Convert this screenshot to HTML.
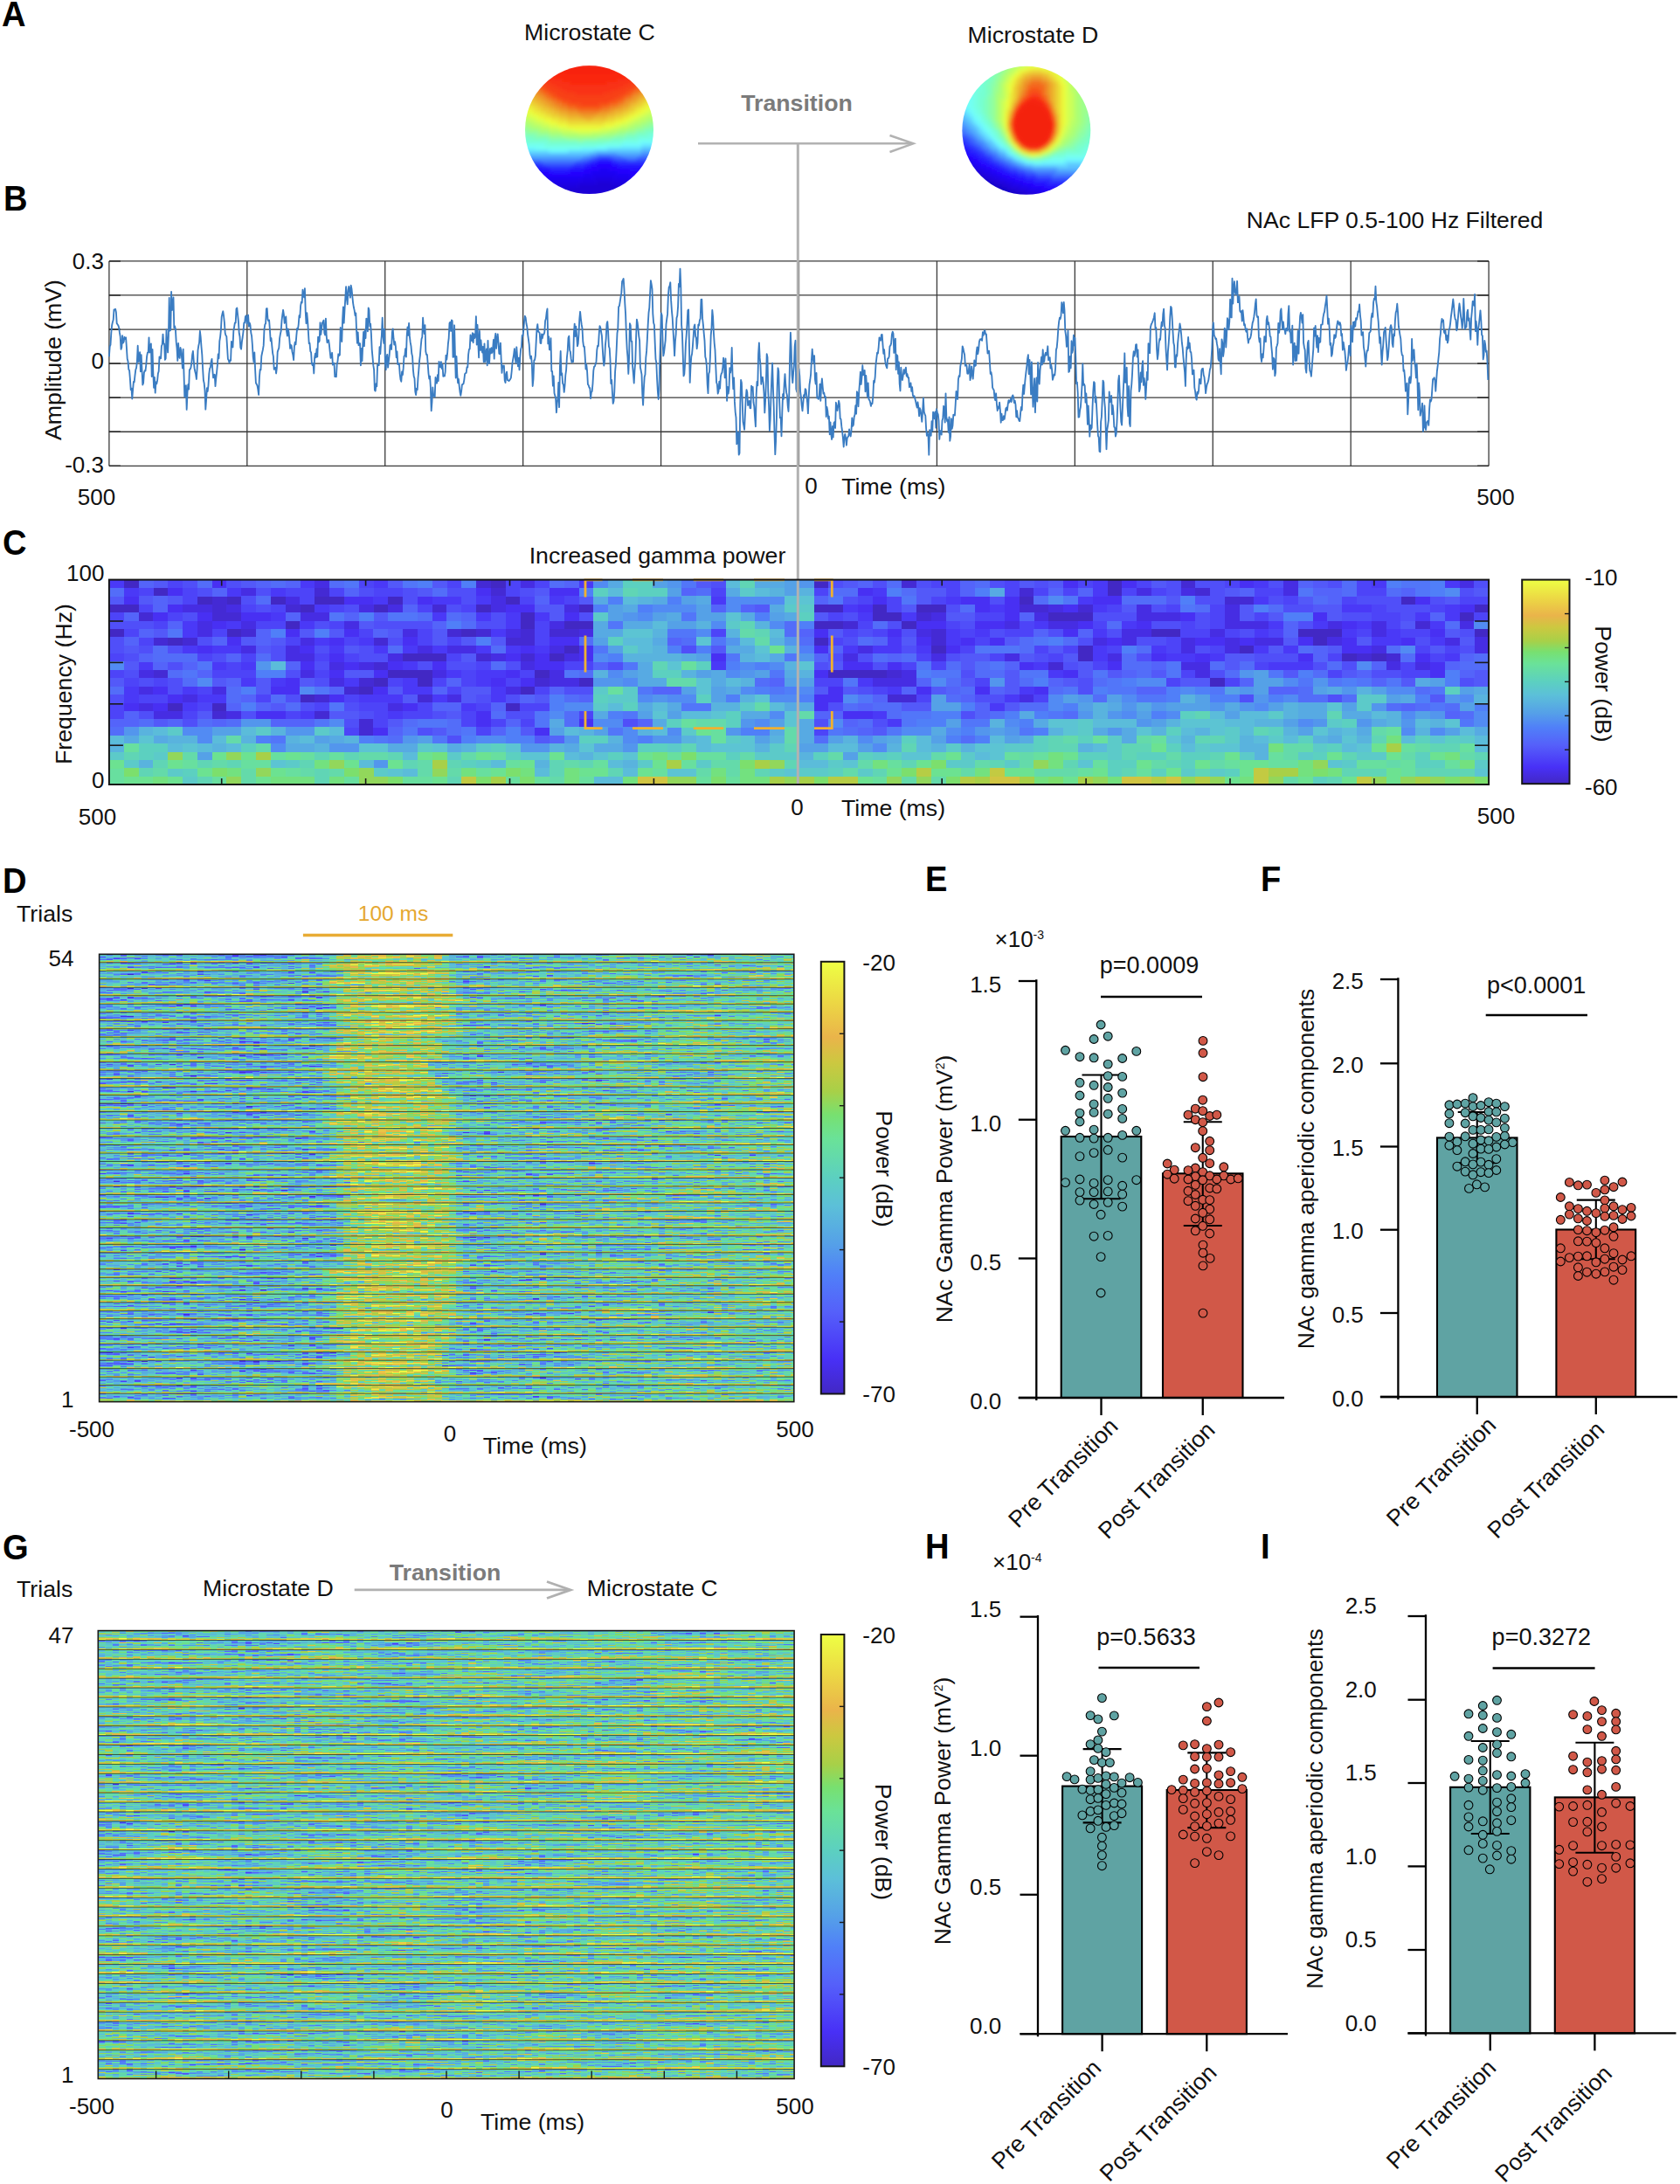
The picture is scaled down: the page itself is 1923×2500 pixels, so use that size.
<!DOCTYPE html>
<html lang="en"><head><meta charset="utf-8"><title>Figure</title>
<style>html,body{margin:0;padding:0;background:#fff}svg{display:block}text{font-family:"Liberation Sans", Arial, Helvetica, sans-serif;font-size:26px;fill:#111}</style>
</head><body>
<svg width="1923" height="2500" viewBox="0 0 1923 2500">
<defs>
<linearGradient id="cb" x1="0" y1="0" x2="0" y2="1"><stop offset="0.000" stop-color="#EEFF44"/><stop offset="0.092" stop-color="#ECD844"/><stop offset="0.175" stop-color="#EAB44A"/><stop offset="0.234" stop-color="#CCC840"/><stop offset="0.300" stop-color="#A8D048"/><stop offset="0.354" stop-color="#78E070"/><stop offset="0.410" stop-color="#6AE298"/><stop offset="0.500" stop-color="#5CD0C0"/><stop offset="0.564" stop-color="#5CC0D8"/><stop offset="0.654" stop-color="#55A0E8"/><stop offset="0.723" stop-color="#5080F8"/><stop offset="0.810" stop-color="#5560FA"/><stop offset="0.920" stop-color="#4830F6"/><stop offset="1.000" stop-color="#4228C4"/></linearGradient>
<filter id="hD" x="0" y="0" width="1" height="1" color-interpolation-filters="sRGB"><feTurbulence type="fractalNoise" baseFrequency="0.11 0.6" numOctaves="2" seed="5" result="n"/><feColorMatrix in="n" type="matrix" values="1 0 0 0 0 1 0 0 0 0 1 0 0 0 0 0 0 0 0 1" result="g"/><feComposite in="SourceGraphic" in2="g" operator="arithmetic" k1="0" k2="1" k3="0.85" k4="-0.425" result="v0"/><feTurbulence type="fractalNoise" baseFrequency="0.012 0.45" numOctaves="2" seed="12" result="n2"/><feColorMatrix in="n2" type="matrix" values="0 1 0 0 0 0 1 0 0 0 0 1 0 0 0 0 0 0 0 1" result="g2"/><feComposite in="v0" in2="g2" operator="arithmetic" k1="0" k2="1" k3="0.7" k4="-0.35" result="v"/><feFlood flood-color="#000" x="117" y="1092" width="1" height="514" result="st"/><feOffset in="st" dx="0" dy="0" x="113" y="1092" width="8" height="514" result="cl"/><feTile in="cl" x="113" y="1092" width="808" height="514" result="gr"/><feComposite in="v" in2="gr" operator="in" result="sm"/><feMorphology in="sm" operator="dilate" radius="4 0" result="px"/><feComponentTransfer in="px"><feFuncR type="table" tableValues="0.259 0.266 0.274 0.281 0.292 0.303 0.315 0.326 0.331 0.325 0.320 0.314 0.320 0.327 0.335 0.342 0.350 0.357 0.361 0.361 0.361 0.376 0.391 0.407 0.425 0.450 0.485 0.572 0.659 0.712 0.766 0.818 0.868 0.918 0.920 0.922 0.925 0.927 0.929 0.931 0.933"/><feFuncG type="table" tableValues="0.157 0.167 0.176 0.186 0.222 0.265 0.308 0.351 0.391 0.427 0.463 0.499 0.544 0.589 0.633 0.668 0.703 0.738 0.767 0.791 0.816 0.835 0.855 0.875 0.885 0.881 0.874 0.845 0.816 0.804 0.792 0.772 0.739 0.706 0.748 0.791 0.833 0.875 0.917 0.958 1.000"/><feFuncB type="table" tableValues="0.769 0.830 0.891 0.952 0.968 0.971 0.975 0.978 0.979 0.977 0.975 0.973 0.952 0.929 0.907 0.890 0.872 0.855 0.826 0.790 0.753 0.709 0.666 0.622 0.568 0.498 0.428 0.355 0.282 0.270 0.259 0.257 0.274 0.290 0.283 0.276 0.269 0.267 0.267 0.267 0.267"/></feComponentTransfer></filter>
<filter id="hG" x="0" y="0" width="1" height="1" color-interpolation-filters="sRGB"><feTurbulence type="fractalNoise" baseFrequency="0.11 0.6" numOctaves="2" seed="11" result="n"/><feColorMatrix in="n" type="matrix" values="1 0 0 0 0 1 0 0 0 0 1 0 0 0 0 0 0 0 0 1" result="g"/><feComposite in="SourceGraphic" in2="g" operator="arithmetic" k1="0" k2="1" k3="0.75" k4="-0.375" result="v0"/><feTurbulence type="fractalNoise" baseFrequency="0.012 0.45" numOctaves="2" seed="18" result="n2"/><feColorMatrix in="n2" type="matrix" values="0 1 0 0 0 0 1 0 0 0 0 1 0 0 0 0 0 0 0 1" result="g2"/><feComposite in="v0" in2="g2" operator="arithmetic" k1="0" k2="1" k3="0.7" k4="-0.35" result="v"/><feFlood flood-color="#000" x="116" y="1866" width="1" height="515" result="st"/><feOffset in="st" dx="0" dy="0" x="112" y="1866" width="8" height="515" result="cl"/><feTile in="cl" x="112" y="1866" width="808" height="515" result="gr"/><feComposite in="v" in2="gr" operator="in" result="sm"/><feMorphology in="sm" operator="dilate" radius="4 0" result="px"/><feComponentTransfer in="px"><feFuncR type="table" tableValues="0.259 0.266 0.274 0.281 0.292 0.303 0.315 0.326 0.331 0.325 0.320 0.314 0.320 0.327 0.335 0.342 0.350 0.357 0.361 0.361 0.361 0.376 0.391 0.407 0.425 0.450 0.485 0.572 0.659 0.712 0.766 0.818 0.868 0.918 0.920 0.922 0.925 0.927 0.929 0.931 0.933"/><feFuncG type="table" tableValues="0.157 0.167 0.176 0.186 0.222 0.265 0.308 0.351 0.391 0.427 0.463 0.499 0.544 0.589 0.633 0.668 0.703 0.738 0.767 0.791 0.816 0.835 0.855 0.875 0.885 0.881 0.874 0.845 0.816 0.804 0.792 0.772 0.739 0.706 0.748 0.791 0.833 0.875 0.917 0.958 1.000"/><feFuncB type="table" tableValues="0.769 0.830 0.891 0.952 0.968 0.971 0.975 0.978 0.979 0.977 0.975 0.973 0.952 0.929 0.907 0.890 0.872 0.855 0.826 0.790 0.753 0.709 0.666 0.622 0.568 0.498 0.428 0.355 0.282 0.270 0.259 0.257 0.274 0.290 0.283 0.276 0.269 0.267 0.267 0.267 0.267"/></feComponentTransfer></filter>
<clipPath id="cC"><circle cx="674.5" cy="148.6" r="73.5"/></clipPath>
<clipPath id="cD"><circle cx="1174.8" cy="149.3" r="73.5"/></clipPath>
<filter id="tblur" x="-0.05" y="-0.05" width="1.1" height="1.1"><feGaussianBlur stdDeviation="2"/></filter>
<linearGradient id="bumpD" x1="0" y1="0" x2="1" y2="0"><stop offset="0" stop-color="#fff" stop-opacity="0"/><stop offset="0.12" stop-color="#fff" stop-opacity="1"/><stop offset="0.85" stop-color="#fff" stop-opacity="1"/><stop offset="1" stop-color="#fff" stop-opacity="0.6"/></linearGradient>
<linearGradient id="postD" x1="0" y1="0" x2="1" y2="0"><stop offset="0" stop-color="#fff" stop-opacity="0.0"/><stop offset="1" stop-color="#fff" stop-opacity="1"/></linearGradient>
<linearGradient id="lghD" x1="0" y1="0" x2="0" y2="1"><stop offset="0" stop-color="#606060"/><stop offset="0.55" stop-color="#676767"/><stop offset="0.82" stop-color="#787878"/><stop offset="0.87" stop-color="#E3E3E3"/><stop offset="1" stop-color="#EDEDED"/></linearGradient>
<pattern id="phD" x="113.6" y="1092.3" width="805.2" height="9.48704" patternUnits="userSpaceOnUse"><rect width="805.2" height="9.58704" fill="url(#lghD)"/></pattern>
<clipPath id="clhD"><rect x="113.6" y="1092.3" width="795.2" height="512.3"/></clipPath>
<linearGradient id="lghG" x1="0" y1="0" x2="0" y2="1"><stop offset="0" stop-color="#606060"/><stop offset="0.55" stop-color="#676767"/><stop offset="0.82" stop-color="#787878"/><stop offset="0.87" stop-color="#E3E3E3"/><stop offset="1" stop-color="#EDEDED"/></linearGradient>
<pattern id="phG" x="112.3" y="1866.6" width="806.8" height="10.9128" patternUnits="userSpaceOnUse"><rect width="806.8" height="11.0128" fill="url(#lghG)"/></pattern>
<clipPath id="clhG"><rect x="112.3" y="1866.6" width="796.8" height="512.9"/></clipPath>
</defs>
<rect width="1923" height="2500" fill="#fff"/>
<text transform="translate(2 30) scale(0.93 1)" style="font-weight:bold;font-size:41px;fill:#000">A</text>
<text transform="translate(4 240.5) scale(0.93 1)" style="font-weight:bold;font-size:41px;fill:#000">B</text>
<text transform="translate(3 634.5) scale(0.93 1)" style="font-weight:bold;font-size:41px;fill:#000">C</text>
<text transform="translate(3 1021.5) scale(0.93 1)" style="font-weight:bold;font-size:41px;fill:#000">D</text>
<text transform="translate(1059 1020) scale(0.93 1)" style="font-weight:bold;font-size:41px;fill:#000">E</text>
<text transform="translate(1443 1020) scale(0.93 1)" style="font-weight:bold;font-size:41px;fill:#000">F</text>
<text transform="translate(3 1785) scale(0.93 1)" style="font-weight:bold;font-size:41px;fill:#000">G</text>
<text transform="translate(1059 1783.5) scale(0.93 1)" style="font-weight:bold;font-size:41px;fill:#000">H</text>
<text transform="translate(1443 1783.5) scale(0.93 1)" style="font-weight:bold;font-size:41px;fill:#000">I</text>
<text x="675" y="45.5" text-anchor="middle" style="font-size:26.7px;">Microstate C</text>
<text x="1182.5" y="48.5" text-anchor="middle" style="font-size:26.7px;">Microstate D</text>
<text x="912" y="126.5" text-anchor="middle" style="font-weight:bold;fill:#7b7b7b;font-size:26.7px;">Transition</text>
<g clip-path="url(#cC)"><g filter="url(#tblur)"><path fill="#1A00D6" d="M682.5 207.6h18.4v3.4h-18.4zM661.5 210.6h63.4v3.4h-63.4zM598.5 213.6h153.4v3.4h-153.4zM598.5 216.6h153.4v3.4h-153.4zM598.5 219.6h153.4v3.4h-153.4zM598.5 222.6h153.4v3.4h-153.4z"/><path fill="#1C00E4" d="M679.5 201.6h24.4v3.4h-24.4zM664.5 204.6h57.4v3.4h-57.4zM598.5 207.6h84.4v3.4h-84.4zM700.5 207.6h51.4v3.4h-51.4zM598.5 210.6h63.4v3.4h-63.4zM724.5 210.6h27.4v3.4h-27.4z"/><path fill="#1E00F1" d="M685.5 192.6h12.4v3.4h-12.4zM676.5 195.6h30.4v3.4h-30.4zM667.5 198.6h54.4v3.4h-54.4zM598.5 201.6h81.4v3.4h-81.4zM703.5 201.6h48.4v3.4h-48.4zM598.5 204.6h66.4v3.4h-66.4zM721.5 204.6h30.4v3.4h-30.4z"/><path fill="#2000FF" d="M682.5 186.6h18.4v3.4h-18.4zM676.5 189.6h30.4v3.4h-30.4zM667.5 192.6h18.4v3.4h-18.4zM697.5 192.6h24.4v3.4h-24.4zM598.5 195.6h30.4v3.4h-30.4zM652.5 195.6h24.4v3.4h-24.4zM706.5 195.6h45.4v3.4h-45.4zM598.5 198.6h69.4v3.4h-69.4zM721.5 198.6h30.4v3.4h-30.4z"/><path fill="#2311FF" d="M682.5 183.6h18.4v3.4h-18.4zM673.5 186.6h9.4v3.4h-9.4zM700.5 186.6h9.4v3.4h-9.4zM667.5 189.6h9.4v3.4h-9.4zM706.5 189.6h45.4v3.4h-45.4zM598.5 192.6h33.4v3.4h-33.4zM649.5 192.6h18.4v3.4h-18.4zM721.5 192.6h30.4v3.4h-30.4zM628.5 195.6h24.4v3.4h-24.4z"/><path fill="#2622FF" d="M685.5 180.6h12.4v3.4h-12.4zM676.5 183.6h6.4v3.4h-6.4zM700.5 183.6h6.4v3.4h-6.4zM667.5 186.6h6.4v3.4h-6.4zM709.5 186.6h42.4v3.4h-42.4zM598.5 189.6h30.4v3.4h-30.4zM652.5 189.6h15.4v3.4h-15.4zM631.5 192.6h18.4v3.4h-18.4z"/><path fill="#2A36FF" d="M679.5 180.6h6.4v3.4h-6.4zM697.5 180.6h6.4v3.4h-6.4zM670.5 183.6h6.4v3.4h-6.4zM706.5 183.6h45.4v3.4h-45.4zM598.5 186.6h24.4v3.4h-24.4zM655.5 186.6h12.4v3.4h-12.4zM628.5 189.6h24.4v3.4h-24.4z"/><path fill="#3353FF" d="M682.5 177.6h18.4v3.4h-18.4zM673.5 180.6h6.4v3.4h-6.4zM703.5 180.6h15.4v3.4h-15.4zM727.5 180.6h24.4v3.4h-24.4zM598.5 183.6h21.4v3.4h-21.4zM658.5 183.6h12.4v3.4h-12.4zM622.5 186.6h33.4v3.4h-33.4z"/><path fill="#3C70FF" d="M676.5 177.6h6.4v3.4h-6.4zM700.5 177.6h12.4v3.4h-12.4zM730.5 177.6h21.4v3.4h-21.4zM598.5 180.6h12.4v3.4h-12.4zM664.5 180.6h9.4v3.4h-9.4zM718.5 180.6h9.4v3.4h-9.4zM619.5 183.6h39.4v3.4h-39.4z"/><path fill="#448CFF" d="M682.5 174.6h24.4v3.4h-24.4zM733.5 174.6h18.4v3.4h-18.4zM667.5 177.6h9.4v3.4h-9.4zM712.5 177.6h18.4v3.4h-18.4zM610.5 180.6h54.4v3.4h-54.4z"/><path fill="#4EA7FF" d="M733.5 171.6h18.4v3.4h-18.4zM673.5 174.6h9.4v3.4h-9.4zM706.5 174.6h27.4v3.4h-27.4zM598.5 177.6h69.4v3.4h-69.4z"/><path fill="#58C1FF" d="M733.5 168.6h18.4v3.4h-18.4zM679.5 171.6h54.4v3.4h-54.4zM598.5 174.6h75.4v3.4h-75.4z"/><path fill="#62DBFF" d="M733.5 165.6h18.4v3.4h-18.4zM694.5 168.6h39.4v3.4h-39.4zM598.5 171.6h30.4v3.4h-30.4zM649.5 171.6h30.4v3.4h-30.4z"/><path fill="#6CF5FF" d="M733.5 162.6h18.4v3.4h-18.4zM709.5 165.6h24.4v3.4h-24.4zM598.5 168.6h15.4v3.4h-15.4zM664.5 168.6h30.4v3.4h-30.4zM628.5 171.6h21.4v3.4h-21.4z"/><path fill="#72FFF5" d="M748.5 156.6h3.4v3.4h-3.4zM730.5 159.6h21.4v3.4h-21.4zM712.5 162.6h21.4v3.4h-21.4zM598.5 165.6h24.4v3.4h-24.4zM682.5 165.6h27.4v3.4h-27.4zM613.5 168.6h51.4v3.4h-51.4z"/><path fill="#74FFE3" d="M742.5 153.6h9.4v3.4h-9.4zM730.5 156.6h18.4v3.4h-18.4zM598.5 159.6h3.4v3.4h-3.4zM712.5 159.6h18.4v3.4h-18.4zM598.5 162.6h27.4v3.4h-27.4zM691.5 162.6h21.4v3.4h-21.4zM622.5 165.6h60.4v3.4h-60.4z"/><path fill="#76FFD2" d="M748.5 147.6h3.4v3.4h-3.4zM739.5 150.6h12.4v3.4h-12.4zM727.5 153.6h15.4v3.4h-15.4zM598.5 156.6h9.4v3.4h-9.4zM715.5 156.6h15.4v3.4h-15.4zM601.5 159.6h27.4v3.4h-27.4zM697.5 159.6h15.4v3.4h-15.4zM625.5 162.6h66.4v3.4h-66.4z"/><path fill="#7EFFBE" d="M745.5 144.6h6.4v3.4h-6.4zM736.5 147.6h12.4v3.4h-12.4zM598.5 150.6h3.4v3.4h-3.4zM727.5 150.6h12.4v3.4h-12.4zM598.5 153.6h15.4v3.4h-15.4zM715.5 153.6h12.4v3.4h-12.4zM607.5 156.6h21.4v3.4h-21.4zM700.5 156.6h15.4v3.4h-15.4zM628.5 159.6h33.4v3.4h-33.4zM667.5 159.6h30.4v3.4h-30.4z"/><path fill="#8DFFA5" d="M742.5 141.6h9.4v3.4h-9.4zM736.5 144.6h9.4v3.4h-9.4zM598.5 147.6h6.4v3.4h-6.4zM727.5 147.6h9.4v3.4h-9.4zM601.5 150.6h15.4v3.4h-15.4zM715.5 150.6h12.4v3.4h-12.4zM613.5 153.6h15.4v3.4h-15.4zM703.5 153.6h12.4v3.4h-12.4zM628.5 156.6h21.4v3.4h-21.4zM682.5 156.6h18.4v3.4h-18.4zM661.5 159.6h6.4v3.4h-6.4z"/><path fill="#9CFF8C" d="M748.5 135.6h3.4v3.4h-3.4zM739.5 138.6h12.4v3.4h-12.4zM598.5 141.6h3.4v3.4h-3.4zM733.5 141.6h9.4v3.4h-9.4zM598.5 144.6h9.4v3.4h-9.4zM727.5 144.6h9.4v3.4h-9.4zM604.5 147.6h12.4v3.4h-12.4zM718.5 147.6h9.4v3.4h-9.4zM616.5 150.6h12.4v3.4h-12.4zM706.5 150.6h9.4v3.4h-9.4zM628.5 153.6h15.4v3.4h-15.4zM688.5 153.6h15.4v3.4h-15.4zM649.5 156.6h33.4v3.4h-33.4z"/><path fill="#ABFF75" d="M745.5 132.6h6.4v3.4h-6.4zM739.5 135.6h9.4v3.4h-9.4zM598.5 138.6h6.4v3.4h-6.4zM733.5 138.6h6.4v3.4h-6.4zM601.5 141.6h9.4v3.4h-9.4zM724.5 141.6h9.4v3.4h-9.4zM607.5 144.6h12.4v3.4h-12.4zM718.5 144.6h9.4v3.4h-9.4zM616.5 147.6h12.4v3.4h-12.4zM706.5 147.6h12.4v3.4h-12.4zM628.5 150.6h15.4v3.4h-15.4zM694.5 150.6h12.4v3.4h-12.4zM643.5 153.6h45.4v3.4h-45.4z"/><path fill="#BCFF66" d="M748.5 126.6h3.4v3.4h-3.4zM742.5 129.6h9.4v3.4h-9.4zM598.5 132.6h3.4v3.4h-3.4zM736.5 132.6h9.4v3.4h-9.4zM598.5 135.6h9.4v3.4h-9.4zM730.5 135.6h9.4v3.4h-9.4zM604.5 138.6h9.4v3.4h-9.4zM724.5 138.6h9.4v3.4h-9.4zM610.5 141.6h9.4v3.4h-9.4zM718.5 141.6h6.4v3.4h-6.4zM619.5 144.6h9.4v3.4h-9.4zM709.5 144.6h9.4v3.4h-9.4zM628.5 147.6h12.4v3.4h-12.4zM697.5 147.6h9.4v3.4h-9.4zM643.5 150.6h18.4v3.4h-18.4zM676.5 150.6h18.4v3.4h-18.4z"/><path fill="#CDFF57" d="M745.5 123.6h6.4v3.4h-6.4zM742.5 126.6h6.4v3.4h-6.4zM598.5 129.6h3.4v3.4h-3.4zM736.5 129.6h6.4v3.4h-6.4zM601.5 132.6h6.4v3.4h-6.4zM730.5 132.6h6.4v3.4h-6.4zM607.5 135.6h6.4v3.4h-6.4zM724.5 135.6h6.4v3.4h-6.4zM613.5 138.6h9.4v3.4h-9.4zM718.5 138.6h6.4v3.4h-6.4zM619.5 141.6h9.4v3.4h-9.4zM709.5 141.6h9.4v3.4h-9.4zM628.5 144.6h12.4v3.4h-12.4zM700.5 144.6h9.4v3.4h-9.4zM640.5 147.6h15.4v3.4h-15.4zM685.5 147.6h12.4v3.4h-12.4zM661.5 150.6h15.4v3.4h-15.4z"/><path fill="#DEFF48" d="M748.5 117.6h3.4v3.4h-3.4zM745.5 120.6h6.4v3.4h-6.4zM739.5 123.6h6.4v3.4h-6.4zM598.5 126.6h6.4v3.4h-6.4zM736.5 126.6h6.4v3.4h-6.4zM601.5 129.6h9.4v3.4h-9.4zM730.5 129.6h6.4v3.4h-6.4zM607.5 132.6h9.4v3.4h-9.4zM724.5 132.6h6.4v3.4h-6.4zM613.5 135.6h9.4v3.4h-9.4zM718.5 135.6h6.4v3.4h-6.4zM622.5 138.6h6.4v3.4h-6.4zM712.5 138.6h6.4v3.4h-6.4zM628.5 141.6h9.4v3.4h-9.4zM703.5 141.6h6.4v3.4h-6.4zM640.5 144.6h9.4v3.4h-9.4zM688.5 144.6h12.4v3.4h-12.4zM655.5 147.6h30.4v3.4h-30.4z"/><path fill="#ECFC3B" d="M748.5 114.6h3.4v3.4h-3.4zM742.5 117.6h6.4v3.4h-6.4zM598.5 120.6h3.4v3.4h-3.4zM739.5 120.6h6.4v3.4h-6.4zM598.5 123.6h9.4v3.4h-9.4zM733.5 123.6h6.4v3.4h-6.4zM604.5 126.6h6.4v3.4h-6.4zM730.5 126.6h6.4v3.4h-6.4zM610.5 129.6h6.4v3.4h-6.4zM724.5 129.6h6.4v3.4h-6.4zM616.5 132.6h6.4v3.4h-6.4zM718.5 132.6h6.4v3.4h-6.4zM622.5 135.6h9.4v3.4h-9.4zM712.5 135.6h6.4v3.4h-6.4zM628.5 138.6h9.4v3.4h-9.4zM703.5 138.6h9.4v3.4h-9.4zM637.5 141.6h12.4v3.4h-12.4zM691.5 141.6h12.4v3.4h-12.4zM649.5 144.6h39.4v3.4h-39.4z"/><path fill="#ECEA37" d="M748.5 108.6h3.4v3.4h-3.4zM745.5 111.6h6.4v3.4h-6.4zM598.5 114.6h3.4v3.4h-3.4zM742.5 114.6h6.4v3.4h-6.4zM598.5 117.6h6.4v3.4h-6.4zM736.5 117.6h6.4v3.4h-6.4zM601.5 120.6h9.4v3.4h-9.4zM733.5 120.6h6.4v3.4h-6.4zM607.5 123.6h6.4v3.4h-6.4zM727.5 123.6h6.4v3.4h-6.4zM610.5 126.6h9.4v3.4h-9.4zM724.5 126.6h6.4v3.4h-6.4zM616.5 129.6h9.4v3.4h-9.4zM718.5 129.6h6.4v3.4h-6.4zM622.5 132.6h9.4v3.4h-9.4zM712.5 132.6h6.4v3.4h-6.4zM631.5 135.6h9.4v3.4h-9.4zM703.5 135.6h9.4v3.4h-9.4zM637.5 138.6h12.4v3.4h-12.4zM691.5 138.6h12.4v3.4h-12.4zM649.5 141.6h42.4v3.4h-42.4z"/><path fill="#ECD934" d="M748.5 105.6h3.4v3.4h-3.4zM745.5 108.6h3.4v3.4h-3.4zM598.5 111.6h3.4v3.4h-3.4zM739.5 111.6h6.4v3.4h-6.4zM601.5 114.6h6.4v3.4h-6.4zM736.5 114.6h6.4v3.4h-6.4zM604.5 117.6h6.4v3.4h-6.4zM733.5 117.6h3.4v3.4h-3.4zM610.5 120.6h6.4v3.4h-6.4zM727.5 120.6h6.4v3.4h-6.4zM613.5 123.6h6.4v3.4h-6.4zM724.5 123.6h3.4v3.4h-3.4zM619.5 126.6h6.4v3.4h-6.4zM718.5 126.6h6.4v3.4h-6.4zM625.5 129.6h6.4v3.4h-6.4zM712.5 129.6h6.4v3.4h-6.4zM631.5 132.6h9.4v3.4h-9.4zM703.5 132.6h9.4v3.4h-9.4zM640.5 135.6h9.4v3.4h-9.4zM694.5 135.6h9.4v3.4h-9.4zM649.5 138.6h42.4v3.4h-42.4z"/><path fill="#ECC830" d="M745.5 102.6h6.4v3.4h-6.4zM598.5 105.6h3.4v3.4h-3.4zM742.5 105.6h6.4v3.4h-6.4zM598.5 108.6h6.4v3.4h-6.4zM739.5 108.6h6.4v3.4h-6.4zM601.5 111.6h6.4v3.4h-6.4zM736.5 111.6h3.4v3.4h-3.4zM607.5 114.6h6.4v3.4h-6.4zM730.5 114.6h6.4v3.4h-6.4zM610.5 117.6h6.4v3.4h-6.4zM727.5 117.6h6.4v3.4h-6.4zM616.5 120.6h6.4v3.4h-6.4zM721.5 120.6h6.4v3.4h-6.4zM619.5 123.6h9.4v3.4h-9.4zM718.5 123.6h6.4v3.4h-6.4zM625.5 126.6h9.4v3.4h-9.4zM712.5 126.6h6.4v3.4h-6.4zM631.5 129.6h9.4v3.4h-9.4zM703.5 129.6h9.4v3.4h-9.4zM640.5 132.6h9.4v3.4h-9.4zM694.5 132.6h9.4v3.4h-9.4zM649.5 135.6h21.4v3.4h-21.4zM676.5 135.6h18.4v3.4h-18.4z"/><path fill="#EDB62E" d="M748.5 96.6h3.4v3.4h-3.4zM598.5 99.6h3.4v3.4h-3.4zM745.5 99.6h6.4v3.4h-6.4zM598.5 102.6h6.4v3.4h-6.4zM742.5 102.6h3.4v3.4h-3.4zM601.5 105.6h6.4v3.4h-6.4zM739.5 105.6h3.4v3.4h-3.4zM604.5 108.6h6.4v3.4h-6.4zM736.5 108.6h3.4v3.4h-3.4zM607.5 111.6h6.4v3.4h-6.4zM730.5 111.6h6.4v3.4h-6.4zM613.5 114.6h6.4v3.4h-6.4zM727.5 114.6h3.4v3.4h-3.4zM616.5 117.6h6.4v3.4h-6.4zM721.5 117.6h6.4v3.4h-6.4zM622.5 120.6h6.4v3.4h-6.4zM718.5 120.6h3.4v3.4h-3.4zM628.5 123.6h6.4v3.4h-6.4zM712.5 123.6h6.4v3.4h-6.4zM634.5 126.6h6.4v3.4h-6.4zM703.5 126.6h9.4v3.4h-9.4zM640.5 129.6h9.4v3.4h-9.4zM694.5 129.6h9.4v3.4h-9.4zM649.5 132.6h15.4v3.4h-15.4zM679.5 132.6h15.4v3.4h-15.4zM670.5 135.6h6.4v3.4h-6.4z"/><path fill="#EDA52B" d="M748.5 93.6h3.4v3.4h-3.4zM598.5 96.6h3.4v3.4h-3.4zM745.5 96.6h3.4v3.4h-3.4zM601.5 99.6h3.4v3.4h-3.4zM742.5 99.6h3.4v3.4h-3.4zM604.5 102.6h3.4v3.4h-3.4zM736.5 102.6h6.4v3.4h-6.4zM607.5 105.6h6.4v3.4h-6.4zM733.5 105.6h6.4v3.4h-6.4zM610.5 108.6h6.4v3.4h-6.4zM730.5 108.6h6.4v3.4h-6.4zM613.5 111.6h6.4v3.4h-6.4zM727.5 111.6h3.4v3.4h-3.4zM619.5 114.6h6.4v3.4h-6.4zM721.5 114.6h6.4v3.4h-6.4zM622.5 117.6h6.4v3.4h-6.4zM718.5 117.6h3.4v3.4h-3.4zM628.5 120.6h6.4v3.4h-6.4zM712.5 120.6h6.4v3.4h-6.4zM634.5 123.6h6.4v3.4h-6.4zM703.5 123.6h9.4v3.4h-9.4zM640.5 126.6h9.4v3.4h-9.4zM697.5 126.6h6.4v3.4h-6.4zM649.5 129.6h15.4v3.4h-15.4zM682.5 129.6h12.4v3.4h-12.4zM664.5 132.6h15.4v3.4h-15.4z"/><path fill="#EE9428" d="M748.5 87.6h3.4v3.4h-3.4zM598.5 90.6h3.4v3.4h-3.4zM745.5 90.6h6.4v3.4h-6.4zM598.5 93.6h6.4v3.4h-6.4zM742.5 93.6h6.4v3.4h-6.4zM601.5 96.6h6.4v3.4h-6.4zM739.5 96.6h6.4v3.4h-6.4zM604.5 99.6h6.4v3.4h-6.4zM736.5 99.6h6.4v3.4h-6.4zM607.5 102.6h6.4v3.4h-6.4zM733.5 102.6h3.4v3.4h-3.4zM613.5 105.6h3.4v3.4h-3.4zM730.5 105.6h3.4v3.4h-3.4zM616.5 108.6h6.4v3.4h-6.4zM724.5 108.6h6.4v3.4h-6.4zM619.5 111.6h6.4v3.4h-6.4zM721.5 111.6h6.4v3.4h-6.4zM625.5 114.6h6.4v3.4h-6.4zM715.5 114.6h6.4v3.4h-6.4zM628.5 117.6h6.4v3.4h-6.4zM712.5 117.6h6.4v3.4h-6.4zM634.5 120.6h6.4v3.4h-6.4zM706.5 120.6h6.4v3.4h-6.4zM640.5 123.6h9.4v3.4h-9.4zM697.5 123.6h6.4v3.4h-6.4zM649.5 126.6h12.4v3.4h-12.4zM685.5 126.6h12.4v3.4h-12.4zM664.5 129.6h18.4v3.4h-18.4z"/><path fill="#F07E23" d="M748.5 84.6h3.4v3.4h-3.4zM598.5 87.6h3.4v3.4h-3.4zM745.5 87.6h3.4v3.4h-3.4zM601.5 90.6h3.4v3.4h-3.4zM742.5 90.6h3.4v3.4h-3.4zM604.5 93.6h3.4v3.4h-3.4zM739.5 93.6h3.4v3.4h-3.4zM607.5 96.6h3.4v3.4h-3.4zM736.5 96.6h3.4v3.4h-3.4zM610.5 99.6h6.4v3.4h-6.4zM733.5 99.6h3.4v3.4h-3.4zM613.5 102.6h6.4v3.4h-6.4zM730.5 102.6h3.4v3.4h-3.4zM616.5 105.6h6.4v3.4h-6.4zM724.5 105.6h6.4v3.4h-6.4zM622.5 108.6h3.4v3.4h-3.4zM721.5 108.6h3.4v3.4h-3.4zM625.5 111.6h6.4v3.4h-6.4zM715.5 111.6h6.4v3.4h-6.4zM631.5 114.6h6.4v3.4h-6.4zM712.5 114.6h3.4v3.4h-3.4zM634.5 117.6h9.4v3.4h-9.4zM706.5 117.6h6.4v3.4h-6.4zM640.5 120.6h9.4v3.4h-9.4zM697.5 120.6h9.4v3.4h-9.4zM649.5 123.6h12.4v3.4h-12.4zM688.5 123.6h9.4v3.4h-9.4zM661.5 126.6h24.4v3.4h-24.4z"/><path fill="#F4681D" d="M748.5 78.6h3.4v3.4h-3.4zM598.5 81.6h3.4v3.4h-3.4zM748.5 81.6h3.4v3.4h-3.4zM598.5 84.6h6.4v3.4h-6.4zM745.5 84.6h3.4v3.4h-3.4zM601.5 87.6h6.4v3.4h-6.4zM742.5 87.6h3.4v3.4h-3.4zM604.5 90.6h6.4v3.4h-6.4zM739.5 90.6h3.4v3.4h-3.4zM607.5 93.6h6.4v3.4h-6.4zM736.5 93.6h3.4v3.4h-3.4zM610.5 96.6h6.4v3.4h-6.4zM733.5 96.6h3.4v3.4h-3.4zM616.5 99.6h3.4v3.4h-3.4zM727.5 99.6h6.4v3.4h-6.4zM619.5 102.6h3.4v3.4h-3.4zM724.5 102.6h6.4v3.4h-6.4zM622.5 105.6h6.4v3.4h-6.4zM721.5 105.6h3.4v3.4h-3.4zM625.5 108.6h6.4v3.4h-6.4zM715.5 108.6h6.4v3.4h-6.4zM631.5 111.6h6.4v3.4h-6.4zM712.5 111.6h3.4v3.4h-3.4zM637.5 114.6h6.4v3.4h-6.4zM706.5 114.6h6.4v3.4h-6.4zM643.5 117.6h6.4v3.4h-6.4zM697.5 117.6h9.4v3.4h-9.4zM649.5 120.6h9.4v3.4h-9.4zM688.5 120.6h9.4v3.4h-9.4zM661.5 123.6h27.4v3.4h-27.4z"/><path fill="#F75117" d="M598.5 75.6h3.4v3.4h-3.4zM748.5 75.6h3.4v3.4h-3.4zM598.5 78.6h3.4v3.4h-3.4zM745.5 78.6h3.4v3.4h-3.4zM601.5 81.6h3.4v3.4h-3.4zM742.5 81.6h6.4v3.4h-6.4zM604.5 84.6h3.4v3.4h-3.4zM739.5 84.6h6.4v3.4h-6.4zM607.5 87.6h3.4v3.4h-3.4zM736.5 87.6h6.4v3.4h-6.4zM610.5 90.6h3.4v3.4h-3.4zM733.5 90.6h6.4v3.4h-6.4zM613.5 93.6h3.4v3.4h-3.4zM730.5 93.6h6.4v3.4h-6.4zM616.5 96.6h6.4v3.4h-6.4zM727.5 96.6h6.4v3.4h-6.4zM619.5 99.6h6.4v3.4h-6.4zM724.5 99.6h3.4v3.4h-3.4zM622.5 102.6h6.4v3.4h-6.4zM718.5 102.6h6.4v3.4h-6.4zM628.5 105.6h6.4v3.4h-6.4zM715.5 105.6h6.4v3.4h-6.4zM631.5 108.6h6.4v3.4h-6.4zM709.5 108.6h6.4v3.4h-6.4zM637.5 111.6h6.4v3.4h-6.4zM703.5 111.6h9.4v3.4h-9.4zM643.5 114.6h9.4v3.4h-9.4zM697.5 114.6h9.4v3.4h-9.4zM649.5 117.6h15.4v3.4h-15.4zM685.5 117.6h12.4v3.4h-12.4zM658.5 120.6h30.4v3.4h-30.4z"/><path fill="#F84013" d="M598.5 72.6h3.4v3.4h-3.4zM748.5 72.6h3.4v3.4h-3.4zM601.5 75.6h3.4v3.4h-3.4zM745.5 75.6h3.4v3.4h-3.4zM601.5 78.6h6.4v3.4h-6.4zM742.5 78.6h3.4v3.4h-3.4zM604.5 81.6h6.4v3.4h-6.4zM739.5 81.6h3.4v3.4h-3.4zM607.5 84.6h6.4v3.4h-6.4zM733.5 84.6h6.4v3.4h-6.4zM610.5 87.6h9.4v3.4h-9.4zM730.5 87.6h6.4v3.4h-6.4zM613.5 90.6h9.4v3.4h-9.4zM724.5 90.6h9.4v3.4h-9.4zM616.5 93.6h12.4v3.4h-12.4zM721.5 93.6h9.4v3.4h-9.4zM622.5 96.6h12.4v3.4h-12.4zM715.5 96.6h12.4v3.4h-12.4zM625.5 99.6h15.4v3.4h-15.4zM709.5 99.6h15.4v3.4h-15.4zM628.5 102.6h18.4v3.4h-18.4zM700.5 102.6h18.4v3.4h-18.4zM634.5 105.6h24.4v3.4h-24.4zM691.5 105.6h24.4v3.4h-24.4zM637.5 108.6h72.4v3.4h-72.4zM643.5 111.6h60.4v3.4h-60.4zM652.5 114.6h45.4v3.4h-45.4zM664.5 117.6h21.4v3.4h-21.4z"/><path fill="#F93312" d="M601.5 72.6h3.4v3.4h-3.4zM742.5 72.6h6.4v3.4h-6.4zM604.5 75.6h6.4v3.4h-6.4zM739.5 75.6h6.4v3.4h-6.4zM607.5 78.6h9.4v3.4h-9.4zM733.5 78.6h9.4v3.4h-9.4zM610.5 81.6h9.4v3.4h-9.4zM727.5 81.6h12.4v3.4h-12.4zM613.5 84.6h12.4v3.4h-12.4zM721.5 84.6h12.4v3.4h-12.4zM619.5 87.6h15.4v3.4h-15.4zM715.5 87.6h15.4v3.4h-15.4zM622.5 90.6h21.4v3.4h-21.4zM706.5 90.6h18.4v3.4h-18.4zM628.5 93.6h24.4v3.4h-24.4zM694.5 93.6h27.4v3.4h-27.4zM634.5 96.6h81.4v3.4h-81.4zM640.5 99.6h69.4v3.4h-69.4zM646.5 102.6h54.4v3.4h-54.4zM658.5 105.6h33.4v3.4h-33.4z"/><path fill="#FA2710" d="M604.5 72.6h12.4v3.4h-12.4zM733.5 72.6h9.4v3.4h-9.4zM610.5 75.6h15.4v3.4h-15.4zM724.5 75.6h15.4v3.4h-15.4zM616.5 78.6h18.4v3.4h-18.4zM715.5 78.6h18.4v3.4h-18.4zM619.5 81.6h27.4v3.4h-27.4zM703.5 81.6h24.4v3.4h-24.4zM625.5 84.6h96.4v3.4h-96.4zM634.5 87.6h81.4v3.4h-81.4zM643.5 90.6h63.4v3.4h-63.4zM652.5 93.6h42.4v3.4h-42.4z"/><path fill="#F82310" d="M616.5 72.6h45.4v3.4h-45.4zM688.5 72.6h45.4v3.4h-45.4zM625.5 75.6h99.4v3.4h-99.4zM634.5 78.6h81.4v3.4h-81.4zM646.5 81.6h57.4v3.4h-57.4z"/><path fill="#F62110" d="M661.5 72.6h27.4v3.4h-27.4z"/></g></g>
<g clip-path="url(#cD)"><g filter="url(#tblur)"><path fill="#1800C8" d="M1098.8 190.3h3.4v3.4h-3.4zM1098.8 193.3h9.4v3.4h-9.4zM1098.8 196.3h15.4v3.4h-15.4zM1098.8 199.3h21.4v3.4h-21.4zM1098.8 202.3h27.4v3.4h-27.4zM1098.8 205.3h33.4v3.4h-33.4zM1098.8 208.3h39.4v3.4h-39.4zM1098.8 211.3h48.4v3.4h-48.4zM1098.8 214.3h54.4v3.4h-54.4zM1098.8 217.3h63.4v3.4h-63.4zM1098.8 220.3h72.4v3.4h-72.4zM1098.8 223.3h81.4v3.4h-81.4z"/><path fill="#1A00D6" d="M1098.8 187.3h6.4v3.4h-6.4zM1101.8 190.3h9.4v3.4h-9.4zM1107.8 193.3h9.4v3.4h-9.4zM1113.8 196.3h9.4v3.4h-9.4zM1119.8 199.3h9.4v3.4h-9.4zM1125.8 202.3h9.4v3.4h-9.4zM1131.8 205.3h9.4v3.4h-9.4zM1137.8 208.3h12.4v3.4h-12.4zM1146.8 211.3h9.4v3.4h-9.4zM1152.8 214.3h12.4v3.4h-12.4zM1161.8 217.3h12.4v3.4h-12.4zM1170.8 220.3h12.4v3.4h-12.4zM1179.8 223.3h12.4v3.4h-12.4z"/><path fill="#1C00E4" d="M1098.8 181.3h3.4v3.4h-3.4zM1098.8 184.3h9.4v3.4h-9.4zM1104.8 187.3h9.4v3.4h-9.4zM1110.8 190.3h9.4v3.4h-9.4zM1116.8 193.3h9.4v3.4h-9.4zM1122.8 196.3h9.4v3.4h-9.4zM1128.8 199.3h9.4v3.4h-9.4zM1134.8 202.3h9.4v3.4h-9.4zM1140.8 205.3h12.4v3.4h-12.4zM1149.8 208.3h9.4v3.4h-9.4zM1155.8 211.3h12.4v3.4h-12.4zM1164.8 214.3h12.4v3.4h-12.4zM1173.8 217.3h12.4v3.4h-12.4zM1182.8 220.3h15.4v3.4h-15.4zM1191.8 223.3h15.4v3.4h-15.4z"/><path fill="#1E00F1" d="M1098.8 175.3h3.4v3.4h-3.4zM1098.8 178.3h6.4v3.4h-6.4zM1101.8 181.3h9.4v3.4h-9.4zM1107.8 184.3h9.4v3.4h-9.4zM1113.8 187.3h9.4v3.4h-9.4zM1119.8 190.3h9.4v3.4h-9.4zM1125.8 193.3h9.4v3.4h-9.4zM1131.8 196.3h9.4v3.4h-9.4zM1137.8 199.3h9.4v3.4h-9.4zM1143.8 202.3h9.4v3.4h-9.4zM1152.8 205.3h9.4v3.4h-9.4zM1158.8 208.3h12.4v3.4h-12.4zM1167.8 211.3h12.4v3.4h-12.4zM1176.8 214.3h15.4v3.4h-15.4zM1185.8 217.3h15.4v3.4h-15.4zM1197.8 220.3h15.4v3.4h-15.4zM1206.8 223.3h15.4v3.4h-15.4z"/><path fill="#2000FF" d="M1098.8 172.3h6.4v3.4h-6.4zM1101.8 175.3h6.4v3.4h-6.4zM1104.8 178.3h9.4v3.4h-9.4zM1110.8 181.3h9.4v3.4h-9.4zM1116.8 184.3h6.4v3.4h-6.4zM1122.8 187.3h6.4v3.4h-6.4zM1128.8 190.3h6.4v3.4h-6.4zM1134.8 193.3h6.4v3.4h-6.4zM1140.8 196.3h6.4v3.4h-6.4zM1146.8 199.3h9.4v3.4h-9.4zM1152.8 202.3h9.4v3.4h-9.4zM1161.8 205.3h9.4v3.4h-9.4zM1170.8 208.3h12.4v3.4h-12.4zM1179.8 211.3h15.4v3.4h-15.4zM1191.8 214.3h15.4v3.4h-15.4zM1200.8 217.3h18.4v3.4h-18.4zM1212.8 220.3h15.4v3.4h-15.4zM1221.8 223.3h15.4v3.4h-15.4z"/><path fill="#2311FF" d="M1098.8 166.3h3.4v3.4h-3.4zM1098.8 169.3h9.4v3.4h-9.4zM1104.8 172.3h6.4v3.4h-6.4zM1107.8 175.3h9.4v3.4h-9.4zM1113.8 178.3h6.4v3.4h-6.4zM1119.8 181.3h6.4v3.4h-6.4zM1122.8 184.3h9.4v3.4h-9.4zM1128.8 187.3h9.4v3.4h-9.4zM1134.8 190.3h9.4v3.4h-9.4zM1140.8 193.3h9.4v3.4h-9.4zM1146.8 196.3h9.4v3.4h-9.4zM1155.8 199.3h9.4v3.4h-9.4zM1161.8 202.3h12.4v3.4h-12.4zM1170.8 205.3h12.4v3.4h-12.4zM1182.8 208.3h15.4v3.4h-15.4zM1194.8 211.3h15.4v3.4h-15.4zM1206.8 214.3h18.4v3.4h-18.4zM1218.8 217.3h15.4v3.4h-15.4zM1227.8 220.3h15.4v3.4h-15.4zM1236.8 223.3h15.4v3.4h-15.4z"/><path fill="#2622FF" d="M1098.8 160.3h3.4v3.4h-3.4zM1098.8 163.3h6.4v3.4h-6.4zM1101.8 166.3h9.4v3.4h-9.4zM1107.8 169.3h6.4v3.4h-6.4zM1110.8 172.3h9.4v3.4h-9.4zM1116.8 175.3h6.4v3.4h-6.4zM1119.8 178.3h9.4v3.4h-9.4zM1125.8 181.3h6.4v3.4h-6.4zM1131.8 184.3h6.4v3.4h-6.4zM1137.8 187.3h6.4v3.4h-6.4zM1143.8 190.3h6.4v3.4h-6.4zM1149.8 193.3h6.4v3.4h-6.4zM1155.8 196.3h9.4v3.4h-9.4zM1164.8 199.3h9.4v3.4h-9.4zM1173.8 202.3h12.4v3.4h-12.4zM1182.8 205.3h18.4v3.4h-18.4zM1197.8 208.3h18.4v3.4h-18.4zM1209.8 211.3h21.4v3.4h-21.4zM1224.8 214.3h15.4v3.4h-15.4zM1233.8 217.3h15.4v3.4h-15.4zM1242.8 220.3h9.4v3.4h-9.4z"/><path fill="#2A36FF" d="M1098.8 157.3h6.4v3.4h-6.4zM1101.8 160.3h6.4v3.4h-6.4zM1104.8 163.3h6.4v3.4h-6.4zM1110.8 166.3h6.4v3.4h-6.4zM1113.8 169.3h6.4v3.4h-6.4zM1119.8 172.3h6.4v3.4h-6.4zM1122.8 175.3h6.4v3.4h-6.4zM1128.8 178.3h6.4v3.4h-6.4zM1131.8 181.3h6.4v3.4h-6.4zM1137.8 184.3h6.4v3.4h-6.4zM1143.8 187.3h6.4v3.4h-6.4zM1149.8 190.3h6.4v3.4h-6.4zM1155.8 193.3h9.4v3.4h-9.4zM1164.8 196.3h9.4v3.4h-9.4zM1173.8 199.3h12.4v3.4h-12.4zM1185.8 202.3h18.4v3.4h-18.4zM1200.8 205.3h21.4v3.4h-21.4zM1215.8 208.3h21.4v3.4h-21.4zM1230.8 211.3h18.4v3.4h-18.4zM1239.8 214.3h12.4v3.4h-12.4zM1248.8 217.3h3.4v3.4h-3.4z"/><path fill="#3353FF" d="M1098.8 151.3h3.4v3.4h-3.4zM1098.8 154.3h9.4v3.4h-9.4zM1104.8 157.3h6.4v3.4h-6.4zM1107.8 160.3h6.4v3.4h-6.4zM1110.8 163.3h6.4v3.4h-6.4zM1116.8 166.3h6.4v3.4h-6.4zM1119.8 169.3h6.4v3.4h-6.4zM1125.8 172.3h3.4v3.4h-3.4zM1128.8 175.3h6.4v3.4h-6.4zM1134.8 178.3h3.4v3.4h-3.4zM1137.8 181.3h6.4v3.4h-6.4zM1143.8 184.3h6.4v3.4h-6.4zM1149.8 187.3h6.4v3.4h-6.4zM1155.8 190.3h9.4v3.4h-9.4zM1164.8 193.3h9.4v3.4h-9.4zM1173.8 196.3h12.4v3.4h-12.4zM1185.8 199.3h18.4v3.4h-18.4zM1203.8 202.3h24.4v3.4h-24.4zM1221.8 205.3h21.4v3.4h-21.4zM1236.8 208.3h15.4v3.4h-15.4zM1248.8 211.3h3.4v3.4h-3.4z"/><path fill="#3C70FF" d="M1098.8 145.3h3.4v3.4h-3.4zM1098.8 148.3h6.4v3.4h-6.4zM1101.8 151.3h6.4v3.4h-6.4zM1107.8 154.3h6.4v3.4h-6.4zM1110.8 157.3h6.4v3.4h-6.4zM1113.8 160.3h6.4v3.4h-6.4zM1116.8 163.3h6.4v3.4h-6.4zM1122.8 166.3h3.4v3.4h-3.4zM1125.8 169.3h6.4v3.4h-6.4zM1128.8 172.3h6.4v3.4h-6.4zM1134.8 175.3h6.4v3.4h-6.4zM1137.8 178.3h6.4v3.4h-6.4zM1143.8 181.3h6.4v3.4h-6.4zM1149.8 184.3h6.4v3.4h-6.4zM1155.8 187.3h6.4v3.4h-6.4zM1164.8 190.3h6.4v3.4h-6.4zM1173.8 193.3h9.4v3.4h-9.4zM1185.8 196.3h21.4v3.4h-21.4zM1203.8 199.3h33.4v3.4h-33.4zM1227.8 202.3h24.4v3.4h-24.4zM1242.8 205.3h9.4v3.4h-9.4z"/><path fill="#448CFF" d="M1098.8 139.3h3.4v3.4h-3.4zM1098.8 142.3h6.4v3.4h-6.4zM1101.8 145.3h6.4v3.4h-6.4zM1104.8 148.3h6.4v3.4h-6.4zM1107.8 151.3h6.4v3.4h-6.4zM1113.8 154.3h3.4v3.4h-3.4zM1116.8 157.3h3.4v3.4h-3.4zM1119.8 160.3h6.4v3.4h-6.4zM1122.8 163.3h6.4v3.4h-6.4zM1125.8 166.3h6.4v3.4h-6.4zM1131.8 169.3h3.4v3.4h-3.4zM1134.8 172.3h6.4v3.4h-6.4zM1140.8 175.3h3.4v3.4h-3.4zM1143.8 178.3h6.4v3.4h-6.4zM1149.8 181.3h6.4v3.4h-6.4zM1155.8 184.3h6.4v3.4h-6.4zM1161.8 187.3h6.4v3.4h-6.4zM1170.8 190.3h9.4v3.4h-9.4zM1182.8 193.3h27.4v3.4h-27.4zM1206.8 196.3h36.4v3.4h-36.4zM1236.8 199.3h15.4v3.4h-15.4z"/><path fill="#4EA7FF" d="M1098.8 133.3h3.4v3.4h-3.4zM1098.8 136.3h6.4v3.4h-6.4zM1101.8 139.3h6.4v3.4h-6.4zM1104.8 142.3h6.4v3.4h-6.4zM1107.8 145.3h6.4v3.4h-6.4zM1110.8 148.3h6.4v3.4h-6.4zM1113.8 151.3h6.4v3.4h-6.4zM1116.8 154.3h6.4v3.4h-6.4zM1119.8 157.3h6.4v3.4h-6.4zM1125.8 160.3h3.4v3.4h-3.4zM1128.8 163.3h3.4v3.4h-3.4zM1131.8 166.3h3.4v3.4h-3.4zM1134.8 169.3h6.4v3.4h-6.4zM1140.8 172.3h3.4v3.4h-3.4zM1143.8 175.3h6.4v3.4h-6.4zM1149.8 178.3h3.4v3.4h-3.4zM1155.8 181.3h3.4v3.4h-3.4zM1161.8 184.3h3.4v3.4h-3.4zM1167.8 187.3h6.4v3.4h-6.4zM1179.8 190.3h30.4v3.4h-30.4zM1209.8 193.3h42.4v3.4h-42.4zM1242.8 196.3h9.4v3.4h-9.4z"/><path fill="#58C1FF" d="M1098.8 127.3h3.4v3.4h-3.4zM1098.8 130.3h6.4v3.4h-6.4zM1101.8 133.3h6.4v3.4h-6.4zM1104.8 136.3h6.4v3.4h-6.4zM1107.8 139.3h6.4v3.4h-6.4zM1110.8 142.3h6.4v3.4h-6.4zM1113.8 145.3h6.4v3.4h-6.4zM1116.8 148.3h3.4v3.4h-3.4zM1119.8 151.3h3.4v3.4h-3.4zM1122.8 154.3h3.4v3.4h-3.4zM1125.8 157.3h3.4v3.4h-3.4zM1128.8 160.3h6.4v3.4h-6.4zM1131.8 163.3h6.4v3.4h-6.4zM1134.8 166.3h6.4v3.4h-6.4zM1140.8 169.3h3.4v3.4h-3.4zM1143.8 172.3h6.4v3.4h-6.4zM1149.8 175.3h3.4v3.4h-3.4zM1152.8 178.3h6.4v3.4h-6.4zM1158.8 181.3h3.4v3.4h-3.4zM1164.8 184.3h6.4v3.4h-6.4zM1173.8 187.3h9.4v3.4h-9.4zM1221.8 187.3h15.4v3.4h-15.4zM1209.8 190.3h42.4v3.4h-42.4z"/><path fill="#62DBFF" d="M1098.8 121.3h3.4v3.4h-3.4zM1098.8 124.3h6.4v3.4h-6.4zM1101.8 127.3h6.4v3.4h-6.4zM1104.8 130.3h6.4v3.4h-6.4zM1107.8 133.3h6.4v3.4h-6.4zM1110.8 136.3h3.4v3.4h-3.4zM1113.8 139.3h3.4v3.4h-3.4zM1116.8 142.3h3.4v3.4h-3.4zM1119.8 145.3h3.4v3.4h-3.4zM1119.8 148.3h6.4v3.4h-6.4zM1122.8 151.3h6.4v3.4h-6.4zM1125.8 154.3h6.4v3.4h-6.4zM1128.8 157.3h6.4v3.4h-6.4zM1134.8 160.3h3.4v3.4h-3.4zM1137.8 163.3h3.4v3.4h-3.4zM1140.8 166.3h3.4v3.4h-3.4zM1143.8 169.3h6.4v3.4h-6.4zM1149.8 172.3h3.4v3.4h-3.4zM1152.8 175.3h3.4v3.4h-3.4zM1158.8 178.3h3.4v3.4h-3.4zM1161.8 181.3h6.4v3.4h-6.4zM1170.8 184.3h3.4v3.4h-3.4zM1218.8 184.3h33.4v3.4h-33.4zM1182.8 187.3h39.4v3.4h-39.4zM1236.8 187.3h15.4v3.4h-15.4z"/><path fill="#6CF5FF" d="M1098.8 109.3h3.4v3.4h-3.4zM1098.8 112.3h3.4v3.4h-3.4zM1098.8 115.3h6.4v3.4h-6.4zM1098.8 118.3h6.4v3.4h-6.4zM1101.8 121.3h6.4v3.4h-6.4zM1104.8 124.3h6.4v3.4h-6.4zM1107.8 127.3h6.4v3.4h-6.4zM1110.8 130.3h3.4v3.4h-3.4zM1113.8 133.3h3.4v3.4h-3.4zM1113.8 136.3h6.4v3.4h-6.4zM1116.8 139.3h6.4v3.4h-6.4zM1119.8 142.3h6.4v3.4h-6.4zM1122.8 145.3h3.4v3.4h-3.4zM1125.8 148.3h3.4v3.4h-3.4zM1128.8 151.3h3.4v3.4h-3.4zM1131.8 154.3h3.4v3.4h-3.4zM1134.8 157.3h3.4v3.4h-3.4zM1137.8 160.3h3.4v3.4h-3.4zM1140.8 163.3h3.4v3.4h-3.4zM1143.8 166.3h3.4v3.4h-3.4zM1149.8 169.3h3.4v3.4h-3.4zM1152.8 172.3h3.4v3.4h-3.4zM1155.8 175.3h3.4v3.4h-3.4zM1161.8 178.3h3.4v3.4h-3.4zM1167.8 181.3h3.4v3.4h-3.4zM1218.8 181.3h33.4v3.4h-33.4zM1173.8 184.3h9.4v3.4h-9.4zM1191.8 184.3h27.4v3.4h-27.4z"/><path fill="#72FFF5" d="M1098.8 79.3h3.4v3.4h-3.4zM1098.8 82.3h6.4v3.4h-6.4zM1098.8 85.3h6.4v3.4h-6.4zM1098.8 88.3h9.4v3.4h-9.4zM1098.8 91.3h9.4v3.4h-9.4zM1098.8 94.3h12.4v3.4h-12.4zM1098.8 97.3h12.4v3.4h-12.4zM1098.8 100.3h12.4v3.4h-12.4zM1098.8 103.3h12.4v3.4h-12.4zM1098.8 106.3h15.4v3.4h-15.4zM1101.8 109.3h12.4v3.4h-12.4zM1101.8 112.3h12.4v3.4h-12.4zM1104.8 115.3h9.4v3.4h-9.4zM1104.8 118.3h9.4v3.4h-9.4zM1107.8 121.3h6.4v3.4h-6.4zM1110.8 124.3h6.4v3.4h-6.4zM1113.8 127.3h3.4v3.4h-3.4zM1113.8 130.3h6.4v3.4h-6.4zM1116.8 133.3h6.4v3.4h-6.4zM1119.8 136.3h3.4v3.4h-3.4zM1122.8 139.3h3.4v3.4h-3.4zM1125.8 142.3h3.4v3.4h-3.4zM1125.8 145.3h6.4v3.4h-6.4zM1128.8 148.3h6.4v3.4h-6.4zM1131.8 151.3h3.4v3.4h-3.4zM1134.8 154.3h3.4v3.4h-3.4zM1137.8 157.3h3.4v3.4h-3.4zM1140.8 160.3h3.4v3.4h-3.4zM1143.8 163.3h3.4v3.4h-3.4zM1146.8 166.3h3.4v3.4h-3.4zM1248.8 172.3h3.4v3.4h-3.4zM1158.8 175.3h3.4v3.4h-3.4zM1242.8 175.3h9.4v3.4h-9.4zM1218.8 178.3h33.4v3.4h-33.4zM1170.8 181.3h3.4v3.4h-3.4zM1200.8 181.3h18.4v3.4h-18.4zM1182.8 184.3h9.4v3.4h-9.4z"/><path fill="#74FFE3" d="M1098.8 73.3h21.4v3.4h-21.4zM1098.8 76.3h21.4v3.4h-21.4zM1101.8 79.3h21.4v3.4h-21.4zM1104.8 82.3h18.4v3.4h-18.4zM1104.8 85.3h18.4v3.4h-18.4zM1107.8 88.3h15.4v3.4h-15.4zM1107.8 91.3h15.4v3.4h-15.4zM1110.8 94.3h12.4v3.4h-12.4zM1110.8 97.3h12.4v3.4h-12.4zM1110.8 100.3h12.4v3.4h-12.4zM1110.8 103.3h9.4v3.4h-9.4zM1113.8 106.3h6.4v3.4h-6.4zM1113.8 109.3h6.4v3.4h-6.4zM1113.8 112.3h6.4v3.4h-6.4zM1113.8 115.3h6.4v3.4h-6.4zM1113.8 118.3h6.4v3.4h-6.4zM1113.8 121.3h6.4v3.4h-6.4zM1116.8 124.3h6.4v3.4h-6.4zM1116.8 127.3h6.4v3.4h-6.4zM1119.8 130.3h6.4v3.4h-6.4zM1122.8 133.3h3.4v3.4h-3.4zM1122.8 136.3h6.4v3.4h-6.4zM1125.8 139.3h3.4v3.4h-3.4zM1128.8 142.3h3.4v3.4h-3.4zM1131.8 145.3h3.4v3.4h-3.4zM1134.8 148.3h3.4v3.4h-3.4zM1134.8 151.3h6.4v3.4h-6.4zM1137.8 154.3h3.4v3.4h-3.4zM1140.8 157.3h3.4v3.4h-3.4zM1143.8 160.3h3.4v3.4h-3.4zM1146.8 163.3h3.4v3.4h-3.4zM1248.8 163.3h3.4v3.4h-3.4zM1149.8 166.3h3.4v3.4h-3.4zM1242.8 166.3h9.4v3.4h-9.4zM1152.8 169.3h3.4v3.4h-3.4zM1239.8 169.3h12.4v3.4h-12.4zM1155.8 172.3h3.4v3.4h-3.4zM1236.8 172.3h12.4v3.4h-12.4zM1218.8 175.3h24.4v3.4h-24.4zM1164.8 178.3h3.4v3.4h-3.4zM1203.8 178.3h15.4v3.4h-15.4zM1173.8 181.3h3.4v3.4h-3.4zM1194.8 181.3h6.4v3.4h-6.4z"/><path fill="#76FFD2" d="M1119.8 73.3h15.4v3.4h-15.4zM1119.8 76.3h15.4v3.4h-15.4zM1122.8 79.3h12.4v3.4h-12.4zM1122.8 82.3h9.4v3.4h-9.4zM1122.8 85.3h9.4v3.4h-9.4zM1122.8 88.3h9.4v3.4h-9.4zM1122.8 91.3h9.4v3.4h-9.4zM1122.8 94.3h6.4v3.4h-6.4zM1122.8 97.3h6.4v3.4h-6.4zM1122.8 100.3h6.4v3.4h-6.4zM1119.8 103.3h9.4v3.4h-9.4zM1119.8 106.3h9.4v3.4h-9.4zM1119.8 109.3h9.4v3.4h-9.4zM1119.8 112.3h6.4v3.4h-6.4zM1119.8 115.3h6.4v3.4h-6.4zM1119.8 118.3h6.4v3.4h-6.4zM1119.8 121.3h6.4v3.4h-6.4zM1122.8 124.3h3.4v3.4h-3.4zM1122.8 127.3h3.4v3.4h-3.4zM1125.8 130.3h3.4v3.4h-3.4zM1125.8 133.3h3.4v3.4h-3.4zM1128.8 136.3h3.4v3.4h-3.4zM1128.8 139.3h6.4v3.4h-6.4zM1131.8 142.3h3.4v3.4h-3.4zM1134.8 145.3h3.4v3.4h-3.4zM1137.8 148.3h3.4v3.4h-3.4zM1140.8 151.3h3.4v3.4h-3.4zM1248.8 151.3h3.4v3.4h-3.4zM1140.8 154.3h3.4v3.4h-3.4zM1245.8 154.3h6.4v3.4h-6.4zM1143.8 157.3h3.4v3.4h-3.4zM1245.8 157.3h6.4v3.4h-6.4zM1146.8 160.3h3.4v3.4h-3.4zM1242.8 160.3h9.4v3.4h-9.4zM1149.8 163.3h3.4v3.4h-3.4zM1239.8 163.3h9.4v3.4h-9.4zM1152.8 166.3h3.4v3.4h-3.4zM1233.8 166.3h9.4v3.4h-9.4zM1155.8 169.3h3.4v3.4h-3.4zM1230.8 169.3h9.4v3.4h-9.4zM1158.8 172.3h3.4v3.4h-3.4zM1218.8 172.3h18.4v3.4h-18.4zM1161.8 175.3h3.4v3.4h-3.4zM1206.8 175.3h12.4v3.4h-12.4zM1167.8 178.3h3.4v3.4h-3.4zM1200.8 178.3h3.4v3.4h-3.4zM1176.8 181.3h18.4v3.4h-18.4z"/><path fill="#7EFFBE" d="M1134.8 73.3h9.4v3.4h-9.4zM1134.8 76.3h9.4v3.4h-9.4zM1134.8 79.3h6.4v3.4h-6.4zM1131.8 82.3h9.4v3.4h-9.4zM1131.8 85.3h6.4v3.4h-6.4zM1131.8 88.3h6.4v3.4h-6.4zM1131.8 91.3h6.4v3.4h-6.4zM1128.8 94.3h6.4v3.4h-6.4zM1128.8 97.3h6.4v3.4h-6.4zM1128.8 100.3h6.4v3.4h-6.4zM1128.8 103.3h6.4v3.4h-6.4zM1128.8 106.3h6.4v3.4h-6.4zM1128.8 109.3h3.4v3.4h-3.4zM1125.8 112.3h6.4v3.4h-6.4zM1125.8 115.3h6.4v3.4h-6.4zM1125.8 118.3h6.4v3.4h-6.4zM1125.8 121.3h6.4v3.4h-6.4zM1125.8 124.3h6.4v3.4h-6.4zM1125.8 127.3h6.4v3.4h-6.4zM1128.8 130.3h3.4v3.4h-3.4zM1128.8 133.3h6.4v3.4h-6.4zM1131.8 136.3h3.4v3.4h-3.4zM1248.8 136.3h3.4v3.4h-3.4zM1134.8 139.3h3.4v3.4h-3.4zM1248.8 139.3h3.4v3.4h-3.4zM1134.8 142.3h3.4v3.4h-3.4zM1245.8 142.3h6.4v3.4h-6.4zM1137.8 145.3h3.4v3.4h-3.4zM1245.8 145.3h6.4v3.4h-6.4zM1140.8 148.3h3.4v3.4h-3.4zM1242.8 148.3h9.4v3.4h-9.4zM1242.8 151.3h6.4v3.4h-6.4zM1143.8 154.3h3.4v3.4h-3.4zM1239.8 154.3h6.4v3.4h-6.4zM1146.8 157.3h3.4v3.4h-3.4zM1236.8 157.3h9.4v3.4h-9.4zM1233.8 160.3h9.4v3.4h-9.4zM1230.8 163.3h9.4v3.4h-9.4zM1227.8 166.3h6.4v3.4h-6.4zM1218.8 169.3h12.4v3.4h-12.4zM1209.8 172.3h9.4v3.4h-9.4zM1164.8 175.3h3.4v3.4h-3.4zM1203.8 175.3h3.4v3.4h-3.4zM1170.8 178.3h3.4v3.4h-3.4zM1194.8 178.3h6.4v3.4h-6.4z"/><path fill="#8DFFA5" d="M1143.8 73.3h9.4v3.4h-9.4zM1239.8 73.3h12.4v3.4h-12.4zM1143.8 76.3h6.4v3.4h-6.4zM1239.8 76.3h12.4v3.4h-12.4zM1140.8 79.3h6.4v3.4h-6.4zM1239.8 79.3h12.4v3.4h-12.4zM1140.8 82.3h6.4v3.4h-6.4zM1242.8 82.3h9.4v3.4h-9.4zM1137.8 85.3h6.4v3.4h-6.4zM1242.8 85.3h9.4v3.4h-9.4zM1137.8 88.3h6.4v3.4h-6.4zM1242.8 88.3h9.4v3.4h-9.4zM1137.8 91.3h3.4v3.4h-3.4zM1242.8 91.3h9.4v3.4h-9.4zM1134.8 94.3h6.4v3.4h-6.4zM1242.8 94.3h9.4v3.4h-9.4zM1134.8 97.3h6.4v3.4h-6.4zM1242.8 97.3h9.4v3.4h-9.4zM1134.8 100.3h3.4v3.4h-3.4zM1245.8 100.3h6.4v3.4h-6.4zM1134.8 103.3h3.4v3.4h-3.4zM1245.8 103.3h6.4v3.4h-6.4zM1134.8 106.3h3.4v3.4h-3.4zM1245.8 106.3h6.4v3.4h-6.4zM1131.8 109.3h6.4v3.4h-6.4zM1245.8 109.3h6.4v3.4h-6.4zM1131.8 112.3h6.4v3.4h-6.4zM1245.8 112.3h6.4v3.4h-6.4zM1131.8 115.3h6.4v3.4h-6.4zM1245.8 115.3h6.4v3.4h-6.4zM1131.8 118.3h6.4v3.4h-6.4zM1245.8 118.3h6.4v3.4h-6.4zM1131.8 121.3h6.4v3.4h-6.4zM1245.8 121.3h6.4v3.4h-6.4zM1131.8 124.3h6.4v3.4h-6.4zM1245.8 124.3h6.4v3.4h-6.4zM1131.8 127.3h6.4v3.4h-6.4zM1245.8 127.3h6.4v3.4h-6.4zM1131.8 130.3h6.4v3.4h-6.4zM1242.8 130.3h9.4v3.4h-9.4zM1134.8 133.3h3.4v3.4h-3.4zM1242.8 133.3h9.4v3.4h-9.4zM1134.8 136.3h3.4v3.4h-3.4zM1242.8 136.3h6.4v3.4h-6.4zM1137.8 139.3h3.4v3.4h-3.4zM1242.8 139.3h6.4v3.4h-6.4zM1137.8 142.3h3.4v3.4h-3.4zM1239.8 142.3h6.4v3.4h-6.4zM1140.8 145.3h3.4v3.4h-3.4zM1239.8 145.3h6.4v3.4h-6.4zM1143.8 148.3h3.4v3.4h-3.4zM1236.8 148.3h6.4v3.4h-6.4zM1143.8 151.3h3.4v3.4h-3.4zM1233.8 151.3h9.4v3.4h-9.4zM1146.8 154.3h3.4v3.4h-3.4zM1233.8 154.3h6.4v3.4h-6.4zM1230.8 157.3h6.4v3.4h-6.4zM1149.8 160.3h3.4v3.4h-3.4zM1227.8 160.3h6.4v3.4h-6.4zM1152.8 163.3h3.4v3.4h-3.4zM1224.8 163.3h6.4v3.4h-6.4zM1155.8 166.3h3.4v3.4h-3.4zM1218.8 166.3h9.4v3.4h-9.4zM1212.8 169.3h6.4v3.4h-6.4zM1161.8 172.3h3.4v3.4h-3.4zM1206.8 172.3h3.4v3.4h-3.4zM1200.8 175.3h3.4v3.4h-3.4zM1173.8 178.3h3.4v3.4h-3.4zM1191.8 178.3h3.4v3.4h-3.4z"/><path fill="#9CFF8C" d="M1152.8 73.3h6.4v3.4h-6.4zM1221.8 73.3h18.4v3.4h-18.4zM1149.8 76.3h6.4v3.4h-6.4zM1224.8 76.3h15.4v3.4h-15.4zM1146.8 79.3h6.4v3.4h-6.4zM1227.8 79.3h12.4v3.4h-12.4zM1146.8 82.3h3.4v3.4h-3.4zM1230.8 82.3h12.4v3.4h-12.4zM1143.8 85.3h3.4v3.4h-3.4zM1230.8 85.3h12.4v3.4h-12.4zM1143.8 88.3h3.4v3.4h-3.4zM1233.8 88.3h9.4v3.4h-9.4zM1140.8 91.3h6.4v3.4h-6.4zM1233.8 91.3h9.4v3.4h-9.4zM1140.8 94.3h3.4v3.4h-3.4zM1233.8 94.3h9.4v3.4h-9.4zM1140.8 97.3h3.4v3.4h-3.4zM1236.8 97.3h6.4v3.4h-6.4zM1137.8 100.3h6.4v3.4h-6.4zM1236.8 100.3h9.4v3.4h-9.4zM1137.8 103.3h6.4v3.4h-6.4zM1236.8 103.3h9.4v3.4h-9.4zM1137.8 106.3h3.4v3.4h-3.4zM1236.8 106.3h9.4v3.4h-9.4zM1137.8 109.3h3.4v3.4h-3.4zM1236.8 109.3h9.4v3.4h-9.4zM1137.8 112.3h3.4v3.4h-3.4zM1236.8 112.3h9.4v3.4h-9.4zM1137.8 115.3h3.4v3.4h-3.4zM1236.8 115.3h9.4v3.4h-9.4zM1137.8 118.3h3.4v3.4h-3.4zM1236.8 118.3h9.4v3.4h-9.4zM1137.8 121.3h3.4v3.4h-3.4zM1236.8 121.3h9.4v3.4h-9.4zM1137.8 124.3h3.4v3.4h-3.4zM1236.8 124.3h9.4v3.4h-9.4zM1137.8 127.3h3.4v3.4h-3.4zM1236.8 127.3h9.4v3.4h-9.4zM1137.8 130.3h3.4v3.4h-3.4zM1236.8 130.3h6.4v3.4h-6.4zM1137.8 133.3h3.4v3.4h-3.4zM1236.8 133.3h6.4v3.4h-6.4zM1137.8 136.3h3.4v3.4h-3.4zM1236.8 136.3h6.4v3.4h-6.4zM1140.8 139.3h3.4v3.4h-3.4zM1236.8 139.3h6.4v3.4h-6.4zM1140.8 142.3h3.4v3.4h-3.4zM1233.8 142.3h6.4v3.4h-6.4zM1143.8 145.3h3.4v3.4h-3.4zM1233.8 145.3h6.4v3.4h-6.4zM1230.8 148.3h6.4v3.4h-6.4zM1146.8 151.3h3.4v3.4h-3.4zM1230.8 151.3h3.4v3.4h-3.4zM1227.8 154.3h6.4v3.4h-6.4zM1149.8 157.3h3.4v3.4h-3.4zM1224.8 157.3h6.4v3.4h-6.4zM1221.8 160.3h6.4v3.4h-6.4zM1218.8 163.3h6.4v3.4h-6.4zM1212.8 166.3h6.4v3.4h-6.4zM1158.8 169.3h3.4v3.4h-3.4zM1209.8 169.3h3.4v3.4h-3.4zM1203.8 172.3h3.4v3.4h-3.4zM1167.8 175.3h3.4v3.4h-3.4zM1197.8 175.3h3.4v3.4h-3.4zM1176.8 178.3h3.4v3.4h-3.4zM1185.8 178.3h6.4v3.4h-6.4z"/><path fill="#ABFF75" d="M1158.8 73.3h6.4v3.4h-6.4zM1212.8 73.3h9.4v3.4h-9.4zM1155.8 76.3h3.4v3.4h-3.4zM1218.8 76.3h6.4v3.4h-6.4zM1152.8 79.3h3.4v3.4h-3.4zM1221.8 79.3h6.4v3.4h-6.4zM1149.8 82.3h3.4v3.4h-3.4zM1221.8 82.3h9.4v3.4h-9.4zM1146.8 85.3h6.4v3.4h-6.4zM1224.8 85.3h6.4v3.4h-6.4zM1146.8 88.3h3.4v3.4h-3.4zM1227.8 88.3h6.4v3.4h-6.4zM1146.8 91.3h3.4v3.4h-3.4zM1227.8 91.3h6.4v3.4h-6.4zM1143.8 94.3h3.4v3.4h-3.4zM1227.8 94.3h6.4v3.4h-6.4zM1143.8 97.3h3.4v3.4h-3.4zM1230.8 97.3h6.4v3.4h-6.4zM1143.8 100.3h3.4v3.4h-3.4zM1230.8 100.3h6.4v3.4h-6.4zM1143.8 103.3h3.4v3.4h-3.4zM1230.8 103.3h6.4v3.4h-6.4zM1140.8 106.3h6.4v3.4h-6.4zM1230.8 106.3h6.4v3.4h-6.4zM1140.8 109.3h6.4v3.4h-6.4zM1230.8 109.3h6.4v3.4h-6.4zM1140.8 112.3h3.4v3.4h-3.4zM1230.8 112.3h6.4v3.4h-6.4zM1140.8 115.3h3.4v3.4h-3.4zM1230.8 115.3h6.4v3.4h-6.4zM1140.8 118.3h3.4v3.4h-3.4zM1230.8 118.3h6.4v3.4h-6.4zM1140.8 121.3h3.4v3.4h-3.4zM1230.8 121.3h6.4v3.4h-6.4zM1140.8 124.3h3.4v3.4h-3.4zM1230.8 124.3h6.4v3.4h-6.4zM1140.8 127.3h3.4v3.4h-3.4zM1230.8 127.3h6.4v3.4h-6.4zM1140.8 130.3h3.4v3.4h-3.4zM1230.8 130.3h6.4v3.4h-6.4zM1140.8 133.3h3.4v3.4h-3.4zM1230.8 133.3h6.4v3.4h-6.4zM1140.8 136.3h3.4v3.4h-3.4zM1230.8 136.3h6.4v3.4h-6.4zM1143.8 139.3h3.4v3.4h-3.4zM1230.8 139.3h6.4v3.4h-6.4zM1143.8 142.3h3.4v3.4h-3.4zM1227.8 142.3h6.4v3.4h-6.4zM1227.8 145.3h6.4v3.4h-6.4zM1146.8 148.3h3.4v3.4h-3.4zM1224.8 148.3h6.4v3.4h-6.4zM1224.8 151.3h6.4v3.4h-6.4zM1149.8 154.3h3.4v3.4h-3.4zM1221.8 154.3h6.4v3.4h-6.4zM1218.8 157.3h6.4v3.4h-6.4zM1152.8 160.3h3.4v3.4h-3.4zM1215.8 160.3h6.4v3.4h-6.4zM1215.8 163.3h3.4v3.4h-3.4zM1209.8 166.3h3.4v3.4h-3.4zM1206.8 169.3h3.4v3.4h-3.4zM1164.8 172.3h3.4v3.4h-3.4zM1200.8 172.3h3.4v3.4h-3.4zM1194.8 175.3h3.4v3.4h-3.4zM1179.8 178.3h6.4v3.4h-6.4z"/><path fill="#BCFF66" d="M1164.8 73.3h6.4v3.4h-6.4zM1206.8 73.3h6.4v3.4h-6.4zM1158.8 76.3h6.4v3.4h-6.4zM1209.8 76.3h9.4v3.4h-9.4zM1155.8 79.3h6.4v3.4h-6.4zM1215.8 79.3h6.4v3.4h-6.4zM1152.8 82.3h6.4v3.4h-6.4zM1218.8 82.3h3.4v3.4h-3.4zM1152.8 85.3h3.4v3.4h-3.4zM1218.8 85.3h6.4v3.4h-6.4zM1149.8 88.3h3.4v3.4h-3.4zM1221.8 88.3h6.4v3.4h-6.4zM1149.8 91.3h3.4v3.4h-3.4zM1221.8 91.3h6.4v3.4h-6.4zM1146.8 94.3h3.4v3.4h-3.4zM1224.8 94.3h3.4v3.4h-3.4zM1146.8 97.3h3.4v3.4h-3.4zM1224.8 97.3h6.4v3.4h-6.4zM1146.8 100.3h3.4v3.4h-3.4zM1224.8 100.3h6.4v3.4h-6.4zM1146.8 103.3h3.4v3.4h-3.4zM1224.8 103.3h6.4v3.4h-6.4zM1146.8 106.3h3.4v3.4h-3.4zM1227.8 106.3h3.4v3.4h-3.4zM1146.8 109.3h3.4v3.4h-3.4zM1227.8 109.3h3.4v3.4h-3.4zM1143.8 112.3h6.4v3.4h-6.4zM1227.8 112.3h3.4v3.4h-3.4zM1143.8 115.3h3.4v3.4h-3.4zM1227.8 115.3h3.4v3.4h-3.4zM1143.8 118.3h3.4v3.4h-3.4zM1227.8 118.3h3.4v3.4h-3.4zM1143.8 121.3h3.4v3.4h-3.4zM1227.8 121.3h3.4v3.4h-3.4zM1143.8 124.3h3.4v3.4h-3.4zM1227.8 124.3h3.4v3.4h-3.4zM1143.8 127.3h3.4v3.4h-3.4zM1227.8 127.3h3.4v3.4h-3.4zM1143.8 130.3h3.4v3.4h-3.4zM1227.8 130.3h3.4v3.4h-3.4zM1143.8 133.3h3.4v3.4h-3.4zM1227.8 133.3h3.4v3.4h-3.4zM1143.8 136.3h3.4v3.4h-3.4zM1224.8 136.3h6.4v3.4h-6.4zM1224.8 139.3h6.4v3.4h-6.4zM1146.8 142.3h3.4v3.4h-3.4zM1224.8 142.3h3.4v3.4h-3.4zM1146.8 145.3h3.4v3.4h-3.4zM1221.8 145.3h6.4v3.4h-6.4zM1221.8 148.3h3.4v3.4h-3.4zM1149.8 151.3h3.4v3.4h-3.4zM1218.8 151.3h6.4v3.4h-6.4zM1218.8 154.3h3.4v3.4h-3.4zM1152.8 157.3h3.4v3.4h-3.4zM1215.8 157.3h3.4v3.4h-3.4zM1212.8 160.3h3.4v3.4h-3.4zM1155.8 163.3h3.4v3.4h-3.4zM1212.8 163.3h3.4v3.4h-3.4zM1158.8 166.3h3.4v3.4h-3.4zM1206.8 166.3h3.4v3.4h-3.4zM1161.8 169.3h3.4v3.4h-3.4zM1203.8 169.3h3.4v3.4h-3.4zM1170.8 175.3h3.4v3.4h-3.4zM1191.8 175.3h3.4v3.4h-3.4z"/><path fill="#CDFF57" d="M1170.8 73.3h6.4v3.4h-6.4zM1197.8 73.3h9.4v3.4h-9.4zM1164.8 76.3h6.4v3.4h-6.4zM1203.8 76.3h6.4v3.4h-6.4zM1161.8 79.3h3.4v3.4h-3.4zM1209.8 79.3h6.4v3.4h-6.4zM1158.8 82.3h3.4v3.4h-3.4zM1212.8 82.3h6.4v3.4h-6.4zM1155.8 85.3h3.4v3.4h-3.4zM1215.8 85.3h3.4v3.4h-3.4zM1152.8 88.3h3.4v3.4h-3.4zM1218.8 88.3h3.4v3.4h-3.4zM1152.8 91.3h3.4v3.4h-3.4zM1218.8 91.3h3.4v3.4h-3.4zM1149.8 94.3h3.4v3.4h-3.4zM1221.8 94.3h3.4v3.4h-3.4zM1149.8 97.3h3.4v3.4h-3.4zM1221.8 97.3h3.4v3.4h-3.4zM1149.8 100.3h3.4v3.4h-3.4zM1221.8 100.3h3.4v3.4h-3.4zM1149.8 103.3h3.4v3.4h-3.4zM1221.8 103.3h3.4v3.4h-3.4zM1149.8 106.3h3.4v3.4h-3.4zM1221.8 106.3h6.4v3.4h-6.4zM1149.8 109.3h3.4v3.4h-3.4zM1221.8 109.3h6.4v3.4h-6.4zM1149.8 112.3h3.4v3.4h-3.4zM1221.8 112.3h6.4v3.4h-6.4zM1146.8 115.3h3.4v3.4h-3.4zM1221.8 115.3h6.4v3.4h-6.4zM1146.8 118.3h3.4v3.4h-3.4zM1221.8 118.3h6.4v3.4h-6.4zM1146.8 121.3h3.4v3.4h-3.4zM1221.8 121.3h6.4v3.4h-6.4zM1146.8 124.3h3.4v3.4h-3.4zM1221.8 124.3h6.4v3.4h-6.4zM1146.8 127.3h3.4v3.4h-3.4zM1221.8 127.3h6.4v3.4h-6.4zM1146.8 130.3h3.4v3.4h-3.4zM1221.8 130.3h6.4v3.4h-6.4zM1146.8 133.3h3.4v3.4h-3.4zM1221.8 133.3h6.4v3.4h-6.4zM1146.8 136.3h3.4v3.4h-3.4zM1221.8 136.3h3.4v3.4h-3.4zM1146.8 139.3h3.4v3.4h-3.4zM1221.8 139.3h3.4v3.4h-3.4zM1218.8 142.3h6.4v3.4h-6.4zM1218.8 145.3h3.4v3.4h-3.4zM1149.8 148.3h3.4v3.4h-3.4zM1218.8 148.3h3.4v3.4h-3.4zM1215.8 151.3h3.4v3.4h-3.4zM1215.8 154.3h3.4v3.4h-3.4zM1212.8 157.3h3.4v3.4h-3.4zM1209.8 163.3h3.4v3.4h-3.4zM1197.8 172.3h3.4v3.4h-3.4zM1173.8 175.3h3.4v3.4h-3.4z"/><path fill="#DEFF48" d="M1176.8 73.3h21.4v3.4h-21.4zM1170.8 76.3h6.4v3.4h-6.4zM1197.8 76.3h6.4v3.4h-6.4zM1164.8 79.3h3.4v3.4h-3.4zM1203.8 79.3h6.4v3.4h-6.4zM1161.8 82.3h3.4v3.4h-3.4zM1209.8 82.3h3.4v3.4h-3.4zM1158.8 85.3h3.4v3.4h-3.4zM1212.8 85.3h3.4v3.4h-3.4zM1155.8 88.3h3.4v3.4h-3.4zM1215.8 88.3h3.4v3.4h-3.4zM1155.8 91.3h3.4v3.4h-3.4zM1215.8 91.3h3.4v3.4h-3.4zM1152.8 94.3h3.4v3.4h-3.4zM1218.8 94.3h3.4v3.4h-3.4zM1152.8 97.3h3.4v3.4h-3.4zM1218.8 97.3h3.4v3.4h-3.4zM1152.8 100.3h3.4v3.4h-3.4zM1218.8 100.3h3.4v3.4h-3.4zM1152.8 103.3h3.4v3.4h-3.4zM1218.8 103.3h3.4v3.4h-3.4zM1152.8 106.3h3.4v3.4h-3.4zM1218.8 106.3h3.4v3.4h-3.4zM1152.8 109.3h3.4v3.4h-3.4zM1218.8 109.3h3.4v3.4h-3.4zM1218.8 112.3h3.4v3.4h-3.4zM1149.8 115.3h3.4v3.4h-3.4zM1218.8 115.3h3.4v3.4h-3.4zM1149.8 118.3h3.4v3.4h-3.4zM1218.8 118.3h3.4v3.4h-3.4zM1149.8 121.3h3.4v3.4h-3.4zM1218.8 121.3h3.4v3.4h-3.4zM1149.8 124.3h3.4v3.4h-3.4zM1218.8 124.3h3.4v3.4h-3.4zM1218.8 127.3h3.4v3.4h-3.4zM1218.8 130.3h3.4v3.4h-3.4zM1218.8 133.3h3.4v3.4h-3.4zM1218.8 136.3h3.4v3.4h-3.4zM1218.8 139.3h3.4v3.4h-3.4zM1149.8 145.3h3.4v3.4h-3.4zM1215.8 145.3h3.4v3.4h-3.4zM1215.8 148.3h3.4v3.4h-3.4zM1152.8 154.3h3.4v3.4h-3.4zM1212.8 154.3h3.4v3.4h-3.4zM1155.8 160.3h3.4v3.4h-3.4zM1209.8 160.3h3.4v3.4h-3.4zM1206.8 163.3h3.4v3.4h-3.4zM1203.8 166.3h3.4v3.4h-3.4zM1200.8 169.3h3.4v3.4h-3.4zM1167.8 172.3h3.4v3.4h-3.4zM1194.8 172.3h3.4v3.4h-3.4zM1176.8 175.3h3.4v3.4h-3.4zM1185.8 175.3h6.4v3.4h-6.4z"/><path fill="#ECFC3B" d="M1176.8 76.3h21.4v3.4h-21.4zM1167.8 79.3h6.4v3.4h-6.4zM1200.8 79.3h3.4v3.4h-3.4zM1164.8 82.3h3.4v3.4h-3.4zM1206.8 82.3h3.4v3.4h-3.4zM1161.8 85.3h3.4v3.4h-3.4zM1209.8 85.3h3.4v3.4h-3.4zM1158.8 88.3h3.4v3.4h-3.4zM1209.8 88.3h6.4v3.4h-6.4zM1158.8 91.3h3.4v3.4h-3.4zM1212.8 91.3h3.4v3.4h-3.4zM1155.8 94.3h3.4v3.4h-3.4zM1212.8 94.3h6.4v3.4h-6.4zM1155.8 97.3h3.4v3.4h-3.4zM1215.8 97.3h3.4v3.4h-3.4zM1155.8 100.3h3.4v3.4h-3.4zM1215.8 100.3h3.4v3.4h-3.4zM1155.8 103.3h3.4v3.4h-3.4zM1215.8 103.3h3.4v3.4h-3.4zM1215.8 106.3h3.4v3.4h-3.4zM1215.8 109.3h3.4v3.4h-3.4zM1152.8 112.3h3.4v3.4h-3.4zM1215.8 112.3h3.4v3.4h-3.4zM1152.8 115.3h3.4v3.4h-3.4zM1215.8 115.3h3.4v3.4h-3.4zM1152.8 118.3h3.4v3.4h-3.4zM1215.8 118.3h3.4v3.4h-3.4zM1152.8 121.3h3.4v3.4h-3.4zM1215.8 121.3h3.4v3.4h-3.4zM1215.8 124.3h3.4v3.4h-3.4zM1149.8 127.3h3.4v3.4h-3.4zM1215.8 127.3h3.4v3.4h-3.4zM1149.8 130.3h3.4v3.4h-3.4zM1215.8 130.3h3.4v3.4h-3.4zM1149.8 133.3h3.4v3.4h-3.4zM1215.8 133.3h3.4v3.4h-3.4zM1149.8 136.3h3.4v3.4h-3.4zM1215.8 136.3h3.4v3.4h-3.4zM1149.8 139.3h3.4v3.4h-3.4zM1215.8 139.3h3.4v3.4h-3.4zM1149.8 142.3h3.4v3.4h-3.4zM1215.8 142.3h3.4v3.4h-3.4zM1212.8 148.3h3.4v3.4h-3.4zM1152.8 151.3h3.4v3.4h-3.4zM1212.8 151.3h3.4v3.4h-3.4zM1209.8 157.3h3.4v3.4h-3.4zM1158.8 163.3h3.4v3.4h-3.4zM1161.8 166.3h3.4v3.4h-3.4zM1164.8 169.3h3.4v3.4h-3.4zM1179.8 175.3h6.4v3.4h-6.4z"/><path fill="#ECEA37" d="M1173.8 79.3h6.4v3.4h-6.4zM1191.8 79.3h9.4v3.4h-9.4zM1167.8 82.3h3.4v3.4h-3.4zM1200.8 82.3h6.4v3.4h-6.4zM1164.8 85.3h3.4v3.4h-3.4zM1203.8 85.3h6.4v3.4h-6.4zM1161.8 88.3h3.4v3.4h-3.4zM1206.8 88.3h3.4v3.4h-3.4zM1209.8 91.3h3.4v3.4h-3.4zM1158.8 94.3h3.4v3.4h-3.4zM1158.8 97.3h3.4v3.4h-3.4zM1212.8 97.3h3.4v3.4h-3.4zM1212.8 100.3h3.4v3.4h-3.4zM1212.8 103.3h3.4v3.4h-3.4zM1155.8 106.3h3.4v3.4h-3.4zM1212.8 106.3h3.4v3.4h-3.4zM1155.8 109.3h3.4v3.4h-3.4zM1212.8 109.3h3.4v3.4h-3.4zM1155.8 112.3h3.4v3.4h-3.4zM1212.8 112.3h3.4v3.4h-3.4zM1155.8 115.3h3.4v3.4h-3.4zM1212.8 115.3h3.4v3.4h-3.4zM1212.8 118.3h3.4v3.4h-3.4zM1212.8 121.3h3.4v3.4h-3.4zM1152.8 124.3h3.4v3.4h-3.4zM1212.8 124.3h3.4v3.4h-3.4zM1212.8 127.3h3.4v3.4h-3.4zM1212.8 130.3h3.4v3.4h-3.4zM1212.8 133.3h3.4v3.4h-3.4zM1212.8 136.3h3.4v3.4h-3.4zM1212.8 139.3h3.4v3.4h-3.4zM1212.8 142.3h3.4v3.4h-3.4zM1212.8 145.3h3.4v3.4h-3.4zM1209.8 154.3h3.4v3.4h-3.4zM1155.8 157.3h3.4v3.4h-3.4zM1206.8 160.3h3.4v3.4h-3.4zM1203.8 163.3h3.4v3.4h-3.4zM1200.8 166.3h3.4v3.4h-3.4zM1197.8 169.3h3.4v3.4h-3.4zM1170.8 172.3h3.4v3.4h-3.4zM1191.8 172.3h3.4v3.4h-3.4z"/><path fill="#ECD934" d="M1179.8 79.3h12.4v3.4h-12.4zM1170.8 82.3h6.4v3.4h-6.4zM1194.8 82.3h6.4v3.4h-6.4zM1167.8 85.3h3.4v3.4h-3.4zM1200.8 85.3h3.4v3.4h-3.4zM1164.8 88.3h3.4v3.4h-3.4zM1203.8 88.3h3.4v3.4h-3.4zM1161.8 91.3h3.4v3.4h-3.4zM1206.8 91.3h3.4v3.4h-3.4zM1161.8 94.3h3.4v3.4h-3.4zM1209.8 94.3h3.4v3.4h-3.4zM1209.8 97.3h3.4v3.4h-3.4zM1158.8 100.3h3.4v3.4h-3.4zM1209.8 100.3h3.4v3.4h-3.4zM1158.8 103.3h3.4v3.4h-3.4zM1209.8 103.3h3.4v3.4h-3.4zM1158.8 106.3h3.4v3.4h-3.4zM1209.8 106.3h3.4v3.4h-3.4zM1158.8 109.3h3.4v3.4h-3.4zM1209.8 109.3h3.4v3.4h-3.4zM1158.8 112.3h3.4v3.4h-3.4zM1209.8 112.3h3.4v3.4h-3.4zM1209.8 115.3h3.4v3.4h-3.4zM1155.8 118.3h3.4v3.4h-3.4zM1209.8 118.3h3.4v3.4h-3.4zM1155.8 121.3h3.4v3.4h-3.4zM1209.8 121.3h3.4v3.4h-3.4zM1209.8 124.3h3.4v3.4h-3.4zM1152.8 127.3h3.4v3.4h-3.4zM1209.8 127.3h3.4v3.4h-3.4zM1152.8 130.3h3.4v3.4h-3.4zM1152.8 148.3h3.4v3.4h-3.4zM1209.8 151.3h3.4v3.4h-3.4zM1206.8 157.3h3.4v3.4h-3.4zM1173.8 172.3h3.4v3.4h-3.4z"/><path fill="#ECC830" d="M1176.8 82.3h18.4v3.4h-18.4zM1170.8 85.3h3.4v3.4h-3.4zM1197.8 85.3h3.4v3.4h-3.4zM1167.8 88.3h3.4v3.4h-3.4zM1200.8 88.3h3.4v3.4h-3.4zM1164.8 91.3h3.4v3.4h-3.4zM1203.8 91.3h3.4v3.4h-3.4zM1164.8 94.3h3.4v3.4h-3.4zM1206.8 94.3h3.4v3.4h-3.4zM1161.8 97.3h3.4v3.4h-3.4zM1206.8 97.3h3.4v3.4h-3.4zM1161.8 100.3h3.4v3.4h-3.4zM1206.8 100.3h3.4v3.4h-3.4zM1161.8 103.3h3.4v3.4h-3.4zM1206.8 103.3h3.4v3.4h-3.4zM1161.8 106.3h3.4v3.4h-3.4zM1206.8 106.3h3.4v3.4h-3.4zM1161.8 109.3h3.4v3.4h-3.4zM1206.8 109.3h3.4v3.4h-3.4zM1206.8 112.3h3.4v3.4h-3.4zM1158.8 115.3h3.4v3.4h-3.4zM1206.8 115.3h3.4v3.4h-3.4zM1206.8 118.3h3.4v3.4h-3.4zM1206.8 121.3h3.4v3.4h-3.4zM1155.8 124.3h3.4v3.4h-3.4zM1209.8 130.3h3.4v3.4h-3.4zM1152.8 133.3h3.4v3.4h-3.4zM1209.8 133.3h3.4v3.4h-3.4zM1152.8 136.3h3.4v3.4h-3.4zM1209.8 136.3h3.4v3.4h-3.4zM1209.8 139.3h3.4v3.4h-3.4zM1152.8 142.3h3.4v3.4h-3.4zM1209.8 142.3h3.4v3.4h-3.4zM1152.8 145.3h3.4v3.4h-3.4zM1209.8 145.3h3.4v3.4h-3.4zM1209.8 148.3h3.4v3.4h-3.4zM1155.8 154.3h3.4v3.4h-3.4zM1158.8 160.3h3.4v3.4h-3.4zM1161.8 163.3h3.4v3.4h-3.4zM1167.8 169.3h3.4v3.4h-3.4zM1194.8 169.3h3.4v3.4h-3.4zM1188.8 172.3h3.4v3.4h-3.4z"/><path fill="#EDB62E" d="M1173.8 85.3h6.4v3.4h-6.4zM1191.8 85.3h6.4v3.4h-6.4zM1170.8 88.3h3.4v3.4h-3.4zM1197.8 88.3h3.4v3.4h-3.4zM1167.8 91.3h3.4v3.4h-3.4zM1200.8 91.3h3.4v3.4h-3.4zM1167.8 94.3h3.4v3.4h-3.4zM1203.8 94.3h3.4v3.4h-3.4zM1164.8 97.3h3.4v3.4h-3.4zM1203.8 97.3h3.4v3.4h-3.4zM1164.8 100.3h3.4v3.4h-3.4zM1203.8 100.3h3.4v3.4h-3.4zM1164.8 103.3h3.4v3.4h-3.4zM1203.8 103.3h3.4v3.4h-3.4zM1203.8 106.3h3.4v3.4h-3.4zM1203.8 109.3h3.4v3.4h-3.4zM1161.8 112.3h3.4v3.4h-3.4zM1203.8 112.3h3.4v3.4h-3.4zM1203.8 115.3h3.4v3.4h-3.4zM1158.8 118.3h3.4v3.4h-3.4zM1206.8 124.3h3.4v3.4h-3.4zM1155.8 127.3h3.4v3.4h-3.4zM1206.8 127.3h3.4v3.4h-3.4zM1152.8 139.3h3.4v3.4h-3.4zM1206.8 154.3h3.4v3.4h-3.4zM1203.8 160.3h3.4v3.4h-3.4zM1200.8 163.3h3.4v3.4h-3.4zM1164.8 166.3h3.4v3.4h-3.4zM1197.8 166.3h3.4v3.4h-3.4zM1176.8 172.3h12.4v3.4h-12.4z"/><path fill="#EDA52B" d="M1179.8 85.3h12.4v3.4h-12.4zM1173.8 88.3h6.4v3.4h-6.4zM1191.8 88.3h6.4v3.4h-6.4zM1170.8 91.3h3.4v3.4h-3.4zM1197.8 91.3h3.4v3.4h-3.4zM1200.8 94.3h3.4v3.4h-3.4zM1167.8 97.3h3.4v3.4h-3.4zM1200.8 97.3h3.4v3.4h-3.4zM1167.8 100.3h3.4v3.4h-3.4zM1200.8 100.3h3.4v3.4h-3.4zM1200.8 103.3h3.4v3.4h-3.4zM1164.8 106.3h3.4v3.4h-3.4zM1200.8 106.3h3.4v3.4h-3.4zM1164.8 109.3h3.4v3.4h-3.4zM1200.8 109.3h3.4v3.4h-3.4zM1200.8 112.3h3.4v3.4h-3.4zM1161.8 115.3h3.4v3.4h-3.4zM1203.8 118.3h3.4v3.4h-3.4zM1158.8 121.3h3.4v3.4h-3.4zM1203.8 121.3h3.4v3.4h-3.4zM1155.8 130.3h3.4v3.4h-3.4zM1206.8 130.3h3.4v3.4h-3.4zM1155.8 151.3h3.4v3.4h-3.4zM1206.8 151.3h3.4v3.4h-3.4zM1158.8 157.3h3.4v3.4h-3.4zM1170.8 169.3h3.4v3.4h-3.4zM1191.8 169.3h3.4v3.4h-3.4z"/><path fill="#EE9428" d="M1179.8 88.3h12.4v3.4h-12.4zM1173.8 91.3h6.4v3.4h-6.4zM1191.8 91.3h6.4v3.4h-6.4zM1170.8 94.3h6.4v3.4h-6.4zM1197.8 94.3h3.4v3.4h-3.4zM1170.8 97.3h3.4v3.4h-3.4zM1197.8 97.3h3.4v3.4h-3.4zM1170.8 100.3h3.4v3.4h-3.4zM1197.8 100.3h3.4v3.4h-3.4zM1167.8 103.3h3.4v3.4h-3.4zM1197.8 103.3h3.4v3.4h-3.4zM1167.8 106.3h3.4v3.4h-3.4zM1197.8 106.3h3.4v3.4h-3.4zM1164.8 112.3h3.4v3.4h-3.4zM1200.8 115.3h3.4v3.4h-3.4zM1161.8 118.3h3.4v3.4h-3.4zM1158.8 124.3h3.4v3.4h-3.4zM1203.8 124.3h3.4v3.4h-3.4zM1155.8 133.3h3.4v3.4h-3.4zM1206.8 133.3h3.4v3.4h-3.4zM1206.8 136.3h3.4v3.4h-3.4zM1206.8 145.3h3.4v3.4h-3.4zM1155.8 148.3h3.4v3.4h-3.4zM1206.8 148.3h3.4v3.4h-3.4zM1203.8 157.3h3.4v3.4h-3.4z"/><path fill="#F07E23" d="M1179.8 91.3h12.4v3.4h-12.4zM1176.8 94.3h3.4v3.4h-3.4zM1191.8 94.3h6.4v3.4h-6.4zM1173.8 97.3h3.4v3.4h-3.4zM1194.8 97.3h3.4v3.4h-3.4zM1173.8 100.3h3.4v3.4h-3.4zM1194.8 100.3h3.4v3.4h-3.4zM1170.8 103.3h3.4v3.4h-3.4zM1194.8 103.3h3.4v3.4h-3.4zM1170.8 106.3h3.4v3.4h-3.4zM1194.8 106.3h3.4v3.4h-3.4zM1167.8 109.3h3.4v3.4h-3.4zM1197.8 109.3h3.4v3.4h-3.4zM1197.8 112.3h3.4v3.4h-3.4zM1164.8 115.3h3.4v3.4h-3.4zM1200.8 118.3h3.4v3.4h-3.4zM1203.8 127.3h3.4v3.4h-3.4zM1155.8 136.3h3.4v3.4h-3.4zM1206.8 139.3h3.4v3.4h-3.4zM1206.8 142.3h3.4v3.4h-3.4zM1155.8 145.3h3.4v3.4h-3.4zM1158.8 154.3h3.4v3.4h-3.4zM1203.8 154.3h3.4v3.4h-3.4zM1161.8 160.3h3.4v3.4h-3.4zM1200.8 160.3h3.4v3.4h-3.4zM1164.8 163.3h3.4v3.4h-3.4zM1167.8 166.3h3.4v3.4h-3.4zM1194.8 166.3h3.4v3.4h-3.4zM1173.8 169.3h3.4v3.4h-3.4zM1188.8 169.3h3.4v3.4h-3.4z"/><path fill="#F4681D" d="M1179.8 94.3h12.4v3.4h-12.4zM1176.8 97.3h18.4v3.4h-18.4zM1176.8 100.3h3.4v3.4h-3.4zM1188.8 100.3h6.4v3.4h-6.4zM1173.8 103.3h3.4v3.4h-3.4zM1191.8 103.3h3.4v3.4h-3.4zM1173.8 106.3h3.4v3.4h-3.4zM1191.8 106.3h3.4v3.4h-3.4zM1170.8 109.3h3.4v3.4h-3.4zM1194.8 109.3h3.4v3.4h-3.4zM1167.8 112.3h3.4v3.4h-3.4zM1194.8 112.3h3.4v3.4h-3.4zM1197.8 115.3h3.4v3.4h-3.4zM1161.8 121.3h3.4v3.4h-3.4zM1200.8 121.3h3.4v3.4h-3.4zM1158.8 127.3h3.4v3.4h-3.4zM1203.8 130.3h3.4v3.4h-3.4zM1155.8 139.3h3.4v3.4h-3.4zM1155.8 142.3h3.4v3.4h-3.4zM1197.8 163.3h3.4v3.4h-3.4z"/><path fill="#F75117" d="M1179.8 100.3h9.4v3.4h-9.4zM1176.8 103.3h15.4v3.4h-15.4zM1176.8 106.3h3.4v3.4h-3.4zM1188.8 106.3h3.4v3.4h-3.4zM1173.8 109.3h3.4v3.4h-3.4zM1191.8 109.3h3.4v3.4h-3.4zM1170.8 112.3h3.4v3.4h-3.4zM1167.8 115.3h3.4v3.4h-3.4zM1164.8 118.3h3.4v3.4h-3.4zM1197.8 118.3h3.4v3.4h-3.4zM1200.8 124.3h3.4v3.4h-3.4zM1158.8 130.3h3.4v3.4h-3.4zM1203.8 133.3h3.4v3.4h-3.4zM1158.8 151.3h3.4v3.4h-3.4zM1203.8 151.3h3.4v3.4h-3.4zM1176.8 169.3h12.4v3.4h-12.4z"/><path fill="#F84013" d="M1179.8 106.3h9.4v3.4h-9.4zM1176.8 109.3h3.4v3.4h-3.4zM1188.8 109.3h3.4v3.4h-3.4zM1191.8 112.3h3.4v3.4h-3.4zM1194.8 115.3h3.4v3.4h-3.4zM1197.8 121.3h3.4v3.4h-3.4zM1161.8 124.3h3.4v3.4h-3.4zM1203.8 136.3h3.4v3.4h-3.4zM1203.8 148.3h3.4v3.4h-3.4zM1161.8 157.3h3.4v3.4h-3.4zM1200.8 157.3h3.4v3.4h-3.4zM1170.8 166.3h3.4v3.4h-3.4zM1191.8 166.3h3.4v3.4h-3.4z"/><path fill="#F93312" d="M1179.8 109.3h9.4v3.4h-9.4zM1173.8 112.3h3.4v3.4h-3.4zM1188.8 112.3h3.4v3.4h-3.4zM1170.8 115.3h3.4v3.4h-3.4zM1194.8 118.3h3.4v3.4h-3.4zM1164.8 121.3h3.4v3.4h-3.4zM1200.8 127.3h3.4v3.4h-3.4zM1158.8 133.3h3.4v3.4h-3.4zM1203.8 139.3h3.4v3.4h-3.4zM1203.8 142.3h3.4v3.4h-3.4zM1203.8 145.3h3.4v3.4h-3.4zM1158.8 148.3h3.4v3.4h-3.4zM1164.8 160.3h3.4v3.4h-3.4zM1197.8 160.3h3.4v3.4h-3.4zM1167.8 163.3h3.4v3.4h-3.4zM1194.8 163.3h3.4v3.4h-3.4z"/><path fill="#FA2710" d="M1176.8 112.3h3.4v3.4h-3.4zM1185.8 112.3h3.4v3.4h-3.4zM1191.8 115.3h3.4v3.4h-3.4zM1167.8 118.3h3.4v3.4h-3.4zM1197.8 124.3h3.4v3.4h-3.4zM1161.8 127.3h3.4v3.4h-3.4zM1200.8 130.3h3.4v3.4h-3.4zM1158.8 136.3h3.4v3.4h-3.4zM1158.8 139.3h3.4v3.4h-3.4zM1158.8 145.3h3.4v3.4h-3.4zM1161.8 154.3h3.4v3.4h-3.4zM1200.8 154.3h3.4v3.4h-3.4zM1173.8 166.3h3.4v3.4h-3.4zM1188.8 166.3h3.4v3.4h-3.4z"/><path fill="#F82310" d="M1179.8 112.3h6.4v3.4h-6.4zM1173.8 115.3h3.4v3.4h-3.4zM1188.8 115.3h3.4v3.4h-3.4zM1194.8 121.3h3.4v3.4h-3.4zM1164.8 124.3h3.4v3.4h-3.4zM1158.8 142.3h3.4v3.4h-3.4zM1200.8 151.3h3.4v3.4h-3.4zM1185.8 166.3h3.4v3.4h-3.4z"/><path fill="#F62110" d="M1185.8 115.3h3.4v3.4h-3.4zM1170.8 118.3h3.4v3.4h-3.4zM1191.8 118.3h3.4v3.4h-3.4zM1167.8 121.3h3.4v3.4h-3.4zM1197.8 127.3h3.4v3.4h-3.4zM1161.8 130.3h3.4v3.4h-3.4zM1200.8 133.3h3.4v3.4h-3.4zM1164.8 157.3h3.4v3.4h-3.4zM1197.8 157.3h3.4v3.4h-3.4zM1170.8 163.3h3.4v3.4h-3.4zM1191.8 163.3h3.4v3.4h-3.4zM1176.8 166.3h9.4v3.4h-9.4z"/><path fill="#F42010" d="M1176.8 115.3h9.4v3.4h-9.4zM1173.8 118.3h18.4v3.4h-18.4zM1170.8 121.3h24.4v3.4h-24.4zM1167.8 124.3h30.4v3.4h-30.4zM1164.8 127.3h33.4v3.4h-33.4zM1164.8 130.3h36.4v3.4h-36.4zM1161.8 133.3h39.4v3.4h-39.4zM1161.8 136.3h42.4v3.4h-42.4zM1161.8 139.3h42.4v3.4h-42.4zM1161.8 142.3h42.4v3.4h-42.4zM1161.8 145.3h42.4v3.4h-42.4zM1161.8 148.3h42.4v3.4h-42.4zM1161.8 151.3h39.4v3.4h-39.4zM1164.8 154.3h36.4v3.4h-36.4zM1167.8 157.3h30.4v3.4h-30.4zM1167.8 160.3h30.4v3.4h-30.4zM1173.8 163.3h18.4v3.4h-18.4z"/></g></g>
<line x1="799" y1="164.3" x2="1044" y2="164.3" stroke="#B2B2B2" stroke-width="2.4"/>
<path d="M1018.5 155 L1045.5 164.3 L1018.5 174" fill="none" stroke="#B2B2B2" stroke-width="2.4"/>
<text x="1426.8" y="260.5" style="font-size:26.6px;">NAc LFP 0.5-100 Hz Filtered</text>
<line x1="124.9" y1="298.9" x2="124.9" y2="533.3" stroke="#3a3a3a" stroke-width="1.3"/>
<line x1="282.82" y1="298.9" x2="282.82" y2="533.3" stroke="#3a3a3a" stroke-width="1.3"/>
<line x1="440.74" y1="298.9" x2="440.74" y2="533.3" stroke="#3a3a3a" stroke-width="1.3"/>
<line x1="598.66" y1="298.9" x2="598.66" y2="533.3" stroke="#3a3a3a" stroke-width="1.3"/>
<line x1="756.58" y1="298.9" x2="756.58" y2="533.3" stroke="#3a3a3a" stroke-width="1.3"/>
<line x1="914.5" y1="298.9" x2="914.5" y2="533.3" stroke="#3a3a3a" stroke-width="1.3"/>
<line x1="1072.42" y1="298.9" x2="1072.42" y2="533.3" stroke="#3a3a3a" stroke-width="1.3"/>
<line x1="1230.34" y1="298.9" x2="1230.34" y2="533.3" stroke="#3a3a3a" stroke-width="1.3"/>
<line x1="1388.26" y1="298.9" x2="1388.26" y2="533.3" stroke="#3a3a3a" stroke-width="1.3"/>
<line x1="1546.18" y1="298.9" x2="1546.18" y2="533.3" stroke="#3a3a3a" stroke-width="1.3"/>
<line x1="1704.1" y1="298.9" x2="1704.1" y2="533.3" stroke="#3a3a3a" stroke-width="1.3"/>
<line x1="124.9" y1="298.9" x2="1704.1" y2="298.9" stroke="#3a3a3a" stroke-width="1.3"/>
<line x1="124.9" y1="337.967" x2="1704.1" y2="337.967" stroke="#3a3a3a" stroke-width="1.3"/>
<line x1="124.9" y1="377.033" x2="1704.1" y2="377.033" stroke="#3a3a3a" stroke-width="1.3"/>
<line x1="124.9" y1="416.1" x2="1704.1" y2="416.1" stroke="#3a3a3a" stroke-width="1.3"/>
<line x1="124.9" y1="455.167" x2="1704.1" y2="455.167" stroke="#3a3a3a" stroke-width="1.3"/>
<line x1="124.9" y1="494.233" x2="1704.1" y2="494.233" stroke="#3a3a3a" stroke-width="1.3"/>
<line x1="124.9" y1="533.3" x2="1704.1" y2="533.3" stroke="#3a3a3a" stroke-width="1.3"/>
<line x1="124.9" y1="298.9" x2="137.9" y2="298.9" stroke="#2a2a2a" stroke-width="1.5"/>
<line x1="1691.1" y1="298.9" x2="1704.1" y2="298.9" stroke="#2a2a2a" stroke-width="1.5"/>
<line x1="124.9" y1="337.967" x2="137.9" y2="337.967" stroke="#2a2a2a" stroke-width="1.5"/>
<line x1="1691.1" y1="337.967" x2="1704.1" y2="337.967" stroke="#2a2a2a" stroke-width="1.5"/>
<line x1="124.9" y1="377.033" x2="137.9" y2="377.033" stroke="#2a2a2a" stroke-width="1.5"/>
<line x1="1691.1" y1="377.033" x2="1704.1" y2="377.033" stroke="#2a2a2a" stroke-width="1.5"/>
<line x1="124.9" y1="416.1" x2="137.9" y2="416.1" stroke="#2a2a2a" stroke-width="1.5"/>
<line x1="1691.1" y1="416.1" x2="1704.1" y2="416.1" stroke="#2a2a2a" stroke-width="1.5"/>
<line x1="124.9" y1="455.167" x2="137.9" y2="455.167" stroke="#2a2a2a" stroke-width="1.5"/>
<line x1="1691.1" y1="455.167" x2="1704.1" y2="455.167" stroke="#2a2a2a" stroke-width="1.5"/>
<line x1="124.9" y1="494.233" x2="137.9" y2="494.233" stroke="#2a2a2a" stroke-width="1.5"/>
<line x1="1691.1" y1="494.233" x2="1704.1" y2="494.233" stroke="#2a2a2a" stroke-width="1.5"/>
<line x1="124.9" y1="533.3" x2="137.9" y2="533.3" stroke="#2a2a2a" stroke-width="1.5"/>
<line x1="1691.1" y1="533.3" x2="1704.1" y2="533.3" stroke="#2a2a2a" stroke-width="1.5"/>
<path d="M124.9 408.2 125.7 396.7 126.5 394.6 127.3 381.5 128.1 372.5 128.9 368.7 129.7 366.1 130.5 354.4 131.3 354.4 132.1 353.8 132.9 357.5 133.7 370.1 134.5 371.2 135.3 372.4 136.1 374.7 136.9 380.7 137.7 385.4 138.5 399.8 139.3 397.7 140.1 384.1 140.9 392.7 141.7 391.1 142.5 385.8 143.3 388.0 144.1 386.4 144.9 397.7 145.7 410.7 146.5 413.6 147.3 422.9 148.1 424.1 148.9 433.8 149.7 446.1 150.5 444.6 151.3 456.5 152.1 446.3 152.9 437.0 153.7 437.4 154.5 429.7 155.3 423.2 156.1 420.9 156.9 413.8 157.7 395.7 158.5 414.0 159.3 412.9 160.1 403.1 160.9 425.2 161.7 406.2 162.5 423.2 163.3 440.5 164.1 438.4 164.9 426.6 165.7 424.3 166.5 424.5 167.3 417.5 168.1 408.1 168.9 403.6 169.7 403.2 170.5 386.4 171.3 403.6 172.1 397.7 172.9 393.5 173.7 431.0 174.5 399.9 175.3 426.3 176.1 443.8 176.9 431.9 177.7 449.6 178.5 437.3 179.3 439.3 180.1 435.6 180.9 427.6 181.7 425.0 182.5 408.4 183.3 410.5 184.1 410.1 184.9 396.1 185.7 394.4 186.5 382.6 187.3 393.4 188.1 393.7 188.9 411.9 189.7 410.4 190.5 377.5 191.3 391.2 192.1 403.4 192.9 385.5 193.7 341.0 194.5 378.5 195.3 377.7 196.1 334.0 196.9 355.1 197.7 348.2 198.5 340.5 199.3 375.4 200.1 373.4 200.9 376.8 201.7 391.4 202.5 398.3 203.3 412.9 204.1 392.9 204.9 407.9 205.7 409.9 206.5 398.0 207.3 401.1 208.1 409.8 208.9 421.4 209.7 399.6 210.5 427.8 211.3 454.3 212.1 443.1 212.9 441.2 213.7 468.9 214.5 449.7 215.3 440.1 216.1 445.6 216.9 423.3 217.7 422.7 218.5 420.6 219.3 415.4 220.1 406.2 220.9 401.9 221.7 412.4 222.5 421.2 223.3 425.2 224.1 428.4 224.9 434.0 225.7 421.3 226.5 401.1 227.3 395.7 228.1 392.1 228.9 379.0 229.7 385.8 230.5 396.9 231.3 405.8 232.1 421.7 232.9 435.3 233.7 438.8 234.5 446.8 235.3 468.6 236.1 457.5 236.9 444.2 237.7 448.0 238.5 441.1 239.3 427.9 240.1 421.8 240.9 420.5 241.7 413.9 242.5 410.9 243.3 423.5 244.1 432.4 244.9 429.3 245.7 428.7 246.5 442.1 247.3 432.9 248.1 426.0 248.9 417.6 249.7 405.5 250.5 410.3 251.3 390.7 252.1 385.6 252.9 377.7 253.7 362.6 254.5 359.1 255.3 356.3 256.1 362.0 256.9 369.1 257.7 381.2 258.5 384.0 259.3 385.0 260.1 397.7 260.9 411.0 261.7 412.2 262.5 415.2 263.3 412.4 264.1 412.7 264.9 390.9 265.7 393.3 266.5 397.5 267.3 379.2 268.1 374.4 268.9 369.5 269.7 369.6 270.5 353.6 271.3 352.5 272.1 360.3 272.9 367.8 273.7 381.2 274.5 385.2 275.3 397.9 276.1 399.6 276.9 391.1 277.7 386.0 278.5 379.5 279.3 369.5 280.1 369.5 280.9 362.4 281.7 361.2 282.5 370.6 283.3 364.2 284.1 360.7 284.9 373.6 285.7 369.6 286.5 372.3 287.3 381.0 288.1 384.6 288.9 395.0 289.7 408.9 290.5 414.7 291.3 403.5 292.1 423.0 292.9 438.3 293.7 439.8 294.5 441.4 295.3 445.9 296.1 452.0 296.9 432.0 297.7 422.9 298.5 423.3 299.3 407.8 300.1 403.7 300.9 400.2 301.7 395.4 302.5 376.7 303.3 371.6 304.1 370.3 304.9 353.3 305.7 353.0 306.5 365.5 307.3 367.3 308.1 366.5 308.9 377.3 309.7 390.3 310.5 387.2 311.3 395.9 312.1 404.1 312.9 408.1 313.7 422.8 314.5 422.1 315.3 420.7 316.1 427.5 316.9 420.8 317.7 402.9 318.5 400.4 319.3 398.3 320.1 387.4 320.9 382.4 321.7 378.7 322.5 367.0 323.3 360.4 324.1 354.8 324.9 360.2 325.7 369.9 326.5 364.9 327.3 362.4 328.1 379.4 328.9 384.6 329.7 376.4 330.5 380.2 331.3 388.4 332.1 398.9 332.9 394.8 333.7 395.9 334.5 402.9 335.3 406.2 336.1 412.1 336.9 396.9 337.7 391.6 338.5 394.4 339.3 384.7 340.1 375.9 340.9 377.4 341.7 371.6 342.5 361.2 343.3 363.4 344.1 350.1 344.9 345.6 345.7 346.5 346.5 331.6 347.3 338.9 348.1 340.3 348.9 330.1 349.7 355.9 350.5 370.2 351.3 358.2 352.1 366.6 352.9 379.9 353.7 393.1 354.5 392.8 355.3 402.1 356.1 403.4 356.9 416.2 357.7 418.1 358.5 416.0 359.3 427.4 360.1 409.5 360.9 404.6 361.7 409.3 362.5 399.4 363.3 408.4 364.1 385.7 364.9 391.7 365.7 390.0 366.5 369.3 367.3 383.0 368.1 376.4 368.9 369.7 369.7 368.2 370.5 366.6 371.3 381.3 372.1 383.5 372.9 364.6 373.7 384.7 374.5 392.2 375.3 390.2 376.1 389.2 376.9 394.9 377.7 402.6 378.5 409.8 379.3 409.1 380.1 403.8 380.9 417.6 381.7 416.1 382.5 415.7 383.3 431.1 384.1 429.2 384.9 431.3 385.7 416.9 386.5 413.6 387.3 405.3 388.1 407.2 388.9 406.4 389.7 374.9 390.5 382.5 391.3 391.0 392.1 365.8 392.9 351.4 393.7 369.7 394.5 354.8 395.3 341.3 396.1 328.1 396.9 341.6 397.7 348.4 398.5 332.4 399.3 327.9 400.1 331.2 400.9 340.7 401.7 326.7 402.5 330.6 403.3 338.8 404.1 346.8 404.9 351.8 405.7 355.4 406.5 361.1 407.3 358.4 408.1 379.2 408.9 392.7 409.7 380.3 410.5 395.2 411.3 393.1 412.1 393.1 412.9 418.2 413.7 398.9 414.5 413.2 415.3 394.2 416.1 380.0 416.9 396.2 417.7 378.0 418.5 387.0 419.3 364.7 420.1 365.3 420.9 379.3 421.7 352.4 422.5 354.9 423.3 373.5 424.1 370.6 424.9 382.1 425.7 400.1 426.5 408.8 427.3 418.2 428.1 423.2 428.9 446.5 429.7 447.6 430.5 439.3 431.3 442.3 432.1 417.5 432.9 418.0 433.7 418.2 434.5 397.2 435.3 405.1 436.1 392.5 436.9 383.5 437.7 363.6 438.5 384.4 439.3 392.8 440.1 376.7 440.9 416.2 441.7 423.4 442.5 408.6 443.3 405.8 444.1 420.7 444.9 413.7 445.7 406.2 446.5 395.6 447.3 394.4 448.1 400.0 448.9 380.1 449.7 376.4 450.5 387.2 451.3 394.6 452.1 391.1 452.9 396.7 453.7 409.3 454.5 402.3 455.3 417.0 456.1 416.3 456.9 416.4 457.7 428.1 458.5 434.5 459.3 436.8 460.1 425.4 460.9 429.2 461.7 421.4 462.5 407.8 463.3 407.3 464.1 399.1 464.9 408.5 465.7 384.4 466.5 374.4 467.3 383.9 468.1 369.9 468.9 384.9 469.7 391.9 470.5 396.2 471.3 404.8 472.1 408.1 472.9 423.3 473.7 430.8 474.5 433.3 475.3 448.4 476.1 452.1 476.9 444.7 477.7 446.1 478.5 432.6 479.3 423.8 480.1 412.9 480.9 406.6 481.7 396.5 482.5 388.1 483.3 385.8 484.1 363.7 484.9 375.2 485.7 382.1 486.5 372.1 487.3 402.3 488.1 406.1 488.9 406.0 489.7 416.5 490.5 427.6 491.3 433.6 492.1 430.7 492.9 443.6 493.7 470.3 494.5 460.0 495.3 443.4 496.1 453.4 496.9 452.9 497.7 454.4 498.5 432.0 499.3 438.3 500.1 438.5 500.9 429.2 501.7 436.1 502.5 413.9 503.3 417.0 504.1 420.3 504.9 414.2 505.7 422.0 506.5 417.4 507.3 430.8 508.1 429.8 508.9 430.6 509.7 425.6 510.5 406.6 511.3 411.7 512.1 404.7 512.9 393.7 513.7 387.2 514.5 370.1 515.3 368.8 516.1 379.0 516.9 366.5 517.7 367.2 518.5 408.8 519.3 408.6 520.1 372.3 520.9 405.3 521.7 432.5 522.5 408.0 523.3 428.1 524.1 438.3 524.9 433.8 525.7 441.9 526.5 448.7 527.3 452.8 528.1 447.9 528.9 440.4 529.7 439.9 530.5 439.2 531.3 435.1 532.1 428.0 532.9 427.1 533.7 426.9 534.5 420.1 535.3 420.4 536.1 406.2 536.9 400.0 537.7 399.4 538.5 383.5 539.3 387.5 540.1 390.3 540.9 381.1 541.7 392.2 542.5 382.3 543.3 387.0 544.1 384.9 544.9 362.1 545.7 394.5 546.5 371.8 547.3 392.5 548.1 409.3 548.9 378.8 549.7 400.9 550.5 389.5 551.3 399.7 552.1 403.6 552.9 396.8 553.7 414.2 554.5 393.4 555.3 414.2 556.1 406.8 556.9 399.4 557.7 418.3 558.5 389.9 559.3 414.5 560.1 416.0 560.9 399.1 561.7 404.6 562.5 398.2 563.3 403.8 564.1 400.0 564.9 389.0 565.7 410.6 566.5 387.5 567.3 381.8 568.1 399.0 568.9 388.6 569.7 382.4 570.5 391.5 571.3 404.8 572.1 405.1 572.9 392.6 573.7 411.7 574.5 426.9 575.3 418.5 576.1 420.3 576.9 418.5 577.7 435.2 578.5 438.1 579.3 428.0 580.1 425.6 580.9 435.2 581.7 435.4 582.5 436.0 583.3 435.3 584.1 434.1 584.9 432.4 585.7 425.0 586.5 415.7 587.3 410.6 588.1 405.8 588.9 399.1 589.7 409.9 590.5 415.4 591.3 397.3 592.1 408.5 592.9 419.2 593.7 409.6 594.5 423.4 595.3 409.4 596.1 399.8 596.9 397.3 597.7 383.9 598.5 384.6 599.3 377.3 600.1 367.4 600.9 361.8 601.7 363.8 602.5 370.5 603.3 374.1 604.1 382.6 604.9 388.3 605.7 394.4 606.5 406.3 607.3 410.5 608.1 407.7 608.9 417.7 609.7 442.0 610.5 433.9 611.3 412.6 612.1 412.0 612.9 407.0 613.7 391.1 614.5 376.4 615.3 371.1 616.1 379.6 616.9 380.0 617.7 381.3 618.5 392.6 619.3 393.1 620.1 382.4 620.9 387.2 621.7 382.9 622.5 382.7 623.3 380.2 624.1 367.2 624.9 364.8 625.7 357.6 626.5 353.5 627.3 393.4 628.1 385.2 628.9 400.1 629.7 400.5 630.5 387.1 631.3 425.0 632.1 424.9 632.9 441.6 633.7 430.4 634.5 450.0 635.3 452.9 636.1 455.7 636.9 472.3 637.7 461.7 638.5 455.8 639.3 437.9 640.1 466.1 640.9 420.7 641.7 402.0 642.5 429.3 643.3 427.4 644.1 438.9 644.9 440.5 645.7 448.8 646.5 441.7 647.3 429.5 648.1 423.6 648.9 409.5 649.7 401.9 650.5 386.9 651.3 384.7 652.1 400.7 652.9 402.9 653.7 410.9 654.5 414.9 655.3 413.1 656.1 414.1 656.9 381.7 657.7 370.6 658.5 385.0 659.3 373.7 660.1 383.0 660.9 396.2 661.7 393.5 662.5 382.1 663.3 364.8 664.1 356.8 664.9 365.1 665.7 371.4 666.5 376.0 667.3 391.2 668.1 396.9 668.9 396.8 669.7 408.5 670.5 422.5 671.3 417.5 672.1 425.2 672.9 439.9 673.7 441.1 674.5 443.8 675.3 444.2 676.1 456.1 676.9 449.0 677.7 447.9 678.5 439.1 679.3 424.4 680.1 419.7 680.9 419.3 681.7 416.7 682.5 413.9 683.3 400.6 684.1 395.7 684.9 396.3 685.7 382.5 686.5 373.1 687.3 375.2 688.1 379.9 688.9 384.3 689.7 398.6 690.5 411.3 691.3 418.6 692.1 413.2 692.9 395.2 693.7 387.5 694.5 371.0 695.3 368.1 696.1 379.6 696.9 396.5 697.7 398.8 698.5 411.7 699.3 439.0 700.1 434.8 700.9 449.2 701.7 461.9 702.5 459.3 703.3 448.5 704.1 425.3 704.9 416.3 705.7 399.7 706.5 381.3 707.3 376.0 708.1 351.2 708.9 350.4 709.7 345.4 710.5 339.8 711.3 335.4 712.1 322.1 712.9 320.7 713.7 319.0 714.5 331.6 715.3 347.3 716.1 359.9 716.9 382.7 717.7 399.6 718.5 409.1 719.3 427.9 720.1 408.9 720.9 370.2 721.7 372.4 722.5 390.6 723.3 390.6 724.1 419.1 724.9 428.2 725.7 438.5 726.5 423.6 727.3 413.0 728.1 386.3 728.9 365.6 729.7 369.5 730.5 376.2 731.3 385.0 732.1 389.8 732.9 420.5 733.7 424.3 734.5 428.7 735.3 451.3 736.1 463.6 736.9 445.0 737.7 431.6 738.5 428.8 739.3 409.5 740.1 401.9 740.9 387.7 741.7 371.6 742.5 358.2 743.3 352.1 744.1 335.8 744.9 321.1 745.7 325.3 746.5 330.8 747.3 359.1 748.1 369.5 748.9 372.0 749.7 392.6 750.5 411.1 751.3 415.0 752.1 434.0 752.9 448.4 753.7 457.0 754.5 446.0 755.3 411.0 756.1 385.2 756.9 358.5 757.7 361.0 758.5 389.3 759.3 407.4 760.1 403.5 760.9 396.3 761.7 389.6 762.5 371.2 763.3 364.9 764.1 359.4 764.9 338.3 765.7 328.7 766.5 327.4 767.3 323.3 768.1 343.4 768.9 355.4 769.7 363.8 770.5 378.1 771.3 391.1 772.1 407.1 772.9 390.4 773.7 382.3 774.5 363.9 775.3 361.2 776.1 350.6 776.9 325.0 777.7 328.3 778.5 307.6 779.3 326.6 780.1 371.9 780.9 381.7 781.7 405.6 782.5 430.4 783.3 428.1 784.1 416.2 784.9 394.0 785.7 383.4 786.5 371.3 787.3 355.4 788.1 354.4 788.9 393.1 789.7 437.9 790.5 419.4 791.3 408.3 792.1 405.0 792.9 396.3 793.7 385.1 794.5 373.7 795.3 371.5 796.1 384.9 796.9 386.9 797.7 399.1 798.5 392.2 799.3 371.6 800.1 372.6 800.9 366.7 801.7 364.6 802.5 342.9 803.3 342.7 804.1 364.7 804.9 371.9 805.7 381.3 806.5 389.8 807.3 408.6 808.1 411.3 808.9 419.3 809.7 440.2 810.5 450.1 811.3 427.9 812.1 425.5 812.9 408.7 813.7 383.9 814.5 375.6 815.3 354.9 816.1 362.8 816.9 380.7 817.7 392.8 818.5 400.5 819.3 419.2 820.1 437.8 820.9 440.0 821.7 450.6 822.5 448.0 823.3 436.7 824.1 444.7 824.9 431.0 825.7 427.8 826.5 426.5 827.3 420.7 828.1 409.7 828.9 416.0 829.7 432.4 830.5 410.5 831.3 430.4 832.1 458.8 832.9 443.0 833.7 450.5 834.5 445.0 835.3 421.2 836.1 426.5 836.9 420.7 837.7 398.0 838.5 428.8 839.3 445.2 840.1 432.4 840.9 459.9 841.7 471.8 842.5 477.8 843.3 508.4 844.1 503.1 844.9 494.9 845.7 520.5 846.5 518.9 847.3 462.5 848.1 434.9 848.9 438.3 849.7 459.8 850.5 483.0 851.3 487.1 852.1 491.8 852.9 473.6 853.7 456.5 854.5 446.1 855.3 449.0 856.1 464.0 856.9 463.1 857.7 458.9 858.5 467.2 859.3 467.4 860.1 441.7 860.9 446.5 861.7 443.0 862.5 460.5 863.3 465.4 864.1 477.7 864.9 488.2 865.7 451.5 866.5 436.9 867.3 441.3 868.1 405.1 868.9 392.5 869.7 409.9 870.5 418.0 871.3 439.8 872.1 431.9 872.9 431.8 873.7 438.1 874.5 450.0 875.3 472.4 876.1 458.5 876.9 437.5 877.7 405.1 878.5 408.9 879.3 448.2 880.1 464.8 880.9 493.0 881.7 479.4 882.5 454.3 883.3 433.1 884.1 415.7 884.9 443.8 885.7 465.3 886.5 495.5 887.3 520.1 888.1 504.6 888.9 479.4 889.7 441.7 890.5 421.3 891.3 425.3 892.1 457.0 892.9 478.3 893.7 478.0 894.5 499.3 895.3 472.9 896.1 451.1 896.9 456.9 897.7 439.4 898.5 428.1 899.3 440.7 900.1 449.2 900.9 452.4 901.7 464.4 902.5 471.0 903.3 451.1 904.1 409.4 904.9 380.7 905.7 399.4 906.5 429.1 907.3 438.2 908.1 426.6 908.9 418.7 909.7 396.0 910.5 389.8 911.3 445.4 912.1 448.6 912.9 438.5 913.7 428.3 914.5 422.1 915.3 430.4 916.1 448.2 916.9 454.5 917.7 464.2 918.5 470.4 919.3 461.3 920.1 452.2 920.9 454.2 921.7 445.1 922.5 446.2 923.3 453.2 924.1 460.8 924.9 473.1 925.7 454.2 926.5 440.3 927.3 435.0 928.1 428.3 928.9 412.6 929.7 399.7 930.5 409.0 931.3 415.5 932.1 407.1 932.9 433.8 933.7 439.5 934.5 427.0 935.3 455.6 936.1 455.2 936.9 456.9 937.7 452.5 938.5 439.6 939.3 458.8 940.1 441.6 940.9 433.5 941.7 443.0 942.5 450.6 943.3 449.7 944.1 454.9 944.9 454.1 945.7 477.0 946.5 465.8 947.3 470.2 948.1 479.3 948.9 476.7 949.7 497.2 950.5 483.4 951.3 497.2 952.1 503.0 952.9 488.0 953.7 500.5 954.5 484.3 955.3 483.0 956.1 490.0 956.9 460.8 957.7 465.4 958.5 470.0 959.3 464.8 960.1 458.8 960.9 462.4 961.7 479.1 962.5 479.7 963.3 488.2 964.1 494.0 964.9 501.3 965.7 511.5 966.5 500.7 967.3 496.8 968.1 501.4 968.9 509.7 969.7 501.6 970.5 500.3 971.3 499.0 972.1 491.5 972.9 497.5 973.7 499.5 974.5 492.8 975.3 478.4 976.1 487.8 976.9 486.3 977.7 477.1 978.5 474.8 979.3 464.2 980.1 473.6 980.9 448.3 981.7 450.7 982.5 465.2 983.3 447.8 984.1 437.5 984.9 425.7 985.7 440.0 986.5 431.5 987.3 418.2 988.1 429.4 988.9 425.0 989.7 423.9 990.5 448.2 991.3 430.0 992.1 442.6 992.9 454.3 993.7 438.5 994.5 457.3 995.3 458.0 996.1 460.5 996.9 464.9 997.7 461.8 998.5 462.0 999.3 454.1 1000.1 435.9 1000.9 437.8 1001.7 431.3 1002.5 417.1 1003.3 410.4 1004.1 403.6 1004.9 404.6 1005.7 397.3 1006.5 386.4 1007.3 388.3 1008.1 389.8 1008.9 383.1 1009.7 383.0 1010.5 394.8 1011.3 404.8 1012.1 400.2 1012.9 410.5 1013.7 416.5 1014.5 419.5 1015.3 421.4 1016.1 410.6 1016.9 410.1 1017.7 408.3 1018.5 396.4 1019.3 395.6 1020.1 393.1 1020.9 382.9 1021.7 379.7 1022.5 381.8 1023.3 403.9 1024.1 391.7 1024.9 387.6 1025.7 423.2 1026.5 406.2 1027.3 407.3 1028.1 427.8 1028.9 414.5 1029.7 439.5 1030.5 447.4 1031.3 420.6 1032.1 430.6 1032.9 435.1 1033.7 430.1 1034.5 423.2 1035.3 427.8 1036.1 423.9 1036.9 420.7 1037.7 430.5 1038.5 428.2 1039.3 432.2 1040.1 432.1 1040.9 443.2 1041.7 441.2 1042.5 438.5 1043.3 447.8 1044.1 443.2 1044.9 452.6 1045.7 454.2 1046.5 453.3 1047.3 456.3 1048.1 459.3 1048.9 463.4 1049.7 466.6 1050.5 460.3 1051.3 466.3 1052.1 476.3 1052.9 467.2 1053.7 469.6 1054.5 475.6 1055.3 482.8 1056.1 470.7 1056.9 455.6 1057.7 471.2 1058.5 474.2 1059.3 475.8 1060.1 490.5 1060.9 498.7 1061.7 495.6 1062.5 498.5 1063.3 520.6 1064.1 492.1 1064.9 495.0 1065.7 498.8 1066.5 482.3 1067.3 493.1 1068.1 471.6 1068.9 473.9 1069.7 479.3 1070.5 471.3 1071.3 489.6 1072.1 468.3 1072.9 472.6 1073.7 474.1 1074.5 481.6 1075.3 502.9 1076.1 493.0 1076.9 494.2 1077.7 497.6 1078.5 481.4 1079.3 478.4 1080.1 464.8 1080.9 467.5 1081.7 483.5 1082.5 450.4 1083.3 476.9 1084.1 482.2 1084.9 480.5 1085.7 494.9 1086.5 477.5 1087.3 504.7 1088.1 499.3 1088.9 479.1 1089.7 490.9 1090.5 487.0 1091.3 474.7 1092.1 475.2 1092.9 475.5 1093.7 463.0 1094.5 448.0 1095.3 455.8 1096.1 457.0 1096.9 434.4 1097.7 430.3 1098.5 431.0 1099.3 419.0 1100.1 415.3 1100.9 410.3 1101.7 396.4 1102.5 398.7 1103.3 403.1 1104.1 406.1 1104.9 418.7 1105.7 417.7 1106.5 418.7 1107.3 427.6 1108.1 427.8 1108.9 423.4 1109.7 417.4 1110.5 435.1 1111.3 431.0 1112.1 419.4 1112.9 427.5 1113.7 433.7 1114.5 423.6 1115.3 412.5 1116.1 418.9 1116.9 418.3 1117.7 403.2 1118.5 397.4 1119.3 405.2 1120.1 400.5 1120.9 391.2 1121.7 388.4 1122.5 388.8 1123.3 387.9 1124.1 389.8 1124.9 380.3 1125.7 383.9 1126.5 379.2 1127.3 378.2 1128.1 382.7 1128.9 382.4 1129.7 393.9 1130.5 404.5 1131.3 401.9 1132.1 401.7 1132.9 414.2 1133.7 427.9 1134.5 426.2 1135.3 430.7 1136.1 443.6 1136.9 445.4 1137.7 446.6 1138.5 455.7 1139.3 458.1 1140.1 450.3 1140.9 462.3 1141.7 470.1 1142.5 465.7 1143.3 467.5 1144.1 460.7 1144.9 469.8 1145.7 483.7 1146.5 473.7 1147.3 481.0 1148.1 480.8 1148.9 476.3 1149.7 479.9 1150.5 474.4 1151.3 467.7 1152.1 466.5 1152.9 469.9 1153.7 462.9 1154.5 458.2 1155.3 460.7 1156.1 458.7 1156.9 456.8 1157.7 460.0 1158.5 453.9 1159.3 452.4 1160.1 454.9 1160.9 461.1 1161.7 458.7 1162.5 463.4 1163.3 477.3 1164.1 470.1 1164.9 478.0 1165.7 479.0 1166.5 481.6 1167.3 482.1 1168.1 472.9 1168.9 465.9 1169.7 469.5 1170.5 451.1 1171.3 440.7 1172.1 451.0 1172.9 441.1 1173.7 432.5 1174.5 425.7 1175.3 419.2 1176.1 410.7 1176.9 406.2 1177.7 428.1 1178.5 411.9 1179.3 427.3 1180.1 451.5 1180.9 414.5 1181.7 443.7 1182.5 465.6 1183.3 448.6 1184.1 433.2 1184.9 472.1 1185.7 448.4 1186.5 432.5 1187.3 459.5 1188.1 415.0 1188.9 428.3 1189.7 439.5 1190.5 424.4 1191.3 416.0 1192.1 408.7 1192.9 417.5 1193.7 400.3 1194.5 414.6 1195.3 413.7 1196.1 406.0 1196.9 403.8 1197.7 406.8 1198.5 402.9 1199.3 396.3 1200.1 412.2 1200.9 411.6 1201.7 409.2 1202.5 421.6 1203.3 417.8 1204.1 423.1 1204.9 434.8 1205.7 431.9 1206.5 428.6 1207.3 429.6 1208.1 421.6 1208.9 400.4 1209.7 397.9 1210.5 389.1 1211.3 376.5 1212.1 368.7 1212.9 363.8 1213.7 365.0 1214.5 361.3 1215.3 346.1 1216.1 350.8 1216.9 358.3 1217.7 345.9 1218.5 355.6 1219.3 378.8 1220.1 384.3 1220.9 396.9 1221.7 391.0 1222.5 378.5 1223.3 425.9 1224.1 425.0 1224.9 407.9 1225.7 421.4 1226.5 390.3 1227.3 403.9 1228.1 400.5 1228.9 383.7 1229.7 395.4 1230.5 386.6 1231.3 408.9 1232.1 439.3 1232.9 437.5 1233.7 449.6 1234.5 477.6 1235.3 477.4 1236.1 469.7 1236.9 465.7 1237.7 455.4 1238.5 441.3 1239.3 416.5 1240.1 440.8 1240.9 439.5 1241.7 441.5 1242.5 460.7 1243.3 450.5 1244.1 464.3 1244.9 485.8 1245.7 464.4 1246.5 479.3 1247.3 499.6 1248.1 486.7 1248.9 491.4 1249.7 489.7 1250.5 466.8 1251.3 448.3 1252.1 437.1 1252.9 438.2 1253.7 460.5 1254.5 454.2 1255.3 468.4 1256.1 485.2 1256.9 498.8 1257.7 500.6 1258.5 516.7 1259.3 517.2 1260.1 483.2 1260.9 477.1 1261.7 458.1 1262.5 435.6 1263.3 437.7 1264.1 458.2 1264.9 466.6 1265.7 489.9 1266.5 514.2 1267.3 491.8 1268.1 486.8 1268.9 481.0 1269.7 448.5 1270.5 460.4 1271.3 456.8 1272.1 453.0 1272.9 474.3 1273.7 464.0 1274.5 472.6 1275.3 488.7 1276.1 489.2 1276.9 499.5 1277.7 496.6 1278.5 483.0 1279.3 463.2 1280.1 435.8 1280.9 430.0 1281.7 449.4 1282.5 467.5 1283.3 482.7 1284.1 486.5 1284.9 467.2 1285.7 448.5 1286.5 431.6 1287.3 404.3 1288.1 437.9 1288.9 437.9 1289.7 420.6 1290.5 464.4 1291.3 476.4 1292.1 441.9 1292.9 484.6 1293.7 488.0 1294.5 447.4 1295.3 439.6 1296.1 426.6 1296.9 409.5 1297.7 402.3 1298.5 407.6 1299.3 403.9 1300.1 394.6 1300.9 394.2 1301.7 408.5 1302.5 400.4 1303.3 425.5 1304.1 448.1 1304.9 444.3 1305.7 426.5 1306.5 437.4 1307.3 419.9 1308.1 413.2 1308.9 440.9 1309.7 433.0 1310.5 439.7 1311.3 456.9 1312.1 442.6 1312.9 426.0 1313.7 434.8 1314.5 393.2 1315.3 394.8 1316.1 404.1 1316.9 374.8 1317.7 371.5 1318.5 369.9 1319.3 368.2 1320.1 365.7 1320.9 363.2 1321.7 358.3 1322.5 376.4 1323.3 375.0 1324.1 399.6 1324.9 411.2 1325.7 405.4 1326.5 393.2 1327.3 388.0 1328.1 388.9 1328.9 376.7 1329.7 368.8 1330.5 373.3 1331.3 359.4 1332.1 353.6 1332.9 372.6 1333.7 375.9 1334.5 399.2 1335.3 412.3 1336.1 423.4 1336.9 402.6 1337.7 393.2 1338.5 380.6 1339.3 362.7 1340.1 350.9 1340.9 352.2 1341.7 364.2 1342.5 379.5 1343.3 392.3 1344.1 395.7 1344.9 419.9 1345.7 420.5 1346.5 406.2 1347.3 407.7 1348.1 393.1 1348.9 384.5 1349.7 378.5 1350.5 370.5 1351.3 374.8 1352.1 382.7 1352.9 392.7 1353.7 398.6 1354.5 409.3 1355.3 417.8 1356.1 426.1 1356.9 441.9 1357.7 412.3 1358.5 397.4 1359.3 399.5 1360.1 386.0 1360.9 398.2 1361.7 392.7 1362.5 402.8 1363.3 403.1 1364.1 411.4 1364.9 428.4 1365.7 426.2 1366.5 423.7 1367.3 443.6 1368.1 448.2 1368.9 455.5 1369.7 457.6 1370.5 448.7 1371.3 450.7 1372.1 447.1 1372.9 434.0 1373.7 438.0 1374.5 439.3 1375.3 424.1 1376.1 422.1 1376.9 421.8 1377.7 429.3 1378.5 431.8 1379.3 439.3 1380.1 450.1 1380.9 443.9 1381.7 439.5 1382.5 438.0 1383.3 435.1 1384.1 429.4 1384.9 423.0 1385.7 420.6 1386.5 411.4 1387.3 399.1 1388.1 377.0 1388.9 369.3 1389.7 383.6 1390.5 385.3 1391.3 388.0 1392.1 387.5 1392.9 393.2 1393.7 397.7 1394.5 410.9 1395.3 413.0 1396.1 399.2 1396.9 416.0 1397.7 428.3 1398.5 388.5 1399.3 392.5 1400.1 408.0 1400.9 401.8 1401.7 375.7 1402.5 378.3 1403.3 397.5 1404.1 383.7 1404.9 364.2 1405.7 366.6 1406.5 377.2 1407.3 367.9 1408.1 342.7 1408.9 362.9 1409.7 363.4 1410.5 318.7 1411.3 347.5 1412.1 329.2 1412.9 322.1 1413.7 333.9 1414.5 337.0 1415.3 332.1 1416.1 321.8 1416.9 346.1 1417.7 346.0 1418.5 339.4 1419.3 356.0 1420.1 357.4 1420.9 356.1 1421.7 367.5 1422.5 355.1 1423.3 363.0 1424.1 372.2 1424.9 371.3 1425.7 377.2 1426.5 379.7 1427.3 376.4 1428.1 386.5 1428.9 392.7 1429.7 388.1 1430.5 388.0 1431.3 386.5 1432.1 383.0 1432.9 375.6 1433.7 369.6 1434.5 367.4 1435.3 362.9 1436.1 356.8 1436.9 347.9 1437.7 342.4 1438.5 360.8 1439.3 363.1 1440.1 362.4 1440.9 385.9 1441.7 391.5 1442.5 387.3 1443.3 408.5 1444.1 414.0 1444.9 405.3 1445.7 409.4 1446.5 399.4 1447.3 385.2 1448.1 388.7 1448.9 391.3 1449.7 366.3 1450.5 361.9 1451.3 371.2 1452.1 369.2 1452.9 375.4 1453.7 384.8 1454.5 385.6 1455.3 396.5 1456.1 404.7 1456.9 422.7 1457.7 409.7 1458.5 410.9 1459.3 430.2 1460.1 426.5 1460.9 398.0 1461.7 395.8 1462.5 392.8 1463.3 369.9 1464.1 380.8 1464.9 374.9 1465.7 356.1 1466.5 353.5 1467.3 367.7 1468.1 377.1 1468.9 368.5 1469.7 377.0 1470.5 377.3 1471.3 382.4 1472.1 376.2 1472.9 375.9 1473.7 378.5 1474.5 359.3 1475.3 350.1 1476.1 379.6 1476.9 378.5 1477.7 392.4 1478.5 389.5 1479.3 372.6 1480.1 417.5 1480.9 397.8 1481.7 392.6 1482.5 413.0 1483.3 396.3 1484.1 412.8 1484.9 401.5 1485.7 378.9 1486.5 404.7 1487.3 379.0 1488.1 362.2 1488.9 358.0 1489.7 362.9 1490.5 369.6 1491.3 360.1 1492.1 392.5 1492.9 397.5 1493.7 400.8 1494.5 421.6 1495.3 426.7 1496.1 409.1 1496.9 392.6 1497.7 390.0 1498.5 410.6 1499.3 424.3 1500.1 426.0 1500.9 430.8 1501.7 420.5 1502.5 409.8 1503.3 399.7 1504.1 375.5 1504.9 384.7 1505.7 373.0 1506.5 386.8 1507.3 397.6 1508.1 384.3 1508.9 403.0 1509.7 387.0 1510.5 392.2 1511.3 391.4 1512.1 371.7 1512.9 371.6 1513.7 371.3 1514.5 363.3 1515.3 359.1 1516.1 356.6 1516.9 350.1 1517.7 345.5 1518.5 338.7 1519.3 354.4 1520.1 370.7 1520.9 364.7 1521.7 375.8 1522.5 394.8 1523.3 392.8 1524.1 407.8 1524.9 405.3 1525.7 396.2 1526.5 392.8 1527.3 383.3 1528.1 387.0 1528.9 385.8 1529.7 378.7 1530.5 371.7 1531.3 367.4 1532.1 369.4 1532.9 371.8 1533.7 369.1 1534.5 371.9 1535.3 384.3 1536.1 382.0 1536.9 400.6 1537.7 391.7 1538.5 397.2 1539.3 401.7 1540.1 410.8 1540.9 423.9 1541.7 417.6 1542.5 414.5 1543.3 407.5 1544.1 395.9 1544.9 395.6 1545.7 407.0 1546.5 372.6 1547.3 383.6 1548.1 391.5 1548.9 368.8 1549.7 376.0 1550.5 368.2 1551.3 373.6 1552.1 364.1 1552.9 365.9 1553.7 362.4 1554.5 356.5 1555.3 356.8 1556.1 348.5 1556.9 360.8 1557.7 367.0 1558.5 383.7 1559.3 383.2 1560.1 380.2 1560.9 397.1 1561.7 401.9 1562.5 411.2 1563.3 419.5 1564.1 405.2 1564.9 401.2 1565.7 401.4 1566.5 393.7 1567.3 381.1 1568.1 380.3 1568.9 378.8 1569.7 363.3 1570.5 358.8 1571.3 362.9 1572.1 346.1 1572.9 341.6 1573.7 342.7 1574.5 327.7 1575.3 345.5 1576.1 350.6 1576.9 359.5 1577.7 367.8 1578.5 380.8 1579.3 392.7 1580.1 386.2 1580.9 403.4 1581.7 417.5 1582.5 402.8 1583.3 394.7 1584.1 380.1 1584.9 378.2 1585.7 374.9 1586.5 388.2 1587.3 399.2 1588.1 412.3 1588.9 408.0 1589.7 396.9 1590.5 383.5 1591.3 375.0 1592.1 372.1 1592.9 375.2 1593.7 393.4 1594.5 397.1 1595.3 382.4 1596.1 384.5 1596.9 367.2 1597.7 357.7 1598.5 355.4 1599.3 347.7 1600.1 358.1 1600.9 373.5 1601.7 378.3 1602.5 383.6 1603.3 387.8 1604.1 401.9 1604.9 406.7 1605.7 406.8 1606.5 424.7 1607.3 423.6 1608.1 432.5 1608.9 447.7 1609.7 444.4 1610.5 438.7 1611.3 474.3 1612.1 458.8 1612.9 434.1 1613.7 431.4 1614.5 438.5 1615.3 430.7 1616.1 388.0 1616.9 412.8 1617.7 402.3 1618.5 400.3 1619.3 414.4 1620.1 420.0 1620.9 432.4 1621.7 416.5 1622.5 437.3 1623.3 469.2 1624.1 438.4 1624.9 448.2 1625.7 475.7 1626.5 470.5 1627.3 470.2 1628.1 461.7 1628.9 493.8 1629.7 487.9 1630.5 464.3 1631.3 488.6 1632.1 492.0 1632.9 483.7 1633.7 482.3 1634.5 481.9 1635.3 486.9 1636.1 468.6 1636.9 457.4 1637.7 459.7 1638.5 457.5 1639.3 446.1 1640.1 434.1 1640.9 433.7 1641.7 432.2 1642.5 435.7 1643.3 447.8 1644.1 435.9 1644.9 424.8 1645.7 418.3 1646.5 410.4 1647.3 403.0 1648.1 387.8 1648.9 382.2 1649.7 370.2 1650.5 365.0 1651.3 368.3 1652.1 366.4 1652.9 380.0 1653.7 381.5 1654.5 378.6 1655.3 389.0 1656.1 383.8 1656.9 392.4 1657.7 389.4 1658.5 377.5 1659.3 375.9 1660.1 370.1 1660.9 362.4 1661.7 356.6 1662.5 349.6 1663.3 342.5 1664.1 349.9 1664.9 360.7 1665.7 365.3 1666.5 366.2 1667.3 378.3 1668.1 375.7 1668.9 364.4 1669.7 355.0 1670.5 347.5 1671.3 353.6 1672.1 362.3 1672.9 367.0 1673.7 375.8 1674.5 366.4 1675.3 341.9 1676.1 360.2 1676.9 376.8 1677.7 374.4 1678.5 374.4 1679.3 357.8 1680.1 354.7 1680.9 367.0 1681.7 364.4 1682.5 378.3 1683.3 388.6 1684.1 364.2 1684.9 355.8 1685.7 344.9 1686.5 345.3 1687.3 349.9 1688.1 336.9 1688.9 379.1 1689.7 367.8 1690.5 377.4 1691.3 394.8 1692.1 377.2 1692.9 370.8 1693.7 363.3 1694.5 355.4 1695.3 366.5 1696.1 383.3 1696.9 384.3 1697.7 411.4 1698.5 406.7 1699.3 389.9 1700.1 394.1 1700.9 402.7 1701.7 401.8 1702.5 414.3 1703.3 434.9" fill="none" stroke="#3A7CC2" stroke-width="1.85" stroke-linejoin="round"/>
<text x="119" y="307.86" text-anchor="end">0.3</text>
<text x="119" y="422.36" text-anchor="end">0</text>
<text x="119" y="540.86" text-anchor="end">-0.3</text>
<text text-anchor="middle" style="font-size:26.7px;" transform="translate(69.5 412) rotate(-90)">Amplitude (mV)</text>
<text x="110.5" y="577.66" text-anchor="middle">500</text>
<text x="928.5" y="565.36" text-anchor="middle">0</text>
<text x="963.3" y="565.912" style="font-size:26.7px;">Time (ms)</text>
<text x="1712" y="578.36" text-anchor="middle">500</text>
<g shape-rendering="crispEdges">
<rect x="124.9" y="663.6" width="1579.2" height="234.4" fill="#504FF9"/>
<path fill="#4228C4" d="M192.1 804.2h17.1v9.7h-17.1zM242.5 804.2h17.1v9.7h-17.1zM578.5 804.2h17.1v9.7h-17.1zM343.3 794.9h17.1v9.7h-17.1zM410.5 785.5h17.1v9.7h-17.1zM595.3 785.5h17.1v9.7h-17.1zM427.3 776.1h17.1v9.7h-17.1zM477.7 776.1h17.1v9.7h-17.1zM662.5 776.1h17.1v9.7h-17.1zM1384.9 776.1h17.1v9.7h-17.1zM444.1 766.7h50.7v9.7h-50.7zM612.1 766.7h17.1v9.7h-17.1zM948.1 766.7h67.5v9.7h-67.5zM460.9 748.0h50.7v9.7h-50.7zM628.9 748.0h17.1v9.7h-17.1zM1233.7 748.0h17.1v9.7h-17.1zM1536.1 748.0h17.1v9.7h-17.1zM1569.7 748.0h17.1v9.7h-17.1zM645.7 738.6h17.1v9.7h-17.1zM1065.7 738.6h17.1v9.7h-17.1zM1233.7 738.6h17.1v9.7h-17.1zM1418.5 738.6h17.1v9.7h-17.1zM192.1 729.2h17.1v9.7h-17.1zM931.3 729.2h17.1v9.7h-17.1zM1502.5 729.2h17.1v9.7h-17.1zM124.9 719.9h17.1v9.7h-17.1zM259.3 719.9h17.1v9.7h-17.1zM528.1 719.9h17.1v9.7h-17.1zM1317.7 719.9h33.9v9.7h-33.9zM1485.7 719.9h50.7v9.7h-50.7zM1687.3 719.9h17.1v9.7h-17.1zM326.5 710.5h17.1v9.7h-17.1zM595.3 710.5h17.1v9.7h-17.1zM645.7 710.5h33.9v9.7h-33.9zM931.3 710.5h33.9v9.7h-33.9zM1032.1 710.5h17.1v9.7h-17.1zM595.3 701.1h17.1v9.7h-17.1zM998.5 701.1h33.9v9.7h-33.9zM1200.1 701.1h50.7v9.7h-50.7zM1670.5 701.1h17.1v9.7h-17.1zM124.9 691.7h33.9v9.7h-33.9zM343.3 691.7h17.1v9.7h-17.1zM427.3 691.7h17.1v9.7h-17.1zM544.9 691.7h17.1v9.7h-17.1zM662.5 691.7h17.1v9.7h-17.1zM931.3 691.7h33.9v9.7h-33.9zM998.5 691.7h17.1v9.7h-17.1zM1048.9 691.7h33.9v9.7h-33.9zM1687.3 691.7h17.1v9.7h-17.1zM225.7 682.4h17.1v9.7h-17.1zM259.3 682.4h17.1v9.7h-17.1zM309.7 682.4h17.1v9.7h-17.1zM360.1 682.4h33.9v9.7h-33.9zM444.1 682.4h17.1v9.7h-17.1zM578.5 682.4h17.1v9.7h-17.1zM1166.5 682.4h17.1v9.7h-17.1zM1603.3 682.4h17.1v9.7h-17.1zM175.3 673.0h17.1v9.7h-17.1zM1267.3 673.0h17.1v9.7h-17.1zM141.7 663.6h17.1v9.7h-17.1zM561.7 663.6h17.1v9.7h-17.1zM931.3 663.6h17.1v9.7h-17.1zM1267.3 663.6h17.1v9.7h-17.1z"/>
<path fill="#442AD4" d="M410.5 832.4h17.1v9.7h-17.1zM410.5 823.0h17.1v9.7h-17.1zM242.5 813.6h17.1v9.7h-17.1zM360.1 813.6h17.1v9.7h-17.1zM360.1 794.9h17.1v9.7h-17.1zM477.7 794.9h17.1v9.7h-17.1zM1015.3 794.9h33.9v9.7h-33.9zM393.7 785.5h17.1v9.7h-17.1zM410.5 776.1h17.1v9.7h-17.1zM612.1 776.1h17.1v9.7h-17.1zM175.3 766.7h17.1v9.7h-17.1zM1015.3 766.7h17.1v9.7h-17.1zM427.3 757.4h17.1v9.7h-17.1zM1200.1 757.4h17.1v9.7h-17.1zM544.9 748.0h17.1v9.7h-17.1zM595.3 748.0h17.1v9.7h-17.1zM1552.9 748.0h17.1v9.7h-17.1zM1586.5 748.0h17.1v9.7h-17.1zM175.3 729.2h17.1v9.7h-17.1zM208.9 729.2h17.1v9.7h-17.1zM427.3 729.2h17.1v9.7h-17.1zM578.5 729.2h33.9v9.7h-33.9zM1065.7 729.2h17.1v9.7h-17.1zM276.1 719.9h17.1v9.7h-17.1zM511.3 719.9h17.1v9.7h-17.1zM544.9 719.9h17.1v9.7h-17.1zM595.3 719.9h17.1v9.7h-17.1zM628.9 719.9h33.9v9.7h-33.9zM1065.7 719.9h17.1v9.7h-17.1zM964.9 710.5h17.1v9.7h-17.1zM1620.1 710.5h17.1v9.7h-17.1zM158.5 701.1h17.1v9.7h-17.1zM242.5 701.1h33.9v9.7h-33.9zM1048.9 701.1h17.1v9.7h-17.1zM242.5 691.7h17.1v9.7h-17.1zM326.5 691.7h17.1v9.7h-17.1zM494.5 691.7h17.1v9.7h-17.1zM1166.5 691.7h33.9v9.7h-33.9zM1233.7 691.7h17.1v9.7h-17.1zM242.5 682.4h17.1v9.7h-17.1zM1401.7 682.4h33.9v9.7h-33.9zM360.1 673.0h17.1v9.7h-17.1zM561.7 673.0h17.1v9.7h-17.1zM1166.5 673.0h17.1v9.7h-17.1zM1368.1 673.0h17.1v9.7h-17.1zM544.9 663.6h17.1v9.7h-17.1zM1032.1 663.6h17.1v9.7h-17.1zM1351.3 663.6h17.1v9.7h-17.1z"/>
<path fill="#462DE3" d="M175.3 813.6h33.9v9.7h-33.9zM259.3 813.6h17.1v9.7h-17.1zM158.5 804.2h17.1v9.7h-17.1zM444.1 804.2h17.1v9.7h-17.1zM208.9 794.9h17.1v9.7h-17.1zM511.3 794.9h17.1v9.7h-17.1zM1166.5 794.9h17.1v9.7h-17.1zM158.5 785.5h17.1v9.7h-17.1zM242.5 785.5h17.1v9.7h-17.1zM578.5 785.5h17.1v9.7h-17.1zM376.9 776.1h17.1v9.7h-17.1zM628.9 776.1h33.9v9.7h-33.9zM998.5 776.1h50.7v9.7h-50.7zM158.5 766.7h17.1v9.7h-17.1zM343.3 766.7h17.1v9.7h-17.1zM494.5 766.7h17.1v9.7h-17.1zM628.9 766.7h17.1v9.7h-17.1zM1032.1 766.7h17.1v9.7h-17.1zM1368.1 766.7h17.1v9.7h-17.1zM376.9 757.4h17.1v9.7h-17.1zM410.5 757.4h17.1v9.7h-17.1zM595.3 757.4h17.1v9.7h-17.1zM1351.3 757.4h33.9v9.7h-33.9zM1586.5 757.4h17.1v9.7h-17.1zM1620.1 757.4h17.1v9.7h-17.1zM326.5 748.0h33.9v9.7h-33.9zM444.1 748.0h17.1v9.7h-17.1zM561.7 748.0h17.1v9.7h-17.1zM645.7 748.0h17.1v9.7h-17.1zM964.9 748.0h17.1v9.7h-17.1zM1065.7 748.0h17.1v9.7h-17.1zM1149.7 748.0h17.1v9.7h-17.1zM1267.3 748.0h17.1v9.7h-17.1zM276.1 738.6h17.1v9.7h-17.1zM326.5 738.6h17.1v9.7h-17.1zM477.7 738.6h17.1v9.7h-17.1zM511.3 738.6h33.9v9.7h-33.9zM628.9 738.6h17.1v9.7h-17.1zM981.7 738.6h17.1v9.7h-17.1zM1351.3 738.6h17.1v9.7h-17.1zM1401.7 738.6h17.1v9.7h-17.1zM1569.7 738.6h17.1v9.7h-17.1zM1687.3 738.6h17.1v9.7h-17.1zM343.3 729.2h17.1v9.7h-17.1zM1250.5 729.2h17.1v9.7h-17.1zM1284.1 729.2h17.1v9.7h-17.1zM1351.3 729.2h17.1v9.7h-17.1zM1401.7 729.2h17.1v9.7h-17.1zM1435.3 729.2h33.9v9.7h-33.9zM1519.3 729.2h17.1v9.7h-17.1zM1653.7 729.2h17.1v9.7h-17.1zM1687.3 729.2h17.1v9.7h-17.1zM225.7 719.9h17.1v9.7h-17.1zM460.9 719.9h17.1v9.7h-17.1zM578.5 719.9h17.1v9.7h-17.1zM662.5 719.9h17.1v9.7h-17.1zM1048.9 719.9h17.1v9.7h-17.1zM1284.1 719.9h33.9v9.7h-33.9zM1384.9 719.9h17.1v9.7h-17.1zM1569.7 719.9h17.1v9.7h-17.1zM225.7 710.5h17.1v9.7h-17.1zM276.1 710.5h17.1v9.7h-17.1zM393.7 710.5h17.1v9.7h-17.1zM628.9 710.5h17.1v9.7h-17.1zM1149.7 710.5h17.1v9.7h-17.1zM1200.1 710.5h33.9v9.7h-33.9zM1401.7 710.5h50.7v9.7h-50.7zM1519.3 710.5h17.1v9.7h-17.1zM1569.7 710.5h17.1v9.7h-17.1zM1670.5 710.5h17.1v9.7h-17.1zM343.3 701.1h33.9v9.7h-33.9zM1065.7 701.1h17.1v9.7h-17.1zM1183.3 701.1h17.1v9.7h-17.1zM1300.9 701.1h50.7v9.7h-50.7zM1401.7 701.1h17.1v9.7h-17.1zM208.9 691.7h33.9v9.7h-33.9zM259.3 691.7h17.1v9.7h-17.1zM410.5 691.7h17.1v9.7h-17.1zM444.1 691.7h17.1v9.7h-17.1zM561.7 691.7h17.1v9.7h-17.1zM645.7 691.7h17.1v9.7h-17.1zM1200.1 691.7h17.1v9.7h-17.1zM1300.9 691.7h17.1v9.7h-17.1zM1401.7 691.7h17.1v9.7h-17.1zM326.5 682.4h17.1v9.7h-17.1zM561.7 682.4h17.1v9.7h-17.1zM276.1 673.0h17.1v9.7h-17.1zM1300.9 673.0h17.1v9.7h-17.1zM1351.3 673.0h17.1v9.7h-17.1zM1468.9 673.0h17.1v9.7h-17.1zM360.1 663.6h17.1v9.7h-17.1zM595.3 663.6h17.1v9.7h-17.1zM1468.9 663.6h17.1v9.7h-17.1zM1670.5 663.6h17.1v9.7h-17.1z"/>
<path fill="#4830F3" d="M427.3 832.4h17.1v9.7h-17.1zM612.1 832.4h17.1v9.7h-17.1zM544.9 823.0h17.1v9.7h-17.1zM662.5 823.0h17.1v9.7h-17.1zM292.9 813.6h33.9v9.7h-33.9zM544.9 813.6h17.1v9.7h-17.1zM964.9 813.6h33.9v9.7h-33.9zM141.7 804.2h17.1v9.7h-17.1zM175.3 804.2h17.1v9.7h-17.1zM460.9 804.2h17.1v9.7h-17.1zM931.3 804.2h17.1v9.7h-17.1zM192.1 794.9h17.1v9.7h-17.1zM376.9 794.9h17.1v9.7h-17.1zM931.3 794.9h33.9v9.7h-33.9zM175.3 785.5h17.1v9.7h-17.1zM309.7 785.5h33.9v9.7h-33.9zM427.3 785.5h17.1v9.7h-17.1zM948.1 785.5h17.1v9.7h-17.1zM1048.9 785.5h17.1v9.7h-17.1zM1116.1 785.5h17.1v9.7h-17.1zM1183.3 785.5h17.1v9.7h-17.1zM326.5 776.1h17.1v9.7h-17.1zM561.7 776.1h17.1v9.7h-17.1zM595.3 776.1h17.1v9.7h-17.1zM376.9 766.7h17.1v9.7h-17.1zM427.3 766.7h17.1v9.7h-17.1zM578.5 766.7h17.1v9.7h-17.1zM931.3 766.7h17.1v9.7h-17.1zM1216.9 766.7h17.1v9.7h-17.1zM1636.9 766.7h17.1v9.7h-17.1zM343.3 757.4h17.1v9.7h-17.1zM393.7 757.4h17.1v9.7h-17.1zM444.1 757.4h17.1v9.7h-17.1zM494.5 757.4h17.1v9.7h-17.1zM612.1 757.4h33.9v9.7h-33.9zM964.9 757.4h33.9v9.7h-33.9zM1015.3 757.4h17.1v9.7h-17.1zM1166.5 757.4h17.1v9.7h-17.1zM1267.3 757.4h17.1v9.7h-17.1zM1636.9 757.4h17.1v9.7h-17.1zM376.9 748.0h17.1v9.7h-17.1zM578.5 748.0h17.1v9.7h-17.1zM612.1 748.0h17.1v9.7h-17.1zM662.5 748.0h17.1v9.7h-17.1zM813.7 748.0h17.1v9.7h-17.1zM1317.7 748.0h17.1v9.7h-17.1zM1368.1 748.0h17.1v9.7h-17.1zM1485.7 748.0h17.1v9.7h-17.1zM1620.1 748.0h17.1v9.7h-17.1zM225.7 738.6h17.1v9.7h-17.1zM343.3 738.6h17.1v9.7h-17.1zM595.3 738.6h17.1v9.7h-17.1zM662.5 738.6h17.1v9.7h-17.1zM931.3 738.6h17.1v9.7h-17.1zM1082.5 738.6h17.1v9.7h-17.1zM1536.1 738.6h33.9v9.7h-33.9zM259.3 729.2h17.1v9.7h-17.1zM376.9 729.2h17.1v9.7h-17.1zM460.9 729.2h17.1v9.7h-17.1zM628.9 729.2h33.9v9.7h-33.9zM1048.9 729.2h17.1v9.7h-17.1zM1099.3 729.2h17.1v9.7h-17.1zM1132.9 729.2h17.1v9.7h-17.1zM1267.3 729.2h17.1v9.7h-17.1zM1368.1 729.2h33.9v9.7h-33.9zM1418.5 729.2h17.1v9.7h-17.1zM1485.7 729.2h17.1v9.7h-17.1zM1536.1 729.2h17.1v9.7h-17.1zM1603.3 729.2h17.1v9.7h-17.1zM326.5 719.9h17.1v9.7h-17.1zM393.7 719.9h17.1v9.7h-17.1zM931.3 719.9h17.1v9.7h-17.1zM1015.3 719.9h17.1v9.7h-17.1zM1216.9 719.9h17.1v9.7h-17.1zM1636.9 719.9h17.1v9.7h-17.1zM242.5 710.5h17.1v9.7h-17.1zM1048.9 710.5h33.9v9.7h-33.9zM1116.1 710.5h33.9v9.7h-33.9zM1233.7 710.5h17.1v9.7h-17.1zM1300.9 710.5h17.1v9.7h-17.1zM1536.1 710.5h17.1v9.7h-17.1zM175.3 701.1h17.1v9.7h-17.1zM225.7 701.1h17.1v9.7h-17.1zM276.1 701.1h33.9v9.7h-33.9zM645.7 701.1h17.1v9.7h-17.1zM1149.7 701.1h17.1v9.7h-17.1zM1351.3 701.1h17.1v9.7h-17.1zM1502.5 701.1h17.1v9.7h-17.1zM192.1 691.7h17.1v9.7h-17.1zM578.5 691.7h33.9v9.7h-33.9zM981.7 691.7h17.1v9.7h-17.1zM1116.1 691.7h17.1v9.7h-17.1zM1149.7 691.7h17.1v9.7h-17.1zM1216.9 691.7h17.1v9.7h-17.1zM1670.5 691.7h17.1v9.7h-17.1zM141.7 682.4h17.1v9.7h-17.1zM393.7 682.4h33.9v9.7h-33.9zM477.7 682.4h17.1v9.7h-17.1zM998.5 682.4h17.1v9.7h-17.1zM1099.3 682.4h33.9v9.7h-33.9zM1149.7 682.4h17.1v9.7h-17.1zM1250.5 682.4h33.9v9.7h-33.9zM1620.1 682.4h17.1v9.7h-17.1zM192.1 673.0h17.1v9.7h-17.1zM544.9 673.0h17.1v9.7h-17.1zM628.9 673.0h33.9v9.7h-33.9zM981.7 673.0h17.1v9.7h-17.1zM242.5 663.6h17.1v9.7h-17.1zM1216.9 663.6h17.1v9.7h-17.1zM1284.1 663.6h17.1v9.7h-17.1zM1418.5 663.6h17.1v9.7h-17.1z"/>
<path fill="#4A39F7" d="M1015.3 823.0h17.1v9.7h-17.1zM343.3 813.6h17.1v9.7h-17.1zM444.1 813.6h17.1v9.7h-17.1zM998.5 813.6h17.1v9.7h-17.1zM208.9 804.2h17.1v9.7h-17.1zM528.1 804.2h17.1v9.7h-17.1zM1132.9 804.2h17.1v9.7h-17.1zM141.7 794.9h17.1v9.7h-17.1zM225.7 794.9h33.9v9.7h-33.9zM410.5 794.9h50.7v9.7h-50.7zM494.5 794.9h17.1v9.7h-17.1zM561.7 794.9h17.1v9.7h-17.1zM1149.7 794.9h17.1v9.7h-17.1zM141.7 785.5h17.1v9.7h-17.1zM208.9 785.5h17.1v9.7h-17.1zM460.9 785.5h33.9v9.7h-33.9zM561.7 785.5h17.1v9.7h-17.1zM1015.3 785.5h17.1v9.7h-17.1zM1166.5 785.5h17.1v9.7h-17.1zM276.1 776.1h17.1v9.7h-17.1zM309.7 776.1h17.1v9.7h-17.1zM393.7 776.1h17.1v9.7h-17.1zM460.9 776.1h17.1v9.7h-17.1zM544.9 776.1h17.1v9.7h-17.1zM981.7 776.1h17.1v9.7h-17.1zM511.3 766.7h17.1v9.7h-17.1zM544.9 766.7h33.9v9.7h-33.9zM1200.1 766.7h17.1v9.7h-17.1zM158.5 757.4h17.1v9.7h-17.1zM242.5 757.4h17.1v9.7h-17.1zM276.1 757.4h17.1v9.7h-17.1zM460.9 757.4h17.1v9.7h-17.1zM813.7 757.4h17.1v9.7h-17.1zM1183.3 757.4h17.1v9.7h-17.1zM1452.1 757.4h50.7v9.7h-50.7zM1250.5 748.0h17.1v9.7h-17.1zM1334.5 748.0h33.9v9.7h-33.9zM1384.9 748.0h17.1v9.7h-17.1zM1653.7 748.0h17.1v9.7h-17.1zM208.9 738.6h17.1v9.7h-17.1zM242.5 738.6h33.9v9.7h-33.9zM376.9 738.6h17.1v9.7h-17.1zM427.3 738.6h17.1v9.7h-17.1zM460.9 738.6h17.1v9.7h-17.1zM494.5 738.6h17.1v9.7h-17.1zM544.9 738.6h17.1v9.7h-17.1zM578.5 738.6h17.1v9.7h-17.1zM612.1 738.6h17.1v9.7h-17.1zM964.9 738.6h17.1v9.7h-17.1zM998.5 738.6h33.9v9.7h-33.9zM1048.9 738.6h17.1v9.7h-17.1zM1250.5 738.6h17.1v9.7h-17.1zM1317.7 738.6h17.1v9.7h-17.1zM1435.3 738.6h17.1v9.7h-17.1zM1468.9 738.6h17.1v9.7h-17.1zM360.1 729.2h17.1v9.7h-17.1zM410.5 729.2h17.1v9.7h-17.1zM1015.3 729.2h17.1v9.7h-17.1zM1082.5 729.2h17.1v9.7h-17.1zM1569.7 729.2h33.9v9.7h-33.9zM1636.9 729.2h17.1v9.7h-17.1zM208.9 719.9h17.1v9.7h-17.1zM561.7 719.9h17.1v9.7h-17.1zM1082.5 719.9h17.1v9.7h-17.1zM1116.1 719.9h17.1v9.7h-17.1zM1250.5 719.9h17.1v9.7h-17.1zM1435.3 719.9h17.1v9.7h-17.1zM1536.1 719.9h17.1v9.7h-17.1zM1586.5 719.9h17.1v9.7h-17.1zM208.9 710.5h17.1v9.7h-17.1zM259.3 710.5h17.1v9.7h-17.1zM343.3 710.5h17.1v9.7h-17.1zM578.5 710.5h17.1v9.7h-17.1zM1183.3 710.5h17.1v9.7h-17.1zM1284.1 710.5h17.1v9.7h-17.1zM1452.1 710.5h17.1v9.7h-17.1zM1502.5 710.5h17.1v9.7h-17.1zM1552.9 710.5h17.1v9.7h-17.1zM1636.9 710.5h17.1v9.7h-17.1zM309.7 701.1h17.1v9.7h-17.1zM494.5 701.1h17.1v9.7h-17.1zM544.9 701.1h17.1v9.7h-17.1zM578.5 701.1h17.1v9.7h-17.1zM612.1 701.1h17.1v9.7h-17.1zM981.7 701.1h17.1v9.7h-17.1zM1032.1 701.1h17.1v9.7h-17.1zM1620.1 701.1h17.1v9.7h-17.1zM1653.7 701.1h17.1v9.7h-17.1zM360.1 691.7h17.1v9.7h-17.1zM964.9 691.7h17.1v9.7h-17.1zM1132.9 691.7h17.1v9.7h-17.1zM1250.5 691.7h17.1v9.7h-17.1zM1536.1 691.7h33.9v9.7h-33.9zM1653.7 691.7h17.1v9.7h-17.1zM427.3 682.4h17.1v9.7h-17.1zM494.5 682.4h33.9v9.7h-33.9zM544.9 682.4h17.1v9.7h-17.1zM628.9 682.4h17.1v9.7h-17.1zM813.7 682.4h17.1v9.7h-17.1zM1082.5 682.4h17.1v9.7h-17.1zM1233.7 682.4h17.1v9.7h-17.1zM1435.3 682.4h17.1v9.7h-17.1zM141.7 673.0h17.1v9.7h-17.1zM259.3 673.0h17.1v9.7h-17.1zM309.7 673.0h17.1v9.7h-17.1zM998.5 673.0h17.1v9.7h-17.1zM1250.5 673.0h17.1v9.7h-17.1zM124.9 663.6h17.1v9.7h-17.1zM343.3 663.6h17.1v9.7h-17.1zM427.3 663.6h17.1v9.7h-17.1zM662.5 663.6h17.1v9.7h-17.1zM1250.5 663.6h17.1v9.7h-17.1zM1435.3 663.6h17.1v9.7h-17.1zM1569.7 663.6h17.1v9.7h-17.1zM1653.7 663.6h17.1v9.7h-17.1z"/>
<path fill="#4D44F8" d="M393.7 832.4h17.1v9.7h-17.1zM544.9 832.4h17.1v9.7h-17.1zM931.3 832.4h17.1v9.7h-17.1zM427.3 823.0h17.1v9.7h-17.1zM528.1 823.0h17.1v9.7h-17.1zM561.7 823.0h17.1v9.7h-17.1zM595.3 823.0h17.1v9.7h-17.1zM124.9 813.6h17.1v9.7h-17.1zM208.9 813.6h17.1v9.7h-17.1zM326.5 813.6h17.1v9.7h-17.1zM427.3 813.6h17.1v9.7h-17.1zM460.9 813.6h33.9v9.7h-33.9zM528.1 813.6h17.1v9.7h-17.1zM662.5 813.6h17.1v9.7h-17.1zM124.9 804.2h17.1v9.7h-17.1zM225.7 804.2h17.1v9.7h-17.1zM360.1 804.2h17.1v9.7h-17.1zM410.5 804.2h33.9v9.7h-33.9zM477.7 804.2h17.1v9.7h-17.1zM544.9 804.2h17.1v9.7h-17.1zM595.3 804.2h33.9v9.7h-33.9zM158.5 794.9h33.9v9.7h-33.9zM292.9 794.9h17.1v9.7h-17.1zM393.7 794.9h17.1v9.7h-17.1zM1048.9 794.9h17.1v9.7h-17.1zM1183.3 794.9h17.1v9.7h-17.1zM225.7 785.5h17.1v9.7h-17.1zM511.3 785.5h17.1v9.7h-17.1zM612.1 785.5h17.1v9.7h-17.1zM998.5 785.5h17.1v9.7h-17.1zM141.7 776.1h17.1v9.7h-17.1zM175.3 776.1h17.1v9.7h-17.1zM444.1 776.1h17.1v9.7h-17.1zM494.5 776.1h17.1v9.7h-17.1zM528.1 776.1h17.1v9.7h-17.1zM578.5 776.1h17.1v9.7h-17.1zM931.3 776.1h33.9v9.7h-33.9zM1116.1 776.1h17.1v9.7h-17.1zM1334.5 776.1h17.1v9.7h-17.1zM1401.7 776.1h17.1v9.7h-17.1zM124.9 766.7h17.1v9.7h-17.1zM242.5 766.7h50.7v9.7h-50.7zM360.1 766.7h17.1v9.7h-17.1zM528.1 766.7h17.1v9.7h-17.1zM595.3 766.7h17.1v9.7h-17.1zM1351.3 766.7h17.1v9.7h-17.1zM1519.3 766.7h17.1v9.7h-17.1zM1603.3 766.7h33.9v9.7h-33.9zM259.3 757.4h17.1v9.7h-17.1zM544.9 757.4h17.1v9.7h-17.1zM645.7 757.4h33.9v9.7h-33.9zM1032.1 757.4h17.1v9.7h-17.1zM1065.7 757.4h17.1v9.7h-17.1zM1250.5 757.4h17.1v9.7h-17.1zM1435.3 757.4h17.1v9.7h-17.1zM1603.3 757.4h17.1v9.7h-17.1zM124.9 748.0h17.1v9.7h-17.1zM225.7 748.0h17.1v9.7h-17.1zM276.1 748.0h17.1v9.7h-17.1zM360.1 748.0h17.1v9.7h-17.1zM393.7 748.0h17.1v9.7h-17.1zM511.3 748.0h17.1v9.7h-17.1zM1048.9 748.0h17.1v9.7h-17.1zM1132.9 748.0h17.1v9.7h-17.1zM1200.1 748.0h17.1v9.7h-17.1zM1519.3 748.0h17.1v9.7h-17.1zM1636.9 748.0h17.1v9.7h-17.1zM1099.3 738.6h17.1v9.7h-17.1zM1183.3 738.6h17.1v9.7h-17.1zM1216.9 738.6h17.1v9.7h-17.1zM1267.3 738.6h17.1v9.7h-17.1zM1334.5 738.6h17.1v9.7h-17.1zM1384.9 738.6h17.1v9.7h-17.1zM1620.1 738.6h17.1v9.7h-17.1zM1653.7 738.6h17.1v9.7h-17.1zM158.5 729.2h17.1v9.7h-17.1zM326.5 729.2h17.1v9.7h-17.1zM393.7 729.2h17.1v9.7h-17.1zM477.7 729.2h17.1v9.7h-17.1zM511.3 729.2h17.1v9.7h-17.1zM612.1 729.2h17.1v9.7h-17.1zM948.1 729.2h17.1v9.7h-17.1zM1116.1 729.2h17.1v9.7h-17.1zM1334.5 729.2h17.1v9.7h-17.1zM141.7 719.9h17.1v9.7h-17.1zM242.5 719.9h17.1v9.7h-17.1zM410.5 719.9h17.1v9.7h-17.1zM477.7 719.9h17.1v9.7h-17.1zM612.1 719.9h17.1v9.7h-17.1zM813.7 719.9h17.1v9.7h-17.1zM964.9 719.9h17.1v9.7h-17.1zM998.5 719.9h17.1v9.7h-17.1zM1099.3 719.9h17.1v9.7h-17.1zM1149.7 719.9h33.9v9.7h-33.9zM1351.3 719.9h33.9v9.7h-33.9zM1401.7 719.9h17.1v9.7h-17.1zM1452.1 719.9h17.1v9.7h-17.1zM1552.9 719.9h17.1v9.7h-17.1zM1603.3 719.9h33.9v9.7h-33.9zM175.3 710.5h17.1v9.7h-17.1zM292.9 710.5h33.9v9.7h-33.9zM376.9 710.5h17.1v9.7h-17.1zM612.1 710.5h17.1v9.7h-17.1zM981.7 710.5h17.1v9.7h-17.1zM1082.5 710.5h17.1v9.7h-17.1zM1166.5 710.5h17.1v9.7h-17.1zM1250.5 710.5h17.1v9.7h-17.1zM1351.3 710.5h17.1v9.7h-17.1zM1384.9 710.5h17.1v9.7h-17.1zM1586.5 710.5h17.1v9.7h-17.1zM124.9 701.1h17.1v9.7h-17.1zM192.1 701.1h17.1v9.7h-17.1zM948.1 701.1h17.1v9.7h-17.1zM1116.1 701.1h33.9v9.7h-33.9zM1384.9 701.1h17.1v9.7h-17.1zM1435.3 701.1h17.1v9.7h-17.1zM1569.7 701.1h33.9v9.7h-33.9zM1687.3 701.1h17.1v9.7h-17.1zM158.5 691.7h17.1v9.7h-17.1zM276.1 691.7h17.1v9.7h-17.1zM309.7 691.7h17.1v9.7h-17.1zM376.9 691.7h17.1v9.7h-17.1zM477.7 691.7h17.1v9.7h-17.1zM528.1 691.7h17.1v9.7h-17.1zM1015.3 691.7h17.1v9.7h-17.1zM1267.3 691.7h17.1v9.7h-17.1zM1334.5 691.7h17.1v9.7h-17.1zM1384.9 691.7h17.1v9.7h-17.1zM1569.7 691.7h17.1v9.7h-17.1zM1636.9 691.7h17.1v9.7h-17.1zM208.9 682.4h17.1v9.7h-17.1zM343.3 682.4h17.1v9.7h-17.1zM595.3 682.4h17.1v9.7h-17.1zM645.7 682.4h17.1v9.7h-17.1zM981.7 682.4h17.1v9.7h-17.1zM1015.3 682.4h17.1v9.7h-17.1zM1065.7 682.4h17.1v9.7h-17.1zM1468.9 682.4h17.1v9.7h-17.1zM1536.1 682.4h17.1v9.7h-17.1zM1670.5 682.4h33.9v9.7h-33.9zM158.5 673.0h17.1v9.7h-17.1zM208.9 673.0h17.1v9.7h-17.1zM326.5 673.0h33.9v9.7h-33.9zM376.9 673.0h17.1v9.7h-17.1zM427.3 673.0h33.9v9.7h-33.9zM578.5 673.0h17.1v9.7h-17.1zM813.7 673.0h17.1v9.7h-17.1zM931.3 673.0h17.1v9.7h-17.1zM1082.5 673.0h17.1v9.7h-17.1zM1149.7 673.0h17.1v9.7h-17.1zM1183.3 673.0h17.1v9.7h-17.1zM1216.9 673.0h17.1v9.7h-17.1zM1284.1 673.0h17.1v9.7h-17.1zM1317.7 673.0h17.1v9.7h-17.1zM1435.3 673.0h33.9v9.7h-33.9zM1552.9 673.0h33.9v9.7h-33.9zM192.1 663.6h17.1v9.7h-17.1zM410.5 663.6h17.1v9.7h-17.1zM511.3 663.6h17.1v9.7h-17.1zM578.5 663.6h17.1v9.7h-17.1zM612.1 663.6h17.1v9.7h-17.1zM1065.7 663.6h33.9v9.7h-33.9zM1149.7 663.6h17.1v9.7h-17.1zM1233.7 663.6h17.1v9.7h-17.1zM1300.9 663.6h17.1v9.7h-17.1zM1401.7 663.6h17.1v9.7h-17.1zM1552.9 663.6h17.1v9.7h-17.1z"/>
<path fill="#504FF9" d="M511.3 841.7h17.1v9.7h-17.1zM477.7 832.4h17.1v9.7h-17.1zM208.9 823.0h17.1v9.7h-17.1zM393.7 823.0h17.1v9.7h-17.1zM712.9 823.0h17.1v9.7h-17.1zM931.3 823.0h17.1v9.7h-17.1zM998.5 823.0h17.1v9.7h-17.1zM158.5 813.6h17.1v9.7h-17.1zM276.1 813.6h17.1v9.7h-17.1zM410.5 813.6h17.1v9.7h-17.1zM494.5 813.6h17.1v9.7h-17.1zM578.5 813.6h33.9v9.7h-33.9zM1099.3 813.6h17.1v9.7h-17.1zM343.3 804.2h17.1v9.7h-17.1zM393.7 804.2h17.1v9.7h-17.1zM948.1 804.2h17.1v9.7h-17.1zM124.9 794.9h17.1v9.7h-17.1zM326.5 794.9h17.1v9.7h-17.1zM544.9 794.9h17.1v9.7h-17.1zM578.5 794.9h17.1v9.7h-17.1zM1116.1 794.9h33.9v9.7h-33.9zM1418.5 794.9h17.1v9.7h-17.1zM1519.3 794.9h17.1v9.7h-17.1zM192.1 785.5h17.1v9.7h-17.1zM645.7 785.5h33.9v9.7h-33.9zM981.7 785.5h17.1v9.7h-17.1zM1233.7 785.5h17.1v9.7h-17.1zM158.5 776.1h17.1v9.7h-17.1zM192.1 776.1h17.1v9.7h-17.1zM360.1 776.1h17.1v9.7h-17.1zM1233.7 776.1h17.1v9.7h-17.1zM1670.5 776.1h17.1v9.7h-17.1zM141.7 766.7h17.1v9.7h-17.1zM326.5 766.7h17.1v9.7h-17.1zM1099.3 766.7h17.1v9.7h-17.1zM1384.9 766.7h17.1v9.7h-17.1zM1569.7 766.7h33.9v9.7h-33.9zM192.1 757.4h17.1v9.7h-17.1zM360.1 757.4h17.1v9.7h-17.1zM477.7 757.4h17.1v9.7h-17.1zM511.3 757.4h33.9v9.7h-33.9zM578.5 757.4h17.1v9.7h-17.1zM696.1 757.4h17.1v9.7h-17.1zM931.3 757.4h17.1v9.7h-17.1zM998.5 757.4h17.1v9.7h-17.1zM1216.9 757.4h17.1v9.7h-17.1zM1502.5 757.4h17.1v9.7h-17.1zM1536.1 757.4h17.1v9.7h-17.1zM141.7 748.0h17.1v9.7h-17.1zM242.5 748.0h17.1v9.7h-17.1zM309.7 748.0h17.1v9.7h-17.1zM410.5 748.0h33.9v9.7h-33.9zM948.1 748.0h17.1v9.7h-17.1zM981.7 748.0h17.1v9.7h-17.1zM1082.5 748.0h17.1v9.7h-17.1zM1183.3 748.0h17.1v9.7h-17.1zM1300.9 748.0h17.1v9.7h-17.1zM1435.3 748.0h50.7v9.7h-50.7zM124.9 738.6h17.1v9.7h-17.1zM158.5 738.6h17.1v9.7h-17.1zM192.1 738.6h17.1v9.7h-17.1zM309.7 738.6h17.1v9.7h-17.1zM360.1 738.6h17.1v9.7h-17.1zM410.5 738.6h17.1v9.7h-17.1zM780.1 738.6h17.1v9.7h-17.1zM1032.1 738.6h17.1v9.7h-17.1zM1368.1 738.6h17.1v9.7h-17.1zM1670.5 738.6h17.1v9.7h-17.1zM124.9 729.2h17.1v9.7h-17.1zM225.7 729.2h17.1v9.7h-17.1zM444.1 729.2h17.1v9.7h-17.1zM964.9 729.2h17.1v9.7h-17.1zM1233.7 729.2h17.1v9.7h-17.1zM1300.9 729.2h33.9v9.7h-33.9zM1620.1 729.2h17.1v9.7h-17.1zM981.7 719.9h17.1v9.7h-17.1zM1032.1 719.9h17.1v9.7h-17.1zM1132.9 719.9h17.1v9.7h-17.1zM1200.1 719.9h17.1v9.7h-17.1zM1267.3 719.9h17.1v9.7h-17.1zM1418.5 719.9h17.1v9.7h-17.1zM1670.5 719.9h17.1v9.7h-17.1zM124.9 710.5h50.7v9.7h-50.7zM360.1 710.5h17.1v9.7h-17.1zM427.3 710.5h67.5v9.7h-67.5zM544.9 710.5h33.9v9.7h-33.9zM1015.3 710.5h17.1v9.7h-17.1zM1099.3 710.5h17.1v9.7h-17.1zM1317.7 710.5h33.9v9.7h-33.9zM1368.1 710.5h17.1v9.7h-17.1zM1485.7 710.5h17.1v9.7h-17.1zM208.9 701.1h17.1v9.7h-17.1zM561.7 701.1h17.1v9.7h-17.1zM662.5 701.1h17.1v9.7h-17.1zM964.9 701.1h17.1v9.7h-17.1zM1250.5 701.1h50.7v9.7h-50.7zM1368.1 701.1h17.1v9.7h-17.1zM1536.1 701.1h33.9v9.7h-33.9zM1603.3 701.1h17.1v9.7h-17.1zM292.9 691.7h17.1v9.7h-17.1zM393.7 691.7h17.1v9.7h-17.1zM511.3 691.7h17.1v9.7h-17.1zM1082.5 691.7h17.1v9.7h-17.1zM1317.7 691.7h17.1v9.7h-17.1zM1468.9 691.7h33.9v9.7h-33.9zM1586.5 691.7h50.7v9.7h-50.7zM276.1 682.4h17.1v9.7h-17.1zM460.9 682.4h17.1v9.7h-17.1zM528.1 682.4h17.1v9.7h-17.1zM964.9 682.4h17.1v9.7h-17.1zM1132.9 682.4h17.1v9.7h-17.1zM1368.1 682.4h33.9v9.7h-33.9zM1452.1 682.4h17.1v9.7h-17.1zM1552.9 682.4h50.7v9.7h-50.7zM1636.9 682.4h17.1v9.7h-17.1zM225.7 673.0h17.1v9.7h-17.1zM292.9 673.0h17.1v9.7h-17.1zM410.5 673.0h17.1v9.7h-17.1zM460.9 673.0h17.1v9.7h-17.1zM511.3 673.0h33.9v9.7h-33.9zM595.3 673.0h17.1v9.7h-17.1zM1334.5 673.0h17.1v9.7h-17.1zM1384.9 673.0h17.1v9.7h-17.1zM1670.5 673.0h17.1v9.7h-17.1zM208.9 663.6h17.1v9.7h-17.1zM259.3 663.6h17.1v9.7h-17.1zM813.7 663.6h17.1v9.7h-17.1zM948.1 663.6h17.1v9.7h-17.1zM998.5 663.6h17.1v9.7h-17.1zM1048.9 663.6h17.1v9.7h-17.1zM1132.9 663.6h17.1v9.7h-17.1zM1183.3 663.6h17.1v9.7h-17.1zM1334.5 663.6h17.1v9.7h-17.1zM1368.1 663.6h33.9v9.7h-33.9zM1452.1 663.6h17.1v9.7h-17.1zM1519.3 663.6h17.1v9.7h-17.1zM1687.3 663.6h17.1v9.7h-17.1z"/>
<path fill="#5359F9" d="M612.1 841.7h17.1v9.7h-17.1zM494.5 832.4h17.1v9.7h-17.1zM595.3 832.4h17.1v9.7h-17.1zM998.5 832.4h17.1v9.7h-17.1zM175.3 823.0h17.1v9.7h-17.1zM444.1 823.0h17.1v9.7h-17.1zM225.7 813.6h17.1v9.7h-17.1zM376.9 813.6h33.9v9.7h-33.9zM511.3 813.6h17.1v9.7h-17.1zM309.7 804.2h17.1v9.7h-17.1zM1032.1 804.2h33.9v9.7h-33.9zM1149.7 804.2h17.1v9.7h-17.1zM460.9 794.9h17.1v9.7h-17.1zM528.1 794.9h17.1v9.7h-17.1zM612.1 794.9h17.1v9.7h-17.1zM1636.9 794.9h17.1v9.7h-17.1zM292.9 785.5h17.1v9.7h-17.1zM444.1 785.5h17.1v9.7h-17.1zM528.1 785.5h33.9v9.7h-33.9zM931.3 785.5h17.1v9.7h-17.1zM964.9 785.5h17.1v9.7h-17.1zM1065.7 785.5h17.1v9.7h-17.1zM1149.7 785.5h17.1v9.7h-17.1zM124.9 776.1h17.1v9.7h-17.1zM242.5 776.1h17.1v9.7h-17.1zM292.9 776.1h17.1v9.7h-17.1zM343.3 776.1h17.1v9.7h-17.1zM1099.3 776.1h17.1v9.7h-17.1zM1149.7 776.1h17.1v9.7h-17.1zM1216.9 776.1h17.1v9.7h-17.1zM1351.3 776.1h33.9v9.7h-33.9zM1603.3 776.1h17.1v9.7h-17.1zM1687.3 776.1h17.1v9.7h-17.1zM393.7 766.7h33.9v9.7h-33.9zM1149.7 766.7h17.1v9.7h-17.1zM1233.7 766.7h17.1v9.7h-17.1zM1267.3 766.7h17.1v9.7h-17.1zM1317.7 766.7h17.1v9.7h-17.1zM1468.9 766.7h17.1v9.7h-17.1zM1536.1 766.7h17.1v9.7h-17.1zM1687.3 766.7h17.1v9.7h-17.1zM141.7 757.4h17.1v9.7h-17.1zM948.1 757.4h17.1v9.7h-17.1zM1099.3 757.4h17.1v9.7h-17.1zM1233.7 757.4h17.1v9.7h-17.1zM1401.7 757.4h17.1v9.7h-17.1zM528.1 748.0h17.1v9.7h-17.1zM1099.3 748.0h33.9v9.7h-33.9zM1166.5 748.0h17.1v9.7h-17.1zM1216.9 748.0h17.1v9.7h-17.1zM1401.7 748.0h33.9v9.7h-33.9zM141.7 738.6h17.1v9.7h-17.1zM292.9 738.6h17.1v9.7h-17.1zM393.7 738.6h17.1v9.7h-17.1zM813.7 738.6h17.1v9.7h-17.1zM1200.1 738.6h17.1v9.7h-17.1zM1452.1 738.6h17.1v9.7h-17.1zM1519.3 738.6h17.1v9.7h-17.1zM1636.9 738.6h17.1v9.7h-17.1zM276.1 729.2h17.1v9.7h-17.1zM309.7 729.2h17.1v9.7h-17.1zM494.5 729.2h17.1v9.7h-17.1zM528.1 729.2h17.1v9.7h-17.1zM561.7 729.2h17.1v9.7h-17.1zM1032.1 729.2h17.1v9.7h-17.1zM1149.7 729.2h17.1v9.7h-17.1zM1468.9 729.2h17.1v9.7h-17.1zM1552.9 729.2h17.1v9.7h-17.1zM1670.5 729.2h17.1v9.7h-17.1zM175.3 719.9h17.1v9.7h-17.1zM343.3 719.9h17.1v9.7h-17.1zM376.9 719.9h17.1v9.7h-17.1zM444.1 719.9h17.1v9.7h-17.1zM494.5 719.9h17.1v9.7h-17.1zM948.1 719.9h17.1v9.7h-17.1zM1653.7 719.9h17.1v9.7h-17.1zM410.5 710.5h17.1v9.7h-17.1zM1603.3 710.5h17.1v9.7h-17.1zM427.3 701.1h17.1v9.7h-17.1zM628.9 701.1h17.1v9.7h-17.1zM931.3 701.1h17.1v9.7h-17.1zM1082.5 701.1h33.9v9.7h-33.9zM1418.5 701.1h17.1v9.7h-17.1zM1452.1 701.1h17.1v9.7h-17.1zM1519.3 701.1h17.1v9.7h-17.1zM612.1 691.7h33.9v9.7h-33.9zM864.1 691.7h17.1v9.7h-17.1zM1032.1 691.7h17.1v9.7h-17.1zM1284.1 691.7h17.1v9.7h-17.1zM1418.5 691.7h17.1v9.7h-17.1zM1502.5 691.7h33.9v9.7h-33.9zM124.9 682.4h17.1v9.7h-17.1zM158.5 682.4h17.1v9.7h-17.1zM192.1 682.4h17.1v9.7h-17.1zM662.5 682.4h17.1v9.7h-17.1zM1048.9 682.4h17.1v9.7h-17.1zM1334.5 682.4h17.1v9.7h-17.1zM1485.7 682.4h17.1v9.7h-17.1zM1653.7 682.4h17.1v9.7h-17.1zM477.7 673.0h17.1v9.7h-17.1zM612.1 673.0h17.1v9.7h-17.1zM1048.9 673.0h33.9v9.7h-33.9zM1401.7 673.0h17.1v9.7h-17.1zM1687.3 673.0h17.1v9.7h-17.1zM175.3 663.6h17.1v9.7h-17.1zM276.1 663.6h17.1v9.7h-17.1zM444.1 663.6h17.1v9.7h-17.1zM494.5 663.6h17.1v9.7h-17.1zM796.9 663.6h17.1v9.7h-17.1zM964.9 663.6h17.1v9.7h-17.1zM1166.5 663.6h17.1v9.7h-17.1zM1200.1 663.6h17.1v9.7h-17.1zM1317.7 663.6h17.1v9.7h-17.1zM1502.5 663.6h17.1v9.7h-17.1z"/>
<path fill="#5464FA" d="M628.9 841.7h17.1v9.7h-17.1zM444.1 832.4h17.1v9.7h-17.1zM561.7 832.4h17.1v9.7h-17.1zM981.7 832.4h17.1v9.7h-17.1zM124.9 823.0h33.9v9.7h-33.9zM192.1 823.0h17.1v9.7h-17.1zM242.5 823.0h17.1v9.7h-17.1zM309.7 823.0h50.7v9.7h-50.7zM578.5 823.0h17.1v9.7h-17.1zM729.7 823.0h17.1v9.7h-17.1zM964.9 823.0h17.1v9.7h-17.1zM141.7 813.6h17.1v9.7h-17.1zM931.3 813.6h33.9v9.7h-33.9zM1116.1 813.6h17.1v9.7h-17.1zM1653.7 813.6h17.1v9.7h-17.1zM259.3 804.2h17.1v9.7h-17.1zM292.9 804.2h17.1v9.7h-17.1zM494.5 804.2h33.9v9.7h-33.9zM561.7 804.2h17.1v9.7h-17.1zM981.7 804.2h17.1v9.7h-17.1zM1116.1 804.2h17.1v9.7h-17.1zM1603.3 804.2h17.1v9.7h-17.1zM276.1 794.9h17.1v9.7h-17.1zM595.3 794.9h17.1v9.7h-17.1zM662.5 794.9h17.1v9.7h-17.1zM998.5 794.9h17.1v9.7h-17.1zM1099.3 794.9h17.1v9.7h-17.1zM376.9 785.5h17.1v9.7h-17.1zM494.5 785.5h17.1v9.7h-17.1zM628.9 785.5h17.1v9.7h-17.1zM746.5 785.5h33.9v9.7h-33.9zM1032.1 785.5h17.1v9.7h-17.1zM1082.5 785.5h17.1v9.7h-17.1zM1132.9 785.5h17.1v9.7h-17.1zM1300.9 785.5h33.9v9.7h-33.9zM1452.1 785.5h33.9v9.7h-33.9zM259.3 776.1h17.1v9.7h-17.1zM511.3 776.1h17.1v9.7h-17.1zM880.9 776.1h17.1v9.7h-17.1zM1048.9 776.1h17.1v9.7h-17.1zM1200.1 776.1h17.1v9.7h-17.1zM1418.5 776.1h17.1v9.7h-17.1zM1569.7 776.1h17.1v9.7h-17.1zM225.7 766.7h17.1v9.7h-17.1zM1284.1 766.7h17.1v9.7h-17.1zM1552.9 766.7h17.1v9.7h-17.1zM1670.5 766.7h17.1v9.7h-17.1zM175.3 757.4h17.1v9.7h-17.1zM208.9 757.4h17.1v9.7h-17.1zM326.5 757.4h17.1v9.7h-17.1zM679.3 757.4h17.1v9.7h-17.1zM1149.7 757.4h17.1v9.7h-17.1zM1317.7 757.4h17.1v9.7h-17.1zM1569.7 757.4h17.1v9.7h-17.1zM1653.7 757.4h17.1v9.7h-17.1zM158.5 748.0h17.1v9.7h-17.1zM259.3 748.0h17.1v9.7h-17.1zM931.3 748.0h17.1v9.7h-17.1zM1015.3 748.0h17.1v9.7h-17.1zM1502.5 748.0h17.1v9.7h-17.1zM1670.5 748.0h17.1v9.7h-17.1zM948.1 738.6h17.1v9.7h-17.1zM1502.5 738.6h17.1v9.7h-17.1zM141.7 729.2h17.1v9.7h-17.1zM242.5 729.2h17.1v9.7h-17.1zM292.9 729.2h17.1v9.7h-17.1zM763.3 729.2h17.1v9.7h-17.1zM998.5 729.2h17.1v9.7h-17.1zM158.5 719.9h17.1v9.7h-17.1zM292.9 719.9h17.1v9.7h-17.1zM427.3 719.9h17.1v9.7h-17.1zM914.5 719.9h17.1v9.7h-17.1zM1183.3 719.9h17.1v9.7h-17.1zM1233.7 719.9h17.1v9.7h-17.1zM1468.9 719.9h17.1v9.7h-17.1zM192.1 710.5h17.1v9.7h-17.1zM494.5 710.5h17.1v9.7h-17.1zM1468.9 710.5h17.1v9.7h-17.1zM141.7 701.1h17.1v9.7h-17.1zM326.5 701.1h17.1v9.7h-17.1zM393.7 701.1h17.1v9.7h-17.1zM528.1 701.1h17.1v9.7h-17.1zM1166.5 701.1h17.1v9.7h-17.1zM1636.9 701.1h17.1v9.7h-17.1zM175.3 691.7h17.1v9.7h-17.1zM460.9 691.7h17.1v9.7h-17.1zM813.7 691.7h17.1v9.7h-17.1zM847.3 691.7h17.1v9.7h-17.1zM175.3 682.4h17.1v9.7h-17.1zM612.1 682.4h17.1v9.7h-17.1zM931.3 682.4h17.1v9.7h-17.1zM1519.3 682.4h17.1v9.7h-17.1zM242.5 673.0h17.1v9.7h-17.1zM393.7 673.0h17.1v9.7h-17.1zM780.1 673.0h17.1v9.7h-17.1zM1099.3 673.0h17.1v9.7h-17.1zM1200.1 673.0h17.1v9.7h-17.1zM1233.7 673.0h17.1v9.7h-17.1zM1418.5 673.0h17.1v9.7h-17.1zM1502.5 673.0h33.9v9.7h-33.9zM1603.3 673.0h17.1v9.7h-17.1zM158.5 663.6h17.1v9.7h-17.1zM292.9 663.6h17.1v9.7h-17.1zM326.5 663.6h17.1v9.7h-17.1zM645.7 663.6h17.1v9.7h-17.1zM981.7 663.6h17.1v9.7h-17.1zM1099.3 663.6h17.1v9.7h-17.1zM1485.7 663.6h17.1v9.7h-17.1z"/>
<path fill="#536DF9" d="M444.1 841.7h17.1v9.7h-17.1zM931.3 841.7h17.1v9.7h-17.1zM1099.3 841.7h17.1v9.7h-17.1zM124.9 832.4h17.1v9.7h-17.1zM511.3 832.4h17.1v9.7h-17.1zM964.9 832.4h17.1v9.7h-17.1zM158.5 823.0h17.1v9.7h-17.1zM225.7 823.0h17.1v9.7h-17.1zM259.3 823.0h17.1v9.7h-17.1zM460.9 823.0h17.1v9.7h-17.1zM511.3 823.0h17.1v9.7h-17.1zM645.7 823.0h17.1v9.7h-17.1zM981.7 823.0h17.1v9.7h-17.1zM561.7 813.6h17.1v9.7h-17.1zM645.7 813.6h17.1v9.7h-17.1zM1015.3 813.6h17.1v9.7h-17.1zM1132.9 813.6h17.1v9.7h-17.1zM1216.9 813.6h17.1v9.7h-17.1zM1670.5 813.6h17.1v9.7h-17.1zM326.5 804.2h17.1v9.7h-17.1zM964.9 804.2h17.1v9.7h-17.1zM998.5 804.2h33.9v9.7h-33.9zM1166.5 804.2h33.9v9.7h-33.9zM1586.5 804.2h17.1v9.7h-17.1zM1620.1 804.2h17.1v9.7h-17.1zM1653.7 804.2h17.1v9.7h-17.1zM259.3 794.9h17.1v9.7h-17.1zM309.7 794.9h17.1v9.7h-17.1zM645.7 794.9h17.1v9.7h-17.1zM1082.5 794.9h17.1v9.7h-17.1zM1250.5 794.9h17.1v9.7h-17.1zM1485.7 794.9h33.9v9.7h-33.9zM1536.1 794.9h17.1v9.7h-17.1zM124.9 785.5h17.1v9.7h-17.1zM259.3 785.5h17.1v9.7h-17.1zM1099.3 785.5h17.1v9.7h-17.1zM1200.1 785.5h17.1v9.7h-17.1zM1485.7 785.5h17.1v9.7h-17.1zM1620.1 785.5h17.1v9.7h-17.1zM208.9 776.1h17.1v9.7h-17.1zM864.1 776.1h17.1v9.7h-17.1zM1082.5 776.1h17.1v9.7h-17.1zM1166.5 776.1h17.1v9.7h-17.1zM1250.5 776.1h17.1v9.7h-17.1zM192.1 766.7h17.1v9.7h-17.1zM662.5 766.7h17.1v9.7h-17.1zM1116.1 766.7h33.9v9.7h-33.9zM1300.9 766.7h17.1v9.7h-17.1zM1401.7 766.7h17.1v9.7h-17.1zM1502.5 766.7h17.1v9.7h-17.1zM561.7 757.4h17.1v9.7h-17.1zM1082.5 757.4h17.1v9.7h-17.1zM1116.1 757.4h17.1v9.7h-17.1zM1284.1 757.4h33.9v9.7h-33.9zM1384.9 757.4h17.1v9.7h-17.1zM1418.5 757.4h17.1v9.7h-17.1zM1519.3 757.4h17.1v9.7h-17.1zM1670.5 757.4h33.9v9.7h-33.9zM175.3 748.0h50.7v9.7h-50.7zM292.9 748.0h17.1v9.7h-17.1zM998.5 748.0h17.1v9.7h-17.1zM1032.1 748.0h17.1v9.7h-17.1zM1284.1 748.0h17.1v9.7h-17.1zM1603.3 748.0h17.1v9.7h-17.1zM1687.3 748.0h17.1v9.7h-17.1zM175.3 738.6h17.1v9.7h-17.1zM444.1 738.6h17.1v9.7h-17.1zM561.7 738.6h17.1v9.7h-17.1zM1166.5 738.6h17.1v9.7h-17.1zM1300.9 738.6h17.1v9.7h-17.1zM1485.7 738.6h17.1v9.7h-17.1zM1586.5 738.6h17.1v9.7h-17.1zM662.5 729.2h17.1v9.7h-17.1zM780.1 729.2h17.1v9.7h-17.1zM914.5 729.2h17.1v9.7h-17.1zM981.7 729.2h17.1v9.7h-17.1zM1166.5 729.2h17.1v9.7h-17.1zM1216.9 729.2h17.1v9.7h-17.1zM897.7 719.9h17.1v9.7h-17.1zM528.1 710.5h17.1v9.7h-17.1zM897.7 710.5h17.1v9.7h-17.1zM998.5 710.5h17.1v9.7h-17.1zM1267.3 710.5h17.1v9.7h-17.1zM1653.7 710.5h17.1v9.7h-17.1zM477.7 701.1h17.1v9.7h-17.1zM511.3 701.1h17.1v9.7h-17.1zM1099.3 691.7h17.1v9.7h-17.1zM1368.1 691.7h17.1v9.7h-17.1zM1452.1 691.7h17.1v9.7h-17.1zM292.9 682.4h17.1v9.7h-17.1zM1183.3 682.4h17.1v9.7h-17.1zM1284.1 682.4h50.7v9.7h-50.7zM1502.5 682.4h17.1v9.7h-17.1zM124.9 673.0h17.1v9.7h-17.1zM494.5 673.0h17.1v9.7h-17.1zM796.9 673.0h17.1v9.7h-17.1zM948.1 673.0h33.9v9.7h-33.9zM1032.1 673.0h17.1v9.7h-17.1zM1536.1 673.0h17.1v9.7h-17.1zM1586.5 673.0h17.1v9.7h-17.1zM225.7 663.6h17.1v9.7h-17.1zM309.7 663.6h17.1v9.7h-17.1zM376.9 663.6h17.1v9.7h-17.1zM628.9 663.6h17.1v9.7h-17.1zM1015.3 663.6h17.1v9.7h-17.1zM1116.1 663.6h17.1v9.7h-17.1zM1536.1 663.6h17.1v9.7h-17.1z"/>
<path fill="#5276F9" d="M309.7 841.7h17.1v9.7h-17.1zM427.3 841.7h17.1v9.7h-17.1zM494.5 841.7h17.1v9.7h-17.1zM460.9 832.4h17.1v9.7h-17.1zM528.1 832.4h17.1v9.7h-17.1zM696.1 832.4h17.1v9.7h-17.1zM948.1 832.4h17.1v9.7h-17.1zM1015.3 832.4h17.1v9.7h-17.1zM1166.5 832.4h17.1v9.7h-17.1zM360.1 823.0h17.1v9.7h-17.1zM477.7 823.0h33.9v9.7h-33.9zM612.1 823.0h17.1v9.7h-17.1zM1032.1 823.0h17.1v9.7h-17.1zM1099.3 823.0h33.9v9.7h-33.9zM1670.5 823.0h17.1v9.7h-17.1zM612.1 813.6h17.1v9.7h-17.1zM712.9 813.6h17.1v9.7h-17.1zM1032.1 813.6h33.9v9.7h-33.9zM1200.1 813.6h17.1v9.7h-17.1zM376.9 804.2h17.1v9.7h-17.1zM780.1 804.2h33.9v9.7h-33.9zM1636.9 804.2h17.1v9.7h-17.1zM981.7 794.9h17.1v9.7h-17.1zM1300.9 794.9h33.9v9.7h-33.9zM360.1 785.5h17.1v9.7h-17.1zM729.7 785.5h17.1v9.7h-17.1zM880.9 785.5h17.1v9.7h-17.1zM1216.9 785.5h17.1v9.7h-17.1zM1267.3 785.5h33.9v9.7h-33.9zM1384.9 785.5h17.1v9.7h-17.1zM1636.9 785.5h17.1v9.7h-17.1zM964.9 776.1h17.1v9.7h-17.1zM1267.3 776.1h17.1v9.7h-17.1zM1485.7 776.1h17.1v9.7h-17.1zM1519.3 776.1h17.1v9.7h-17.1zM1552.9 776.1h17.1v9.7h-17.1zM1586.5 776.1h17.1v9.7h-17.1zM208.9 766.7h17.1v9.7h-17.1zM645.7 766.7h17.1v9.7h-17.1zM880.9 766.7h17.1v9.7h-17.1zM1065.7 766.7h33.9v9.7h-33.9zM1166.5 766.7h33.9v9.7h-33.9zM1250.5 766.7h17.1v9.7h-17.1zM1334.5 766.7h17.1v9.7h-17.1zM1452.1 766.7h17.1v9.7h-17.1zM225.7 757.4h17.1v9.7h-17.1zM712.9 757.4h17.1v9.7h-17.1zM1048.9 757.4h17.1v9.7h-17.1zM1132.9 757.4h17.1v9.7h-17.1zM1334.5 757.4h17.1v9.7h-17.1zM830.5 748.0h17.1v9.7h-17.1zM897.7 748.0h17.1v9.7h-17.1zM679.3 738.6h17.1v9.7h-17.1zM1116.1 738.6h50.7v9.7h-50.7zM813.7 729.2h17.1v9.7h-17.1zM1183.3 729.2h17.1v9.7h-17.1zM192.1 719.9h17.1v9.7h-17.1zM763.3 719.9h33.9v9.7h-33.9zM696.1 710.5h17.1v9.7h-17.1zM376.9 701.1h17.1v9.7h-17.1zM444.1 701.1h33.9v9.7h-33.9zM780.1 701.1h17.1v9.7h-17.1zM1351.3 691.7h17.1v9.7h-17.1zM948.1 682.4h17.1v9.7h-17.1zM1032.1 682.4h17.1v9.7h-17.1zM1216.9 682.4h17.1v9.7h-17.1zM1485.7 673.0h17.1v9.7h-17.1zM1620.1 673.0h17.1v9.7h-17.1zM393.7 663.6h17.1v9.7h-17.1zM460.9 663.6h17.1v9.7h-17.1zM780.1 663.6h17.1v9.7h-17.1zM1603.3 663.6h33.9v9.7h-33.9z"/>
<path fill="#507FF8" d="M292.9 841.7h17.1v9.7h-17.1zM410.5 841.7h17.1v9.7h-17.1zM528.1 841.7h17.1v9.7h-17.1zM578.5 841.7h33.9v9.7h-33.9zM729.7 841.7h17.1v9.7h-17.1zM1082.5 841.7h17.1v9.7h-17.1zM1116.1 841.7h17.1v9.7h-17.1zM578.5 832.4h17.1v9.7h-17.1zM847.3 832.4h33.9v9.7h-33.9zM1099.3 832.4h17.1v9.7h-17.1zM1183.3 832.4h17.1v9.7h-17.1zM1048.9 823.0h33.9v9.7h-33.9zM1166.5 823.0h17.1v9.7h-17.1zM696.1 813.6h17.1v9.7h-17.1zM1065.7 813.6h33.9v9.7h-33.9zM1149.7 813.6h17.1v9.7h-17.1zM1183.3 813.6h17.1v9.7h-17.1zM1317.7 813.6h17.1v9.7h-17.1zM276.1 804.2h17.1v9.7h-17.1zM628.9 804.2h17.1v9.7h-17.1zM1099.3 804.2h17.1v9.7h-17.1zM1216.9 804.2h17.1v9.7h-17.1zM1687.3 804.2h17.1v9.7h-17.1zM628.9 794.9h17.1v9.7h-17.1zM830.5 794.9h17.1v9.7h-17.1zM914.5 794.9h17.1v9.7h-17.1zM1334.5 794.9h17.1v9.7h-17.1zM1384.9 794.9h33.9v9.7h-33.9zM1452.1 794.9h17.1v9.7h-17.1zM1620.1 794.9h17.1v9.7h-17.1zM276.1 785.5h17.1v9.7h-17.1zM864.1 785.5h17.1v9.7h-17.1zM897.7 785.5h17.1v9.7h-17.1zM1250.5 785.5h17.1v9.7h-17.1zM1334.5 785.5h17.1v9.7h-17.1zM1368.1 785.5h17.1v9.7h-17.1zM1183.3 776.1h17.1v9.7h-17.1zM1284.1 776.1h17.1v9.7h-17.1zM1536.1 776.1h17.1v9.7h-17.1zM1653.7 776.1h17.1v9.7h-17.1zM292.9 766.7h33.9v9.7h-33.9zM1048.9 766.7h17.1v9.7h-17.1zM1485.7 766.7h17.1v9.7h-17.1zM1653.7 766.7h17.1v9.7h-17.1zM830.5 757.4h17.1v9.7h-17.1zM864.1 757.4h17.1v9.7h-17.1zM696.1 748.0h17.1v9.7h-17.1zM763.3 738.6h17.1v9.7h-17.1zM796.9 738.6h17.1v9.7h-17.1zM914.5 738.6h17.1v9.7h-17.1zM1284.1 738.6h17.1v9.7h-17.1zM544.9 729.2h17.1v9.7h-17.1zM1200.1 729.2h17.1v9.7h-17.1zM309.7 719.9h17.1v9.7h-17.1zM360.1 719.9h17.1v9.7h-17.1zM511.3 710.5h17.1v9.7h-17.1zM914.5 710.5h17.1v9.7h-17.1zM410.5 701.1h17.1v9.7h-17.1zM864.1 701.1h17.1v9.7h-17.1zM1468.9 701.1h33.9v9.7h-33.9zM679.3 691.7h17.1v9.7h-17.1zM729.7 691.7h17.1v9.7h-17.1zM1435.3 691.7h17.1v9.7h-17.1zM696.1 682.4h17.1v9.7h-17.1zM763.3 682.4h17.1v9.7h-17.1zM1351.3 682.4h17.1v9.7h-17.1zM662.5 673.0h17.1v9.7h-17.1zM1015.3 673.0h17.1v9.7h-17.1zM1116.1 673.0h17.1v9.7h-17.1zM1636.9 673.0h17.1v9.7h-17.1zM477.7 663.6h17.1v9.7h-17.1zM528.1 663.6h17.1v9.7h-17.1zM1586.5 663.6h17.1v9.7h-17.1zM1636.9 663.6h17.1v9.7h-17.1z"/>
<path fill="#528BF3" d="M309.7 851.1h17.1v9.7h-17.1zM998.5 851.1h17.1v9.7h-17.1zM225.7 841.7h17.1v9.7h-17.1zM544.9 841.7h33.9v9.7h-33.9zM712.9 841.7h17.1v9.7h-17.1zM981.7 841.7h17.1v9.7h-17.1zM208.9 832.4h33.9v9.7h-33.9zM712.9 832.4h17.1v9.7h-17.1zM763.3 832.4h17.1v9.7h-17.1zM1032.1 832.4h33.9v9.7h-33.9zM1082.5 832.4h17.1v9.7h-17.1zM1603.3 832.4h17.1v9.7h-17.1zM1636.9 832.4h17.1v9.7h-17.1zM376.9 823.0h17.1v9.7h-17.1zM679.3 823.0h33.9v9.7h-33.9zM864.1 823.0h17.1v9.7h-17.1zM948.1 823.0h17.1v9.7h-17.1zM1149.7 823.0h17.1v9.7h-17.1zM1485.7 823.0h17.1v9.7h-17.1zM1687.3 823.0h17.1v9.7h-17.1zM628.9 813.6h17.1v9.7h-17.1zM880.9 813.6h17.1v9.7h-17.1zM1284.1 813.6h17.1v9.7h-17.1zM1334.5 813.6h17.1v9.7h-17.1zM1603.3 813.6h17.1v9.7h-17.1zM1687.3 813.6h17.1v9.7h-17.1zM645.7 804.2h33.9v9.7h-33.9zM1200.1 804.2h17.1v9.7h-17.1zM1435.3 804.2h17.1v9.7h-17.1zM729.7 794.9h17.1v9.7h-17.1zM763.3 794.9h33.9v9.7h-33.9zM880.9 794.9h33.9v9.7h-33.9zM964.9 794.9h17.1v9.7h-17.1zM1200.1 794.9h17.1v9.7h-17.1zM1284.1 794.9h17.1v9.7h-17.1zM1468.9 794.9h17.1v9.7h-17.1zM1670.5 794.9h17.1v9.7h-17.1zM343.3 785.5h17.1v9.7h-17.1zM847.3 785.5h17.1v9.7h-17.1zM914.5 785.5h17.1v9.7h-17.1zM1351.3 785.5h17.1v9.7h-17.1zM1586.5 785.5h33.9v9.7h-33.9zM225.7 776.1h17.1v9.7h-17.1zM712.9 776.1h17.1v9.7h-17.1zM1065.7 776.1h17.1v9.7h-17.1zM1300.9 776.1h33.9v9.7h-33.9zM1468.9 776.1h17.1v9.7h-17.1zM696.1 766.7h17.1v9.7h-17.1zM830.5 766.7h17.1v9.7h-17.1zM124.9 757.4h17.1v9.7h-17.1zM847.3 757.4h17.1v9.7h-17.1zM880.9 757.4h17.1v9.7h-17.1zM1552.9 757.4h17.1v9.7h-17.1zM679.3 748.0h17.1v9.7h-17.1zM1603.3 738.6h17.1v9.7h-17.1zM796.9 719.9h17.1v9.7h-17.1zM813.7 710.5h17.1v9.7h-17.1zM880.9 710.5h17.1v9.7h-17.1zM1687.3 710.5h17.1v9.7h-17.1zM729.7 701.1h17.1v9.7h-17.1zM746.5 691.7h50.7v9.7h-50.7zM830.5 691.7h17.1v9.7h-17.1zM830.5 682.4h67.5v9.7h-67.5zM1200.1 682.4h17.1v9.7h-17.1zM1653.7 673.0h17.1v9.7h-17.1zM679.3 663.6h17.1v9.7h-17.1z"/>
<path fill="#5396ED" d="M427.3 869.9h17.1v9.7h-17.1zM376.9 851.1h33.9v9.7h-33.9zM595.3 851.1h33.9v9.7h-33.9zM712.9 851.1h17.1v9.7h-17.1zM460.9 841.7h17.1v9.7h-17.1zM645.7 841.7h17.1v9.7h-17.1zM746.5 841.7h33.9v9.7h-33.9zM141.7 832.4h17.1v9.7h-17.1zM326.5 832.4h33.9v9.7h-33.9zM830.5 832.4h17.1v9.7h-17.1zM1116.1 832.4h17.1v9.7h-17.1zM1149.7 832.4h17.1v9.7h-17.1zM1267.3 832.4h17.1v9.7h-17.1zM276.1 823.0h33.9v9.7h-33.9zM847.3 823.0h17.1v9.7h-17.1zM1300.9 823.0h17.1v9.7h-17.1zM1502.5 823.0h17.1v9.7h-17.1zM1552.9 823.0h17.1v9.7h-17.1zM1603.3 823.0h17.1v9.7h-17.1zM1233.7 813.6h17.1v9.7h-17.1zM1267.3 813.6h17.1v9.7h-17.1zM1636.9 813.6h17.1v9.7h-17.1zM1284.1 804.2h17.1v9.7h-17.1zM1317.7 804.2h17.1v9.7h-17.1zM1384.9 804.2h17.1v9.7h-17.1zM1418.5 804.2h17.1v9.7h-17.1zM1569.7 804.2h17.1v9.7h-17.1zM746.5 794.9h17.1v9.7h-17.1zM1233.7 794.9h17.1v9.7h-17.1zM1435.3 794.9h17.1v9.7h-17.1zM1653.7 794.9h17.1v9.7h-17.1zM1418.5 785.5h17.1v9.7h-17.1zM1536.1 785.5h17.1v9.7h-17.1zM679.3 776.1h33.9v9.7h-33.9zM1132.9 776.1h17.1v9.7h-17.1zM1502.5 776.1h17.1v9.7h-17.1zM847.3 766.7h17.1v9.7h-17.1zM1418.5 766.7h17.1v9.7h-17.1zM292.9 757.4h17.1v9.7h-17.1zM914.5 748.0h17.1v9.7h-17.1zM830.5 729.2h17.1v9.7h-17.1zM897.7 729.2h17.1v9.7h-17.1zM712.9 701.1h17.1v9.7h-17.1zM763.3 663.6h17.1v9.7h-17.1zM914.5 663.6h17.1v9.7h-17.1z"/>
<path fill="#55A1E7" d="M225.7 860.5h17.1v9.7h-17.1zM964.9 860.5h17.1v9.7h-17.1zM914.5 851.1h33.9v9.7h-33.9zM981.7 851.1h17.1v9.7h-17.1zM360.1 841.7h17.1v9.7h-17.1zM477.7 841.7h17.1v9.7h-17.1zM864.1 841.7h17.1v9.7h-17.1zM948.1 841.7h17.1v9.7h-17.1zM998.5 841.7h17.1v9.7h-17.1zM1065.7 841.7h17.1v9.7h-17.1zM1149.7 841.7h17.1v9.7h-17.1zM242.5 832.4h33.9v9.7h-33.9zM628.9 832.4h17.1v9.7h-17.1zM679.3 832.4h17.1v9.7h-17.1zM1132.9 832.4h17.1v9.7h-17.1zM1485.7 832.4h17.1v9.7h-17.1zM1653.7 832.4h17.1v9.7h-17.1zM880.9 823.0h17.1v9.7h-17.1zM1082.5 823.0h17.1v9.7h-17.1zM1317.7 823.0h17.1v9.7h-17.1zM1468.9 823.0h17.1v9.7h-17.1zM729.7 813.6h17.1v9.7h-17.1zM763.3 813.6h17.1v9.7h-17.1zM1300.9 813.6h17.1v9.7h-17.1zM1401.7 813.6h17.1v9.7h-17.1zM1620.1 813.6h17.1v9.7h-17.1zM1065.7 804.2h33.9v9.7h-33.9zM1233.7 804.2h17.1v9.7h-17.1zM1334.5 804.2h50.7v9.7h-50.7zM1452.1 804.2h17.1v9.7h-17.1zM1536.1 804.2h17.1v9.7h-17.1zM1670.5 804.2h17.1v9.7h-17.1zM813.7 794.9h17.1v9.7h-17.1zM1065.7 794.9h17.1v9.7h-17.1zM1216.9 794.9h17.1v9.7h-17.1zM1267.3 794.9h17.1v9.7h-17.1zM1368.1 794.9h17.1v9.7h-17.1zM1586.5 794.9h17.1v9.7h-17.1zM780.1 785.5h17.1v9.7h-17.1zM813.7 785.5h17.1v9.7h-17.1zM1401.7 785.5h17.1v9.7h-17.1zM1435.3 785.5h17.1v9.7h-17.1zM1502.5 785.5h17.1v9.7h-17.1zM1569.7 785.5h17.1v9.7h-17.1zM1670.5 785.5h17.1v9.7h-17.1zM897.7 776.1h33.9v9.7h-33.9zM1435.3 776.1h33.9v9.7h-33.9zM1636.9 776.1h17.1v9.7h-17.1zM712.9 766.7h17.1v9.7h-17.1zM796.9 766.7h17.1v9.7h-17.1zM864.1 766.7h17.1v9.7h-17.1zM1435.3 766.7h17.1v9.7h-17.1zM796.9 748.0h17.1v9.7h-17.1zM696.1 738.6h17.1v9.7h-17.1zM679.3 729.2h17.1v9.7h-17.1zM763.3 710.5h33.9v9.7h-33.9zM696.1 701.1h17.1v9.7h-17.1zM746.5 701.1h17.1v9.7h-17.1zM796.9 701.1h33.9v9.7h-33.9zM880.9 701.1h17.1v9.7h-17.1zM696.1 691.7h17.1v9.7h-17.1zM796.9 691.7h17.1v9.7h-17.1zM780.1 682.4h17.1v9.7h-17.1zM763.3 673.0h17.1v9.7h-17.1zM897.7 673.0h17.1v9.7h-17.1zM746.5 663.6h17.1v9.7h-17.1zM897.7 663.6h17.1v9.7h-17.1z"/>
<path fill="#57AAE3" d="M326.5 851.1h33.9v9.7h-33.9zM444.1 851.1h33.9v9.7h-33.9zM511.3 851.1h17.1v9.7h-17.1zM645.7 851.1h17.1v9.7h-17.1zM679.3 851.1h33.9v9.7h-33.9zM141.7 841.7h17.1v9.7h-17.1zM175.3 841.7h17.1v9.7h-17.1zM376.9 841.7h17.1v9.7h-17.1zM914.5 841.7h17.1v9.7h-17.1zM1015.3 841.7h17.1v9.7h-17.1zM1166.5 841.7h17.1v9.7h-17.1zM1284.1 841.7h17.1v9.7h-17.1zM1519.3 841.7h17.1v9.7h-17.1zM880.9 832.4h17.1v9.7h-17.1zM914.5 832.4h17.1v9.7h-17.1zM1065.7 832.4h17.1v9.7h-17.1zM1250.5 832.4h17.1v9.7h-17.1zM1284.1 832.4h17.1v9.7h-17.1zM1552.9 832.4h17.1v9.7h-17.1zM1687.3 832.4h17.1v9.7h-17.1zM628.9 823.0h17.1v9.7h-17.1zM746.5 823.0h17.1v9.7h-17.1zM914.5 823.0h17.1v9.7h-17.1zM1183.3 823.0h17.1v9.7h-17.1zM1569.7 823.0h17.1v9.7h-17.1zM679.3 813.6h17.1v9.7h-17.1zM847.3 813.6h33.9v9.7h-33.9zM1166.5 813.6h17.1v9.7h-17.1zM1485.7 813.6h33.9v9.7h-33.9zM1536.1 813.6h33.9v9.7h-33.9zM729.7 804.2h17.1v9.7h-17.1zM763.3 804.2h17.1v9.7h-17.1zM897.7 804.2h33.9v9.7h-33.9zM1267.3 804.2h17.1v9.7h-17.1zM1300.9 804.2h17.1v9.7h-17.1zM1401.7 804.2h17.1v9.7h-17.1zM1485.7 804.2h33.9v9.7h-33.9zM1603.3 794.9h17.1v9.7h-17.1zM830.5 785.5h17.1v9.7h-17.1zM1519.3 785.5h17.1v9.7h-17.1zM1687.3 785.5h17.1v9.7h-17.1zM729.7 776.1h33.9v9.7h-33.9zM813.7 776.1h17.1v9.7h-17.1zM1620.1 776.1h17.1v9.7h-17.1zM729.7 766.7h17.1v9.7h-17.1zM813.7 766.7h17.1v9.7h-17.1zM897.7 766.7h17.1v9.7h-17.1zM729.7 757.4h17.1v9.7h-17.1zM780.1 748.0h17.1v9.7h-17.1zM880.9 748.0h17.1v9.7h-17.1zM830.5 738.6h33.9v9.7h-33.9zM746.5 729.2h17.1v9.7h-17.1zM679.3 719.9h33.9v9.7h-33.9zM679.3 710.5h17.1v9.7h-17.1zM712.9 710.5h33.9v9.7h-33.9zM763.3 701.1h17.1v9.7h-17.1zM847.3 701.1h17.1v9.7h-17.1zM897.7 701.1h17.1v9.7h-17.1zM712.9 691.7h17.1v9.7h-17.1zM880.9 691.7h17.1v9.7h-17.1zM679.3 682.4h17.1v9.7h-17.1zM746.5 682.4h17.1v9.7h-17.1zM796.9 682.4h17.1v9.7h-17.1zM830.5 673.0h17.1v9.7h-17.1zM1132.9 673.0h17.1v9.7h-17.1zM696.1 663.6h17.1v9.7h-17.1zM864.1 663.6h33.9v9.7h-33.9z"/>
<path fill="#59B3DE" d="M158.5 869.9h17.1v9.7h-17.1zM612.1 869.9h17.1v9.7h-17.1zM712.9 869.9h17.1v9.7h-17.1zM662.5 860.5h17.1v9.7h-17.1zM914.5 860.5h17.1v9.7h-17.1zM1435.3 860.5h17.1v9.7h-17.1zM124.9 851.1h17.1v9.7h-17.1zM242.5 851.1h17.1v9.7h-17.1zM360.1 851.1h17.1v9.7h-17.1zM528.1 851.1h17.1v9.7h-17.1zM628.9 851.1h17.1v9.7h-17.1zM864.1 851.1h17.1v9.7h-17.1zM1015.3 851.1h17.1v9.7h-17.1zM1065.7 851.1h17.1v9.7h-17.1zM1099.3 851.1h17.1v9.7h-17.1zM1233.7 851.1h17.1v9.7h-17.1zM1418.5 851.1h33.9v9.7h-33.9zM192.1 841.7h33.9v9.7h-33.9zM276.1 841.7h17.1v9.7h-17.1zM326.5 841.7h17.1v9.7h-17.1zM393.7 841.7h17.1v9.7h-17.1zM696.1 841.7h17.1v9.7h-17.1zM780.1 841.7h17.1v9.7h-17.1zM880.9 841.7h17.1v9.7h-17.1zM964.9 841.7h17.1v9.7h-17.1zM1351.3 841.7h17.1v9.7h-17.1zM1418.5 841.7h17.1v9.7h-17.1zM1502.5 841.7h17.1v9.7h-17.1zM1552.9 841.7h17.1v9.7h-17.1zM158.5 832.4h17.1v9.7h-17.1zM309.7 832.4h17.1v9.7h-17.1zM662.5 832.4h17.1v9.7h-17.1zM729.7 832.4h17.1v9.7h-17.1zM1200.1 832.4h17.1v9.7h-17.1zM1317.7 832.4h17.1v9.7h-17.1zM1368.1 832.4h17.1v9.7h-17.1zM1468.9 832.4h17.1v9.7h-17.1zM1519.3 832.4h17.1v9.7h-17.1zM1620.1 832.4h17.1v9.7h-17.1zM1132.9 823.0h17.1v9.7h-17.1zM1334.5 823.0h17.1v9.7h-17.1zM1435.3 823.0h33.9v9.7h-33.9zM1586.5 823.0h17.1v9.7h-17.1zM1636.9 823.0h17.1v9.7h-17.1zM1250.5 813.6h17.1v9.7h-17.1zM1468.9 813.6h17.1v9.7h-17.1zM1586.5 813.6h17.1v9.7h-17.1zM813.7 804.2h33.9v9.7h-33.9zM1250.5 804.2h17.1v9.7h-17.1zM1468.9 804.2h17.1v9.7h-17.1zM847.3 794.9h17.1v9.7h-17.1zM1351.3 794.9h17.1v9.7h-17.1zM1687.3 794.9h17.1v9.7h-17.1zM1552.9 785.5h17.1v9.7h-17.1zM847.3 776.1h17.1v9.7h-17.1zM679.3 766.7h17.1v9.7h-17.1zM780.1 766.7h17.1v9.7h-17.1zM914.5 766.7h17.1v9.7h-17.1zM897.7 757.4h17.1v9.7h-17.1zM712.9 748.0h67.5v9.7h-67.5zM847.3 748.0h17.1v9.7h-17.1zM746.5 738.6h17.1v9.7h-17.1zM897.7 738.6h17.1v9.7h-17.1zM880.9 729.2h17.1v9.7h-17.1zM746.5 719.9h17.1v9.7h-17.1zM830.5 719.9h17.1v9.7h-17.1zM796.9 710.5h17.1v9.7h-17.1zM864.1 710.5h17.1v9.7h-17.1zM729.7 682.4h17.1v9.7h-17.1zM880.9 673.0h17.1v9.7h-17.1zM914.5 673.0h17.1v9.7h-17.1z"/>
<path fill="#5BBCDA" d="M679.3 888.6h33.9v9.7h-33.9zM460.9 879.2h17.1v9.7h-17.1zM612.1 879.2h17.1v9.7h-17.1zM712.9 879.2h17.1v9.7h-17.1zM410.5 869.9h17.1v9.7h-17.1zM561.7 869.9h17.1v9.7h-17.1zM696.1 869.9h17.1v9.7h-17.1zM914.5 869.9h33.9v9.7h-33.9zM460.9 860.5h17.1v9.7h-17.1zM645.7 860.5h17.1v9.7h-17.1zM1116.1 860.5h17.1v9.7h-17.1zM192.1 851.1h17.1v9.7h-17.1zM225.7 851.1h17.1v9.7h-17.1zM259.3 851.1h17.1v9.7h-17.1zM796.9 851.1h17.1v9.7h-17.1zM948.1 851.1h33.9v9.7h-33.9zM1048.9 851.1h17.1v9.7h-17.1zM1250.5 851.1h17.1v9.7h-17.1zM1351.3 851.1h17.1v9.7h-17.1zM1536.1 851.1h17.1v9.7h-17.1zM1687.3 851.1h17.1v9.7h-17.1zM124.9 841.7h17.1v9.7h-17.1zM242.5 841.7h17.1v9.7h-17.1zM343.3 841.7h17.1v9.7h-17.1zM796.9 841.7h17.1v9.7h-17.1zM1048.9 841.7h17.1v9.7h-17.1zM1132.9 841.7h17.1v9.7h-17.1zM1435.3 841.7h17.1v9.7h-17.1zM1468.9 841.7h17.1v9.7h-17.1zM1603.3 841.7h17.1v9.7h-17.1zM1687.3 841.7h17.1v9.7h-17.1zM175.3 832.4h17.1v9.7h-17.1zM276.1 832.4h17.1v9.7h-17.1zM376.9 832.4h17.1v9.7h-17.1zM645.7 832.4h17.1v9.7h-17.1zM746.5 832.4h17.1v9.7h-17.1zM1351.3 832.4h17.1v9.7h-17.1zM1418.5 832.4h17.1v9.7h-17.1zM1536.1 832.4h17.1v9.7h-17.1zM1670.5 832.4h17.1v9.7h-17.1zM1250.5 823.0h50.7v9.7h-50.7zM1401.7 823.0h33.9v9.7h-33.9zM1620.1 823.0h17.1v9.7h-17.1zM780.1 813.6h33.9v9.7h-33.9zM1384.9 813.6h17.1v9.7h-17.1zM1418.5 813.6h33.9v9.7h-33.9zM1569.7 813.6h17.1v9.7h-17.1zM696.1 804.2h17.1v9.7h-17.1zM746.5 804.2h17.1v9.7h-17.1zM880.9 804.2h17.1v9.7h-17.1zM830.5 776.1h17.1v9.7h-17.1zM309.7 757.4h17.1v9.7h-17.1zM864.1 748.0h17.1v9.7h-17.1zM729.7 738.6h17.1v9.7h-17.1zM712.9 729.2h33.9v9.7h-33.9zM847.3 729.2h17.1v9.7h-17.1zM880.9 719.9h17.1v9.7h-17.1zM746.5 710.5h17.1v9.7h-17.1zM712.9 682.4h17.1v9.7h-17.1zM696.1 673.0h17.1v9.7h-17.1zM864.1 673.0h17.1v9.7h-17.1zM830.5 663.6h17.1v9.7h-17.1z"/>
<path fill="#5CC4D3" d="M444.1 879.2h17.1v9.7h-17.1zM763.3 879.2h33.9v9.7h-33.9zM897.7 879.2h17.1v9.7h-17.1zM1687.3 879.2h17.1v9.7h-17.1zM309.7 869.9h17.1v9.7h-17.1zM964.9 869.9h17.1v9.7h-17.1zM1233.7 869.9h17.1v9.7h-17.1zM1519.3 869.9h17.1v9.7h-17.1zM595.3 860.5h33.9v9.7h-33.9zM679.3 860.5h17.1v9.7h-17.1zM712.9 860.5h17.1v9.7h-17.1zM1032.1 860.5h33.9v9.7h-33.9zM1132.9 860.5h17.1v9.7h-17.1zM208.9 851.1h17.1v9.7h-17.1zM410.5 851.1h33.9v9.7h-33.9zM494.5 851.1h17.1v9.7h-17.1zM578.5 851.1h17.1v9.7h-17.1zM662.5 851.1h17.1v9.7h-17.1zM813.7 851.1h50.7v9.7h-50.7zM1116.1 851.1h33.9v9.7h-33.9zM1384.9 851.1h33.9v9.7h-33.9zM1552.9 851.1h17.1v9.7h-17.1zM158.5 841.7h17.1v9.7h-17.1zM847.3 841.7h17.1v9.7h-17.1zM1334.5 841.7h17.1v9.7h-17.1zM1536.1 841.7h17.1v9.7h-17.1zM1636.9 841.7h17.1v9.7h-17.1zM1216.9 832.4h17.1v9.7h-17.1zM1300.9 832.4h17.1v9.7h-17.1zM1384.9 832.4h17.1v9.7h-17.1zM1502.5 832.4h17.1v9.7h-17.1zM897.7 823.0h17.1v9.7h-17.1zM1200.1 823.0h33.9v9.7h-33.9zM1351.3 823.0h50.7v9.7h-50.7zM1653.7 823.0h17.1v9.7h-17.1zM746.5 813.6h17.1v9.7h-17.1zM813.7 813.6h17.1v9.7h-17.1zM897.7 813.6h17.1v9.7h-17.1zM1519.3 804.2h17.1v9.7h-17.1zM864.1 794.9h17.1v9.7h-17.1zM796.9 785.5h17.1v9.7h-17.1zM796.9 776.1h17.1v9.7h-17.1zM763.3 757.4h17.1v9.7h-17.1zM914.5 757.4h17.1v9.7h-17.1zM864.1 738.6h17.1v9.7h-17.1zM796.9 729.2h17.1v9.7h-17.1zM712.9 719.9h33.9v9.7h-33.9zM830.5 701.1h17.1v9.7h-17.1zM897.7 682.4h33.9v9.7h-33.9z"/>
<path fill="#5CCAC9" d="M208.9 888.6h17.1v9.7h-17.1zM192.1 879.2h17.1v9.7h-17.1zM427.3 879.2h17.1v9.7h-17.1zM880.9 879.2h17.1v9.7h-17.1zM914.5 879.2h33.9v9.7h-33.9zM981.7 879.2h17.1v9.7h-17.1zM1351.3 879.2h17.1v9.7h-17.1zM1384.9 879.2h17.1v9.7h-17.1zM141.7 869.9h17.1v9.7h-17.1zM326.5 869.9h17.1v9.7h-17.1zM544.9 869.9h17.1v9.7h-17.1zM729.7 869.9h17.1v9.7h-17.1zM796.9 869.9h17.1v9.7h-17.1zM948.1 869.9h17.1v9.7h-17.1zM1082.5 869.9h33.9v9.7h-33.9zM1149.7 869.9h17.1v9.7h-17.1zM1536.1 869.9h17.1v9.7h-17.1zM1687.3 869.9h17.1v9.7h-17.1zM124.9 860.5h17.1v9.7h-17.1zM175.3 860.5h17.1v9.7h-17.1zM511.3 860.5h17.1v9.7h-17.1zM864.1 860.5h50.7v9.7h-50.7zM998.5 860.5h17.1v9.7h-17.1zM1099.3 860.5h17.1v9.7h-17.1zM1267.3 860.5h17.1v9.7h-17.1zM1418.5 860.5h17.1v9.7h-17.1zM1485.7 860.5h17.1v9.7h-17.1zM1552.9 860.5h33.9v9.7h-33.9zM477.7 851.1h17.1v9.7h-17.1zM544.9 851.1h17.1v9.7h-17.1zM763.3 851.1h17.1v9.7h-17.1zM880.9 851.1h17.1v9.7h-17.1zM1082.5 851.1h17.1v9.7h-17.1zM1149.7 851.1h33.9v9.7h-33.9zM1267.3 851.1h17.1v9.7h-17.1zM1368.1 851.1h17.1v9.7h-17.1zM1502.5 851.1h17.1v9.7h-17.1zM830.5 841.7h17.1v9.7h-17.1zM1267.3 841.7h17.1v9.7h-17.1zM1401.7 841.7h17.1v9.7h-17.1zM1452.1 841.7h17.1v9.7h-17.1zM1670.5 841.7h17.1v9.7h-17.1zM192.1 832.4h17.1v9.7h-17.1zM292.9 832.4h17.1v9.7h-17.1zM360.1 832.4h17.1v9.7h-17.1zM780.1 832.4h17.1v9.7h-17.1zM1233.7 832.4h17.1v9.7h-17.1zM1401.7 832.4h17.1v9.7h-17.1zM1233.7 823.0h17.1v9.7h-17.1zM1519.3 823.0h17.1v9.7h-17.1zM1452.1 813.6h17.1v9.7h-17.1zM679.3 804.2h17.1v9.7h-17.1zM847.3 804.2h17.1v9.7h-17.1zM1552.9 804.2h17.1v9.7h-17.1zM696.1 794.9h33.9v9.7h-33.9zM1552.9 794.9h33.9v9.7h-33.9zM679.3 785.5h17.1v9.7h-17.1zM712.9 785.5h17.1v9.7h-17.1zM712.9 738.6h17.1v9.7h-17.1zM830.5 710.5h17.1v9.7h-17.1zM679.3 701.1h17.1v9.7h-17.1zM897.7 691.7h33.9v9.7h-33.9zM847.3 673.0h17.1v9.7h-17.1z"/>
<path fill="#5CD0C0" d="M1502.5 888.6h17.1v9.7h-17.1zM208.9 879.2h17.1v9.7h-17.1zM948.1 879.2h17.1v9.7h-17.1zM1267.3 879.2h17.1v9.7h-17.1zM1317.7 879.2h17.1v9.7h-17.1zM1401.7 879.2h17.1v9.7h-17.1zM528.1 869.9h17.1v9.7h-17.1zM1267.3 869.9h33.9v9.7h-33.9zM1351.3 869.9h17.1v9.7h-17.1zM1620.1 869.9h33.9v9.7h-33.9zM158.5 860.5h17.1v9.7h-17.1zM578.5 860.5h17.1v9.7h-17.1zM696.1 860.5h17.1v9.7h-17.1zM830.5 860.5h17.1v9.7h-17.1zM931.3 860.5h17.1v9.7h-17.1zM981.7 860.5h17.1v9.7h-17.1zM1015.3 860.5h17.1v9.7h-17.1zM1233.7 860.5h33.9v9.7h-33.9zM1300.9 860.5h33.9v9.7h-33.9zM1351.3 860.5h33.9v9.7h-33.9zM1502.5 860.5h17.1v9.7h-17.1zM1620.1 860.5h17.1v9.7h-17.1zM158.5 851.1h33.9v9.7h-33.9zM276.1 851.1h17.1v9.7h-17.1zM561.7 851.1h17.1v9.7h-17.1zM729.7 851.1h33.9v9.7h-33.9zM1183.3 851.1h17.1v9.7h-17.1zM1334.5 851.1h17.1v9.7h-17.1zM1519.3 851.1h17.1v9.7h-17.1zM662.5 841.7h33.9v9.7h-33.9zM1032.1 841.7h17.1v9.7h-17.1zM1183.3 841.7h17.1v9.7h-17.1zM1233.7 841.7h17.1v9.7h-17.1zM1485.7 841.7h17.1v9.7h-17.1zM1620.1 841.7h17.1v9.7h-17.1zM1653.7 841.7h17.1v9.7h-17.1zM1334.5 832.4h17.1v9.7h-17.1zM1452.1 832.4h17.1v9.7h-17.1zM763.3 823.0h17.1v9.7h-17.1zM830.5 823.0h17.1v9.7h-17.1zM1536.1 823.0h17.1v9.7h-17.1zM830.5 813.6h17.1v9.7h-17.1zM1351.3 813.6h17.1v9.7h-17.1zM712.9 804.2h17.1v9.7h-17.1zM679.3 794.9h17.1v9.7h-17.1zM796.9 794.9h17.1v9.7h-17.1zM1653.7 785.5h17.1v9.7h-17.1zM746.5 766.7h33.9v9.7h-33.9zM796.9 757.4h17.1v9.7h-17.1zM696.1 729.2h17.1v9.7h-17.1zM914.5 701.1h17.1v9.7h-17.1zM679.3 673.0h17.1v9.7h-17.1zM729.7 673.0h33.9v9.7h-33.9zM712.9 663.6h33.9v9.7h-33.9z"/>
<path fill="#60D5B5" d="M225.7 888.6h17.1v9.7h-17.1zM360.1 888.6h17.1v9.7h-17.1zM511.3 888.6h17.1v9.7h-17.1zM1519.3 888.6h17.1v9.7h-17.1zM158.5 879.2h17.1v9.7h-17.1zM360.1 879.2h17.1v9.7h-17.1zM628.9 879.2h17.1v9.7h-17.1zM696.1 879.2h17.1v9.7h-17.1zM864.1 879.2h17.1v9.7h-17.1zM998.5 879.2h17.1v9.7h-17.1zM1284.1 879.2h17.1v9.7h-17.1zM1368.1 879.2h17.1v9.7h-17.1zM1536.1 879.2h50.7v9.7h-50.7zM1620.1 879.2h67.5v9.7h-67.5zM175.3 869.9h17.1v9.7h-17.1zM225.7 869.9h17.1v9.7h-17.1zM259.3 869.9h17.1v9.7h-17.1zM343.3 869.9h17.1v9.7h-17.1zM460.9 869.9h17.1v9.7h-17.1zM511.3 869.9h17.1v9.7h-17.1zM628.9 869.9h17.1v9.7h-17.1zM662.5 869.9h17.1v9.7h-17.1zM897.7 869.9h17.1v9.7h-17.1zM1032.1 869.9h17.1v9.7h-17.1zM1132.9 869.9h17.1v9.7h-17.1zM1216.9 869.9h17.1v9.7h-17.1zM1334.5 869.9h17.1v9.7h-17.1zM141.7 860.5h17.1v9.7h-17.1zM360.1 860.5h17.1v9.7h-17.1zM393.7 860.5h17.1v9.7h-17.1zM444.1 860.5h17.1v9.7h-17.1zM1284.1 860.5h17.1v9.7h-17.1zM1384.9 860.5h17.1v9.7h-17.1zM1536.1 860.5h17.1v9.7h-17.1zM1687.3 860.5h17.1v9.7h-17.1zM780.1 851.1h17.1v9.7h-17.1zM897.7 851.1h17.1v9.7h-17.1zM1032.1 851.1h17.1v9.7h-17.1zM1200.1 851.1h33.9v9.7h-33.9zM1284.1 851.1h33.9v9.7h-33.9zM1636.9 851.1h33.9v9.7h-33.9zM1200.1 841.7h17.1v9.7h-17.1zM1368.1 841.7h33.9v9.7h-33.9zM1569.7 841.7h17.1v9.7h-17.1zM1435.3 832.4h17.1v9.7h-17.1zM1368.1 813.6h17.1v9.7h-17.1zM1519.3 813.6h17.1v9.7h-17.1zM746.5 757.4h17.1v9.7h-17.1zM864.1 719.9h17.1v9.7h-17.1zM847.3 710.5h17.1v9.7h-17.1zM712.9 673.0h17.1v9.7h-17.1zM847.3 663.6h17.1v9.7h-17.1z"/>
<path fill="#64DAAA" d="M276.1 888.6h17.1v9.7h-17.1zM628.9 888.6h17.1v9.7h-17.1zM1032.1 888.6h17.1v9.7h-17.1zM1065.7 888.6h17.1v9.7h-17.1zM1468.9 888.6h17.1v9.7h-17.1zM175.3 879.2h17.1v9.7h-17.1zM276.1 879.2h17.1v9.7h-17.1zM343.3 879.2h17.1v9.7h-17.1zM376.9 879.2h17.1v9.7h-17.1zM477.7 879.2h17.1v9.7h-17.1zM511.3 879.2h17.1v9.7h-17.1zM796.9 879.2h17.1v9.7h-17.1zM830.5 879.2h17.1v9.7h-17.1zM964.9 879.2h17.1v9.7h-17.1zM1099.3 879.2h17.1v9.7h-17.1zM1183.3 879.2h50.7v9.7h-50.7zM242.5 869.9h17.1v9.7h-17.1zM477.7 869.9h17.1v9.7h-17.1zM645.7 869.9h17.1v9.7h-17.1zM813.7 869.9h33.9v9.7h-33.9zM981.7 869.9h17.1v9.7h-17.1zM1116.1 869.9h17.1v9.7h-17.1zM1166.5 869.9h17.1v9.7h-17.1zM1317.7 869.9h17.1v9.7h-17.1zM1384.9 869.9h17.1v9.7h-17.1zM1586.5 869.9h17.1v9.7h-17.1zM208.9 860.5h17.1v9.7h-17.1zM410.5 860.5h33.9v9.7h-33.9zM528.1 860.5h17.1v9.7h-17.1zM847.3 860.5h17.1v9.7h-17.1zM948.1 860.5h17.1v9.7h-17.1zM1065.7 860.5h17.1v9.7h-17.1zM1166.5 860.5h17.1v9.7h-17.1zM1334.5 860.5h17.1v9.7h-17.1zM1468.9 860.5h17.1v9.7h-17.1zM1603.3 860.5h17.1v9.7h-17.1zM1670.5 860.5h17.1v9.7h-17.1zM292.9 851.1h17.1v9.7h-17.1zM1468.9 851.1h33.9v9.7h-33.9zM1620.1 851.1h17.1v9.7h-17.1zM259.3 841.7h17.1v9.7h-17.1zM897.7 841.7h17.1v9.7h-17.1zM1216.9 841.7h17.1v9.7h-17.1zM1300.9 841.7h17.1v9.7h-17.1zM897.7 832.4h17.1v9.7h-17.1zM1569.7 832.4h17.1v9.7h-17.1zM796.9 823.0h33.9v9.7h-33.9zM914.5 813.6h17.1v9.7h-17.1zM864.1 804.2h17.1v9.7h-17.1zM763.3 776.1h33.9v9.7h-33.9zM864.1 729.2h17.1v9.7h-17.1zM847.3 719.9h17.1v9.7h-17.1z"/>
<path fill="#68DF9F" d="M124.9 888.6h17.1v9.7h-17.1zM242.5 888.6h17.1v9.7h-17.1zM393.7 888.6h17.1v9.7h-17.1zM460.9 888.6h33.9v9.7h-33.9zM578.5 888.6h17.1v9.7h-17.1zM612.1 888.6h17.1v9.7h-17.1zM662.5 888.6h17.1v9.7h-17.1zM796.9 888.6h17.1v9.7h-17.1zM830.5 888.6h17.1v9.7h-17.1zM998.5 888.6h17.1v9.7h-17.1zM124.9 879.2h17.1v9.7h-17.1zM326.5 879.2h17.1v9.7h-17.1zM544.9 879.2h17.1v9.7h-17.1zM746.5 879.2h17.1v9.7h-17.1zM1233.7 879.2h17.1v9.7h-17.1zM1300.9 879.2h17.1v9.7h-17.1zM1603.3 879.2h17.1v9.7h-17.1zM208.9 869.9h17.1v9.7h-17.1zM276.1 869.9h33.9v9.7h-33.9zM578.5 869.9h17.1v9.7h-17.1zM679.3 869.9h17.1v9.7h-17.1zM780.1 869.9h17.1v9.7h-17.1zM1015.3 869.9h17.1v9.7h-17.1zM1250.5 869.9h17.1v9.7h-17.1zM1401.7 869.9h17.1v9.7h-17.1zM1452.1 869.9h33.9v9.7h-33.9zM1552.9 869.9h33.9v9.7h-33.9zM1603.3 869.9h17.1v9.7h-17.1zM1653.7 869.9h17.1v9.7h-17.1zM309.7 860.5h17.1v9.7h-17.1zM343.3 860.5h17.1v9.7h-17.1zM376.9 860.5h17.1v9.7h-17.1zM561.7 860.5h17.1v9.7h-17.1zM763.3 860.5h17.1v9.7h-17.1zM796.9 860.5h33.9v9.7h-33.9zM1149.7 860.5h17.1v9.7h-17.1zM1183.3 860.5h17.1v9.7h-17.1zM1452.1 860.5h17.1v9.7h-17.1zM141.7 851.1h17.1v9.7h-17.1zM1603.3 851.1h17.1v9.7h-17.1zM1670.5 851.1h17.1v9.7h-17.1zM813.7 841.7h17.1v9.7h-17.1zM1250.5 841.7h17.1v9.7h-17.1zM1317.7 841.7h17.1v9.7h-17.1zM813.7 832.4h17.1v9.7h-17.1zM1586.5 832.4h17.1v9.7h-17.1zM780.1 823.0h17.1v9.7h-17.1zM696.1 785.5h17.1v9.7h-17.1zM780.1 757.4h17.1v9.7h-17.1z"/>
<path fill="#6CE291" d="M141.7 888.6h33.9v9.7h-33.9zM192.1 888.6h17.1v9.7h-17.1zM292.9 888.6h17.1v9.7h-17.1zM494.5 888.6h17.1v9.7h-17.1zM981.7 888.6h17.1v9.7h-17.1zM1216.9 888.6h17.1v9.7h-17.1zM1401.7 888.6h17.1v9.7h-17.1zM1485.7 888.6h17.1v9.7h-17.1zM1536.1 888.6h17.1v9.7h-17.1zM1586.5 888.6h17.1v9.7h-17.1zM225.7 879.2h17.1v9.7h-17.1zM309.7 879.2h17.1v9.7h-17.1zM561.7 879.2h17.1v9.7h-17.1zM662.5 879.2h33.9v9.7h-33.9zM729.7 879.2h17.1v9.7h-17.1zM1015.3 879.2h17.1v9.7h-17.1zM1065.7 879.2h33.9v9.7h-33.9zM1149.7 879.2h33.9v9.7h-33.9zM1250.5 879.2h17.1v9.7h-17.1zM1334.5 879.2h17.1v9.7h-17.1zM1418.5 879.2h17.1v9.7h-17.1zM1586.5 879.2h17.1v9.7h-17.1zM124.9 869.9h17.1v9.7h-17.1zM192.1 869.9h17.1v9.7h-17.1zM393.7 869.9h17.1v9.7h-17.1zM444.1 869.9h17.1v9.7h-17.1zM595.3 869.9h17.1v9.7h-17.1zM746.5 869.9h17.1v9.7h-17.1zM1048.9 869.9h17.1v9.7h-17.1zM1300.9 869.9h17.1v9.7h-17.1zM1368.1 869.9h17.1v9.7h-17.1zM1418.5 869.9h33.9v9.7h-33.9zM242.5 860.5h17.1v9.7h-17.1zM276.1 860.5h17.1v9.7h-17.1zM326.5 860.5h17.1v9.7h-17.1zM477.7 860.5h17.1v9.7h-17.1zM544.9 860.5h17.1v9.7h-17.1zM628.9 860.5h17.1v9.7h-17.1zM729.7 860.5h17.1v9.7h-17.1zM1082.5 860.5h17.1v9.7h-17.1zM1216.9 860.5h17.1v9.7h-17.1zM1401.7 860.5h17.1v9.7h-17.1zM1519.3 860.5h17.1v9.7h-17.1zM1586.5 860.5h17.1v9.7h-17.1zM1636.9 860.5h17.1v9.7h-17.1zM1317.7 851.1h17.1v9.7h-17.1zM1569.7 851.1h17.1v9.7h-17.1zM796.9 832.4h17.1v9.7h-17.1zM880.9 738.6h17.1v9.7h-17.1z"/>
<path fill="#73E17F" d="M175.3 888.6h17.1v9.7h-17.1zM309.7 888.6h50.7v9.7h-50.7zM376.9 888.6h17.1v9.7h-17.1zM645.7 888.6h17.1v9.7h-17.1zM712.9 888.6h17.1v9.7h-17.1zM847.3 888.6h33.9v9.7h-33.9zM1183.3 888.6h17.1v9.7h-17.1zM1267.3 888.6h17.1v9.7h-17.1zM1418.5 888.6h17.1v9.7h-17.1zM259.3 879.2h17.1v9.7h-17.1zM528.1 879.2h17.1v9.7h-17.1zM595.3 879.2h17.1v9.7h-17.1zM645.7 879.2h17.1v9.7h-17.1zM813.7 879.2h17.1v9.7h-17.1zM847.3 879.2h17.1v9.7h-17.1zM1116.1 879.2h17.1v9.7h-17.1zM1485.7 879.2h17.1v9.7h-17.1zM1519.3 879.2h17.1v9.7h-17.1zM360.1 869.9h17.1v9.7h-17.1zM998.5 869.9h17.1v9.7h-17.1zM1200.1 869.9h17.1v9.7h-17.1zM1485.7 869.9h17.1v9.7h-17.1zM1670.5 869.9h17.1v9.7h-17.1zM494.5 860.5h17.1v9.7h-17.1zM746.5 860.5h17.1v9.7h-17.1zM1200.1 860.5h17.1v9.7h-17.1zM1653.7 860.5h17.1v9.7h-17.1zM1452.1 851.1h17.1v9.7h-17.1zM1586.5 841.7h17.1v9.7h-17.1z"/>
<path fill="#7CDF6D" d="M444.1 888.6h17.1v9.7h-17.1zM544.9 888.6h17.1v9.7h-17.1zM595.3 888.6h17.1v9.7h-17.1zM813.7 888.6h17.1v9.7h-17.1zM931.3 888.6h17.1v9.7h-17.1zM1082.5 888.6h17.1v9.7h-17.1zM1200.1 888.6h17.1v9.7h-17.1zM1653.7 888.6h17.1v9.7h-17.1zM1687.3 888.6h17.1v9.7h-17.1zM141.7 879.2h17.1v9.7h-17.1zM242.5 879.2h17.1v9.7h-17.1zM393.7 879.2h17.1v9.7h-17.1zM578.5 879.2h17.1v9.7h-17.1zM1032.1 879.2h17.1v9.7h-17.1zM1502.5 879.2h17.1v9.7h-17.1zM847.3 869.9h17.1v9.7h-17.1zM1065.7 869.9h17.1v9.7h-17.1zM780.1 860.5h17.1v9.7h-17.1z"/>
<path fill="#92D75B" d="M259.3 888.6h17.1v9.7h-17.1zM410.5 888.6h33.9v9.7h-33.9zM763.3 888.6h33.9v9.7h-33.9zM897.7 888.6h17.1v9.7h-17.1zM1015.3 888.6h17.1v9.7h-17.1zM1048.9 888.6h17.1v9.7h-17.1zM1250.5 888.6h17.1v9.7h-17.1zM1351.3 888.6h17.1v9.7h-17.1zM1384.9 888.6h17.1v9.7h-17.1zM1452.1 888.6h17.1v9.7h-17.1zM1569.7 888.6h17.1v9.7h-17.1zM1603.3 888.6h17.1v9.7h-17.1zM1636.9 888.6h17.1v9.7h-17.1zM1670.5 888.6h17.1v9.7h-17.1zM292.9 879.2h17.1v9.7h-17.1zM410.5 879.2h17.1v9.7h-17.1zM494.5 879.2h17.1v9.7h-17.1zM376.9 869.9h17.1v9.7h-17.1zM880.9 869.9h17.1v9.7h-17.1zM1183.3 869.9h17.1v9.7h-17.1zM1502.5 869.9h17.1v9.7h-17.1zM192.1 860.5h17.1v9.7h-17.1zM259.3 860.5h17.1v9.7h-17.1z"/>
<path fill="#A8D048" d="M561.7 888.6h17.1v9.7h-17.1zM880.9 888.6h17.1v9.7h-17.1zM914.5 888.6h17.1v9.7h-17.1zM1116.1 888.6h17.1v9.7h-17.1zM1166.5 888.6h17.1v9.7h-17.1zM1233.7 888.6h17.1v9.7h-17.1zM1620.1 888.6h17.1v9.7h-17.1zM1452.1 879.2h33.9v9.7h-33.9zM494.5 869.9h17.1v9.7h-17.1zM763.3 869.9h17.1v9.7h-17.1zM864.1 869.9h17.1v9.7h-17.1zM292.9 860.5h17.1v9.7h-17.1zM1586.5 851.1h17.1v9.7h-17.1z"/>
<path fill="#B6CD45" d="M948.1 888.6h33.9v9.7h-33.9zM1099.3 888.6h17.1v9.7h-17.1zM1317.7 888.6h17.1v9.7h-17.1zM1368.1 888.6h17.1v9.7h-17.1zM1048.9 879.2h17.1v9.7h-17.1z"/>
<path fill="#C3CA42" d="M528.1 888.6h17.1v9.7h-17.1zM1435.3 888.6h17.1v9.7h-17.1zM1552.9 888.6h17.1v9.7h-17.1zM1132.9 879.2h17.1v9.7h-17.1zM1435.3 879.2h17.1v9.7h-17.1z"/>
<path fill="#D1C542" d="M729.7 888.6h33.9v9.7h-33.9zM1132.9 888.6h33.9v9.7h-33.9zM1284.1 888.6h33.9v9.7h-33.9zM1334.5 888.6h17.1v9.7h-17.1z"/>
</g>
<path d="M668.5 663.9H689.6M668.5 833.7H689.6M724 663.9H759M724 833.7H759M793.8 663.9H828.2M793.8 833.7H828.2M863 663.9H898M863 833.7H898M932 663.9H953.6M932 833.7H953.6M670 662.6V683.5M952.3 662.6V683.5M670 727.4V769.5M952.3 727.4V769.5M670 814V835M952.3 814V835" fill="none" stroke="#F0B030" stroke-width="2.8"/>
<line x1="913.3" y1="164" x2="913.3" y2="898.5" stroke="#B2B2B2" stroke-width="3"/>
<rect x="124.9" y="663.6" width="1579.2" height="234.4" fill="none" stroke="#161616" stroke-width="2"/>
<line x1="253.7" y1="663.6" x2="253.7" y2="670.6" stroke="#1a1a1a" stroke-width="1.6"/>
<line x1="253.7" y1="898" x2="253.7" y2="891" stroke="#1a1a1a" stroke-width="1.6"/>
<line x1="418.6" y1="663.6" x2="418.6" y2="670.6" stroke="#1a1a1a" stroke-width="1.6"/>
<line x1="418.6" y1="898" x2="418.6" y2="891" stroke="#1a1a1a" stroke-width="1.6"/>
<line x1="583.5" y1="663.6" x2="583.5" y2="670.6" stroke="#1a1a1a" stroke-width="1.6"/>
<line x1="583.5" y1="898" x2="583.5" y2="891" stroke="#1a1a1a" stroke-width="1.6"/>
<line x1="748.4" y1="663.6" x2="748.4" y2="670.6" stroke="#1a1a1a" stroke-width="1.6"/>
<line x1="748.4" y1="898" x2="748.4" y2="891" stroke="#1a1a1a" stroke-width="1.6"/>
<line x1="1078.2" y1="663.6" x2="1078.2" y2="670.6" stroke="#1a1a1a" stroke-width="1.6"/>
<line x1="1078.2" y1="898" x2="1078.2" y2="891" stroke="#1a1a1a" stroke-width="1.6"/>
<line x1="1243.1" y1="663.6" x2="1243.1" y2="670.6" stroke="#1a1a1a" stroke-width="1.6"/>
<line x1="1243.1" y1="898" x2="1243.1" y2="891" stroke="#1a1a1a" stroke-width="1.6"/>
<line x1="1408" y1="663.6" x2="1408" y2="670.6" stroke="#1a1a1a" stroke-width="1.6"/>
<line x1="1408" y1="898" x2="1408" y2="891" stroke="#1a1a1a" stroke-width="1.6"/>
<line x1="1572.9" y1="663.6" x2="1572.9" y2="670.6" stroke="#1a1a1a" stroke-width="1.6"/>
<line x1="1572.9" y1="898" x2="1572.9" y2="891" stroke="#1a1a1a" stroke-width="1.6"/>
<line x1="124.9" y1="711" x2="140.9" y2="711" stroke="#1a1a1a" stroke-width="1.6"/>
<line x1="1704.1" y1="711" x2="1688.1" y2="711" stroke="#1a1a1a" stroke-width="1.6"/>
<line x1="124.9" y1="758.4" x2="140.9" y2="758.4" stroke="#1a1a1a" stroke-width="1.6"/>
<line x1="1704.1" y1="758.4" x2="1688.1" y2="758.4" stroke="#1a1a1a" stroke-width="1.6"/>
<line x1="124.9" y1="805.8" x2="140.9" y2="805.8" stroke="#1a1a1a" stroke-width="1.6"/>
<line x1="1704.1" y1="805.8" x2="1688.1" y2="805.8" stroke="#1a1a1a" stroke-width="1.6"/>
<line x1="124.9" y1="853.2" x2="140.9" y2="853.2" stroke="#1a1a1a" stroke-width="1.6"/>
<line x1="1704.1" y1="853.2" x2="1688.1" y2="853.2" stroke="#1a1a1a" stroke-width="1.6"/>
<text x="119.5" y="664.96" text-anchor="end">100</text>
<text x="119.5" y="902.36" text-anchor="end">0</text>
<text text-anchor="middle" style="font-size:26.7px;" transform="translate(82 783) rotate(-90)">Frequency (Hz)</text>
<text x="752.5" y="644.5" text-anchor="middle" style="font-size:26.7px;">Increased gamma power</text>
<text x="111.5" y="944.36" text-anchor="middle">500</text>
<text x="912.5" y="933.36" text-anchor="middle">0</text>
<text x="963" y="933.612" style="font-size:26.7px;">Time (ms)</text>
<text x="1712.5" y="942.86" text-anchor="middle">500</text>
<rect x="1742.2" y="663.6" width="54.3" height="233.6" fill="url(#cb)" stroke="#161616" stroke-width="2"/>
<line x1="1796.5" y1="702.533" x2="1791" y2="702.533" stroke="#1a1a1a" stroke-width="1.4"/>
<line x1="1796.5" y1="741.467" x2="1791" y2="741.467" stroke="#1a1a1a" stroke-width="1.4"/>
<line x1="1796.5" y1="780.4" x2="1791" y2="780.4" stroke="#1a1a1a" stroke-width="1.4"/>
<line x1="1796.5" y1="819.333" x2="1791" y2="819.333" stroke="#1a1a1a" stroke-width="1.4"/>
<line x1="1796.5" y1="858.267" x2="1791" y2="858.267" stroke="#1a1a1a" stroke-width="1.4"/>
<text x="1814" y="670.36">-10</text>
<text x="1814" y="910.06">-60</text>
<text text-anchor="middle" style="font-size:26.7px;" transform="translate(1825.5 783) rotate(90)">Power (dB)</text>
<g clip-path="url(#clhD)"><g filter="url(#hD)">
<rect x="113.6" y="1092.3" width="805.2" height="512.3" fill="url(#phD)"/>
<rect x="515.176" y="1092.3" width="403.624" height="512.3" fill="url(#postD)" opacity="0.16"/>
<rect x="515.176" y="1092.3" width="403.624" height="512.3" fill="#fff" opacity="0.05"/>
<path d="M376.1 1092.3H513.7V1101.8H376.1zM371.4 1101.8H515.9V1111.3H371.4zM386.1 1111.3H519.4V1120.8H386.1zM368.6 1120.8H524.3V1130.2H368.6zM380.3 1130.2H519.8V1139.7H380.3zM376.5 1139.7H533.3V1149.2H376.5zM386.2 1149.2H524.4V1158.7H386.2zM379.3 1158.7H524.3V1168.2H379.3zM384.3 1168.2H528.8V1177.7H384.3zM373.7 1177.7H531.9V1187.2H373.7zM387.7 1187.2H509.0V1196.7H387.7zM378.4 1196.7H511.1V1206.1H378.4zM369.6 1206.1H513.1V1215.6H369.6zM387.3 1215.6H494.1V1225.1H387.3zM370.0 1225.1H499.1V1234.6H370.0zM371.5 1234.6H504.2V1244.1H371.5zM387.7 1244.1H516.9V1253.6H387.7zM388.3 1253.6H526.3V1263.1H388.3zM385.7 1263.1H522.1V1272.6H385.7zM373.3 1272.6H518.2V1282.0H373.3zM370.4 1282.0H521.4V1291.5H370.4zM381.5 1291.5H512.1V1301.0H381.5zM379.5 1301.0H529.8V1310.5H379.5zM386.2 1310.5H523.0V1320.0H386.2zM369.9 1320.0H529.8V1329.5H369.9zM383.1 1329.5H517.6V1339.0H383.1zM377.5 1339.0H521.0V1348.4H377.5zM388.7 1348.4H520.0V1357.9H388.7zM388.3 1357.9H531.5V1367.4H388.3zM392.5 1367.4H518.7V1376.9H392.5zM373.7 1376.9H521.9V1386.4H373.7zM387.5 1386.4H519.2V1395.9H387.5zM391.7 1395.9H517.8V1405.4H391.7zM383.0 1405.4H527.9V1414.9H383.0zM394.9 1414.9H528.3V1424.3H394.9zM387.5 1424.3H521.7V1433.8H387.5zM382.4 1433.8H531.8V1443.3H382.4zM391.1 1443.3H527.9V1452.8H391.1zM369.8 1452.8H530.9V1462.3H369.8zM373.1 1462.3H518.3V1471.8H373.1zM385.2 1471.8H531.4V1481.3H385.2zM372.2 1481.3H523.3V1490.8H372.2zM386.9 1490.8H525.3V1500.2H386.9zM378.9 1500.2H532.1V1509.7H378.9zM374.3 1509.7H515.0V1519.2H374.3zM394.1 1519.2H525.8V1528.7H394.1zM369.1 1528.7H519.1V1538.2H369.1zM387.7 1538.2H513.4V1547.7H387.7zM388.5 1547.7H512.4V1557.2H388.5zM372.8 1557.2H509.2V1566.7H372.8zM386.7 1566.7H522.6V1576.1H386.7zM382.1 1576.1H501.3V1585.6H382.1zM377.6 1585.6H510.8V1595.1H377.6zM388.5 1595.1H514.1V1604.6H388.5z" fill="#fff" opacity="0.23"/>
<path d="M386.1 1092.3H505.7V1098.2H386.1zM381.4 1101.8H507.9V1107.7H381.4zM396.1 1111.3H511.4V1117.2H396.1zM378.6 1120.8H516.3V1126.6H378.6zM390.3 1130.2H511.8V1136.1H390.3zM386.5 1139.7H525.3V1145.6H386.5zM396.2 1149.2H516.4V1155.1H396.2zM389.3 1158.7H516.3V1164.6H389.3zM394.3 1168.2H520.8V1174.1H394.3zM383.7 1177.7H523.9V1183.6H383.7zM397.7 1187.2H501.0V1193.1H397.7zM388.4 1196.7H503.1V1202.5H388.4zM379.6 1206.1H505.1V1212.0H379.6zM397.3 1215.6H486.1V1221.5H397.3zM380.0 1225.1H491.1V1231.0H380.0zM381.5 1234.6H496.2V1240.5H381.5zM397.7 1244.1H508.9V1250.0H397.7zM398.3 1253.6H518.3V1259.5H398.3zM395.7 1263.1H514.1V1268.9H395.7zM383.3 1272.6H510.2V1278.4H383.3zM380.4 1282.0H513.4V1287.9H380.4zM391.5 1291.5H504.1V1297.4H391.5zM389.5 1301.0H521.8V1306.9H389.5zM396.2 1310.5H515.0V1316.4H396.2zM379.9 1320.0H521.8V1325.9H379.9zM393.1 1329.5H509.6V1335.4H393.1zM387.5 1339.0H513.0V1344.8H387.5zM398.7 1348.4H512.0V1354.3H398.7zM398.3 1357.9H523.5V1363.8H398.3zM402.5 1367.4H510.7V1373.3H402.5zM383.7 1376.9H513.9V1382.8H383.7zM397.5 1386.4H511.2V1392.3H397.5zM401.7 1395.9H509.8V1401.8H401.7zM393.0 1405.4H519.9V1411.3H393.0zM404.9 1414.9H520.3V1420.7H404.9zM397.5 1424.3H513.7V1430.2H397.5zM392.4 1433.8H523.8V1439.7H392.4zM401.1 1443.3H519.9V1449.2H401.1zM379.8 1452.8H522.9V1458.7H379.8zM383.1 1462.3H510.3V1468.2H383.1zM395.2 1471.8H523.4V1477.7H395.2zM382.2 1481.3H515.3V1487.2H382.2zM396.9 1490.8H517.3V1496.6H396.9zM388.9 1500.2H524.1V1506.1H388.9zM384.3 1509.7H507.0V1515.6H384.3zM404.1 1519.2H517.8V1525.1H404.1zM379.1 1528.7H511.1V1534.6H379.1zM397.7 1538.2H505.4V1544.1H397.7zM398.5 1547.7H504.4V1553.6H398.5zM382.8 1557.2H501.2V1563.0H382.8zM396.7 1566.7H514.6V1572.5H396.7zM392.1 1576.1H493.3V1582.0H392.1zM387.6 1585.6H502.8V1591.5H387.6zM398.5 1595.1H506.1V1601.0H398.5z" fill="#fff" opacity="0.37"/>
<path d="M431.8 1092.3H441.9V1097.0H416.1zM393.5 1101.8H471.5V1106.5H411.4zM433.1 1111.3H466.0V1116.0H426.1zM399.0 1120.8H481.4V1125.5H408.6zM422.0 1130.2H455.0V1135.0H420.3zM412.0 1139.7H459.1V1144.5H416.5zM420.7 1149.2H492.9V1154.0H426.2zM410.1 1158.7H488.8V1163.5H419.3zM415.5 1168.2H483.5V1172.9H424.3zM414.2 1177.7H508.7V1182.4H413.7zM435.4 1187.2H449.6V1191.9H427.7zM412.0 1196.7H458.8V1201.4H418.4zM428.5 1206.1H481.3V1210.9H409.6zM436.2 1215.6H447.6V1220.4H427.3zM396.0 1225.1H475.1V1229.9H410.0zM399.1 1234.6H429.1V1239.3H411.5zM444.8 1244.1H448.5V1248.8H427.7zM441.9 1253.6H463.6V1258.3H428.3zM427.8 1263.1H492.3V1267.8H425.7zM424.7 1272.6H441.9V1277.3H413.3zM427.6 1282.0H456.1V1286.8H410.4zM410.2 1291.5H483.5V1296.3H421.5zM407.9 1301.0H467.9V1305.8H419.5zM417.1 1310.5H465.9V1315.2H426.2zM393.2 1320.0H454.2V1324.7H409.9zM409.9 1329.5H484.0V1334.2H423.1zM432.0 1339.0H485.6V1343.7H417.5zM436.5 1348.4H451.5V1353.2H428.7zM420.8 1357.9H488.3V1362.7H428.3zM447.7 1367.4H452.7V1372.2H432.5zM426.8 1376.9H446.0V1381.7H413.7zM419.0 1386.4H451.2V1391.1H427.5zM422.8 1395.9H474.0V1400.6H431.7zM436.5 1405.4H477.9V1410.1H423.0zM428.7 1414.9H453.4V1419.6H434.9zM409.4 1424.3H500.4V1429.1H427.5zM441.5 1433.8H483.6V1438.6H422.4zM430.3 1443.3H506.2V1448.1H431.1zM411.4 1452.8H508.4V1457.6H409.8zM413.0 1462.3H465.3V1467.0H413.1zM416.3 1471.8H465.5V1476.5H425.2zM401.9 1481.3H476.5V1486.0H412.2zM430.1 1490.8H465.6V1495.5H426.9zM416.4 1500.2H491.8V1505.0H418.9zM404.9 1509.7H472.4V1514.5H414.3zM419.9 1519.2H465.7V1524.0H434.1zM389.3 1528.7H486.3V1533.4H409.1zM419.5 1538.2H436.1V1542.9H427.7zM427.1 1547.7H443.0V1552.4H428.5zM394.4 1557.2H439.2V1561.9H412.8zM437.9 1566.7H497.8V1571.4H426.7zM439.2 1576.1H470.1V1580.9H422.1zM426.2 1585.6H468.0V1590.4H417.6zM428.5 1595.1H471.1V1599.9H428.5z" fill="#fff" opacity="0.24"/>
</g></g>
<path d="M113.6 1101.79H908.8M113.6 1111.27H908.8M113.6 1120.76H908.8M113.6 1130.25H908.8M113.6 1139.74H908.8M113.6 1149.22H908.8M113.6 1158.71H908.8M113.6 1168.20H908.8M113.6 1177.68H908.8M113.6 1187.17H908.8M113.6 1196.66H908.8M113.6 1206.14H908.8M113.6 1215.63H908.8M113.6 1225.12H908.8M113.6 1234.61H908.8M113.6 1244.09H908.8M113.6 1253.58H908.8M113.6 1263.07H908.8M113.6 1272.55H908.8M113.6 1282.04H908.8M113.6 1291.53H908.8M113.6 1301.01H908.8M113.6 1310.50H908.8M113.6 1319.99H908.8M113.6 1329.48H908.8M113.6 1338.96H908.8M113.6 1348.45H908.8M113.6 1357.94H908.8M113.6 1367.42H908.8M113.6 1376.91H908.8M113.6 1386.40H908.8M113.6 1395.89H908.8M113.6 1405.37H908.8M113.6 1414.86H908.8M113.6 1424.35H908.8M113.6 1433.83H908.8M113.6 1443.32H908.8M113.6 1452.81H908.8M113.6 1462.29H908.8M113.6 1471.78H908.8M113.6 1481.27H908.8M113.6 1490.76H908.8M113.6 1500.24H908.8M113.6 1509.73H908.8M113.6 1519.22H908.8M113.6 1528.70H908.8M113.6 1538.19H908.8M113.6 1547.68H908.8M113.6 1557.16H908.8M113.6 1566.65H908.8M113.6 1576.14H908.8M113.6 1585.63H908.8M113.6 1595.11H908.8" stroke="#1a2a2a" stroke-width="0.9" opacity="0.85" fill="none"/>
<rect x="113.6" y="1092.3" width="795.2" height="512.3" fill="none" stroke="#1a1a1a" stroke-width="1.6"/>
<text x="19" y="1054.61" style="font-size:26.7px;">Trials</text>
<text x="450" y="1054.32" text-anchor="middle" style="fill:#E5A831;font-size:24.5px;">100 ms</text>
<line x1="346.9" y1="1070.5" x2="518.3" y2="1070.5" stroke="#E8AC35" stroke-width="3.3"/>
<text x="84.5" y="1106.06" text-anchor="end">54</text>
<text x="84.5" y="1610.86" text-anchor="end">1</text>
<text x="105" y="1645.36" text-anchor="middle">-500</text>
<text x="515" y="1650.36" text-anchor="middle">0</text>
<text x="552.7" y="1663.61" style="font-size:26.7px;">Time (ms)</text>
<text x="910" y="1645.36" text-anchor="middle">500</text>
<rect x="939.8" y="1100.8" width="26.6" height="494.7" fill="url(#cb)" stroke="#161616" stroke-width="2"/>
<line x1="966.4" y1="1183.25" x2="960.9" y2="1183.25" stroke="#1a1a1a" stroke-width="1.4"/>
<line x1="966.4" y1="1265.7" x2="960.9" y2="1265.7" stroke="#1a1a1a" stroke-width="1.4"/>
<line x1="966.4" y1="1348.15" x2="960.9" y2="1348.15" stroke="#1a1a1a" stroke-width="1.4"/>
<line x1="966.4" y1="1430.6" x2="960.9" y2="1430.6" stroke="#1a1a1a" stroke-width="1.4"/>
<line x1="966.4" y1="1513.05" x2="960.9" y2="1513.05" stroke="#1a1a1a" stroke-width="1.4"/>
<text x="987.3" y="1110.76">-20</text>
<text x="987.3" y="1605.16">-70</text>
<text text-anchor="middle" style="font-size:26.7px;" transform="translate(1002.5 1338) rotate(90)">Power (dB)</text>
<g clip-path="url(#clhG)"><g filter="url(#hG)">
<rect x="112.3" y="1866.6" width="806.8" height="512.9" fill="url(#phG)"/>
<rect x="391.18" y="1866.6" width="527.92" height="512.9" fill="url(#postD)" opacity="0.12"/>
<rect x="112.3" y="1866.6" width="806.8" height="512.9" fill="#fff" opacity="0.11"/>
</g></g>
<path d="M112.3 1877.51H909.1M112.3 1888.43H909.1M112.3 1899.34H909.1M112.3 1910.25H909.1M112.3 1921.16H909.1M112.3 1932.08H909.1M112.3 1942.99H909.1M112.3 1953.90H909.1M112.3 1964.81H909.1M112.3 1975.73H909.1M112.3 1986.64H909.1M112.3 1997.55H909.1M112.3 2008.47H909.1M112.3 2019.38H909.1M112.3 2030.29H909.1M112.3 2041.20H909.1M112.3 2052.12H909.1M112.3 2063.03H909.1M112.3 2073.94H909.1M112.3 2084.86H909.1M112.3 2095.77H909.1M112.3 2106.68H909.1M112.3 2117.59H909.1M112.3 2128.51H909.1M112.3 2139.42H909.1M112.3 2150.33H909.1M112.3 2161.24H909.1M112.3 2172.16H909.1M112.3 2183.07H909.1M112.3 2193.98H909.1M112.3 2204.90H909.1M112.3 2215.81H909.1M112.3 2226.72H909.1M112.3 2237.63H909.1M112.3 2248.55H909.1M112.3 2259.46H909.1M112.3 2270.37H909.1M112.3 2281.29H909.1M112.3 2292.20H909.1M112.3 2303.11H909.1M112.3 2314.02H909.1M112.3 2324.94H909.1M112.3 2335.85H909.1M112.3 2346.76H909.1M112.3 2357.67H909.1M112.3 2368.59H909.1" stroke="#1a2a2a" stroke-width="0.9" opacity="0.85" fill="none"/>
<rect x="112.3" y="1866.6" width="796.8" height="512.9" fill="none" stroke="#1a1a1a" stroke-width="1.6"/>
<line x1="178.6" y1="2379.5" x2="178.6" y2="2370.5" stroke="#1a1a1a" stroke-width="1.4"/>
<line x1="261.7" y1="2379.5" x2="261.7" y2="2370.5" stroke="#1a1a1a" stroke-width="1.4"/>
<line x1="344.8" y1="2379.5" x2="344.8" y2="2370.5" stroke="#1a1a1a" stroke-width="1.4"/>
<line x1="427.9" y1="2379.5" x2="427.9" y2="2370.5" stroke="#1a1a1a" stroke-width="1.4"/>
<line x1="511" y1="2379.5" x2="511" y2="2370.5" stroke="#1a1a1a" stroke-width="1.4"/>
<line x1="594.1" y1="2379.5" x2="594.1" y2="2370.5" stroke="#1a1a1a" stroke-width="1.4"/>
<line x1="677.2" y1="2379.5" x2="677.2" y2="2370.5" stroke="#1a1a1a" stroke-width="1.4"/>
<line x1="760.3" y1="2379.5" x2="760.3" y2="2370.5" stroke="#1a1a1a" stroke-width="1.4"/>
<line x1="843.4" y1="2379.5" x2="843.4" y2="2370.5" stroke="#1a1a1a" stroke-width="1.4"/>
<text x="19" y="1827.61" style="font-size:26.7px;">Trials</text>
<text x="307" y="1827.36" text-anchor="middle" style="font-size:26.7px;">Microstate D</text>
<text x="746.7" y="1827.36" text-anchor="middle" style="font-size:26.7px;">Microstate C</text>
<text x="509.5" y="1809.31" text-anchor="middle" style="font-weight:bold;fill:#7b7b7b;font-size:26.7px;">Transition</text>
<line x1="405.7" y1="1819.9" x2="652" y2="1819.9" stroke="#B0B0B0" stroke-width="2.9"/>
<path d="M626 1810.5 L653 1819.9 L626 1829.5" fill="none" stroke="#B0B0B0" stroke-width="2.9"/>
<text x="84.5" y="1880.96" text-anchor="end">47</text>
<text x="84.5" y="2384.36" text-anchor="end">1</text>
<text x="105" y="2420.36" text-anchor="middle">-500</text>
<text x="511.6" y="2424.16" text-anchor="middle">0</text>
<text x="550" y="2438.31" style="font-size:26.7px;">Time (ms)</text>
<text x="910" y="2420.36" text-anchor="middle">500</text>
<rect x="939.8" y="1871" width="26.6" height="494.3" fill="url(#cb)" stroke="#161616" stroke-width="2"/>
<line x1="966.4" y1="1953.38" x2="960.9" y2="1953.38" stroke="#1a1a1a" stroke-width="1.4"/>
<line x1="966.4" y1="2035.77" x2="960.9" y2="2035.77" stroke="#1a1a1a" stroke-width="1.4"/>
<line x1="966.4" y1="2118.15" x2="960.9" y2="2118.15" stroke="#1a1a1a" stroke-width="1.4"/>
<line x1="966.4" y1="2200.53" x2="960.9" y2="2200.53" stroke="#1a1a1a" stroke-width="1.4"/>
<line x1="966.4" y1="2282.92" x2="960.9" y2="2282.92" stroke="#1a1a1a" stroke-width="1.4"/>
<text x="987.3" y="1880.96">-20</text>
<text x="987.3" y="2374.96">-70</text>
<text text-anchor="middle" style="font-size:26.7px;" transform="translate(1001.5 2108.5) rotate(90)">Power (dB)</text>
<rect x="1214.7" y="1301" width="91.6" height="299" fill="#5FA3A3" stroke="#000" stroke-width="2.1"/>
<rect x="1331" y="1343.3" width="91.5" height="256.7" fill="#D15848" stroke="#000" stroke-width="2.1"/>
<path d="M1260.5 1230.5V1372.2M1238.5 1230.5H1282.5M1238.5 1372.2H1282.5" stroke="#000" stroke-width="2.1" fill="none"/>
<g fill="#5FA3A3" stroke="#000" stroke-width="1.1"><circle cx="1260.1" cy="1173.0" r="4.9"/><circle cx="1252.1" cy="1189.5" r="4.9"/><circle cx="1268.2" cy="1186.2" r="4.9"/><circle cx="1219.5" cy="1202.3" r="4.9"/><circle cx="1300.8" cy="1203.4" r="4.9"/><circle cx="1236.0" cy="1209.7" r="4.9"/><circle cx="1252.1" cy="1210.8" r="4.9"/><circle cx="1284.7" cy="1211.5" r="4.9"/><circle cx="1268.2" cy="1218.1" r="4.9"/><circle cx="1268.2" cy="1231.6" r="4.9"/><circle cx="1284.7" cy="1232.4" r="4.9"/><circle cx="1236.0" cy="1239.3" r="4.9"/><circle cx="1252.1" cy="1242.3" r="4.9"/><circle cx="1268.2" cy="1244.5" r="4.9"/><circle cx="1284.7" cy="1251.1" r="4.9"/><circle cx="1236.0" cy="1254.0" r="4.9"/><circle cx="1268.2" cy="1257.3" r="4.9"/><circle cx="1252.1" cy="1263.9" r="4.9"/><circle cx="1284.7" cy="1269.4" r="4.9"/><circle cx="1236.0" cy="1274.1" r="4.9"/><circle cx="1252.1" cy="1273.4" r="4.9"/><circle cx="1268.2" cy="1275.2" r="4.9"/><circle cx="1284.7" cy="1280.4" r="4.9"/><circle cx="1236.0" cy="1284.0" r="4.9"/><circle cx="1219.5" cy="1294.3" r="4.9"/><circle cx="1300.8" cy="1294.3" r="4.9"/><circle cx="1252.1" cy="1293.2" r="4.9"/><circle cx="1236.0" cy="1302.3" r="4.9"/><circle cx="1252.1" cy="1303.1" r="4.9"/><circle cx="1268.2" cy="1302.3" r="4.9"/><circle cx="1284.7" cy="1299.4" r="4.9"/><circle cx="1268.2" cy="1316.3" r="4.9"/><circle cx="1252.1" cy="1319.6" r="4.9"/><circle cx="1236.0" cy="1323.6" r="4.9"/><circle cx="1284.7" cy="1325.1" r="4.9"/><circle cx="1219.5" cy="1353.6" r="4.9"/><circle cx="1300.8" cy="1350.7" r="4.9"/><circle cx="1236.0" cy="1350.0" r="4.9"/><circle cx="1252.1" cy="1354.4" r="4.9"/><circle cx="1268.2" cy="1350.7" r="4.9"/><circle cx="1284.7" cy="1357.3" r="4.9"/><circle cx="1236.0" cy="1364.6" r="4.9"/><circle cx="1252.1" cy="1364.6" r="4.9"/><circle cx="1268.2" cy="1363.9" r="4.9"/><circle cx="1284.7" cy="1367.2" r="4.9"/><circle cx="1236.0" cy="1374.1" r="4.9"/><circle cx="1252.1" cy="1378.5" r="4.9"/><circle cx="1268.2" cy="1376.3" r="4.9"/><circle cx="1284.7" cy="1381.1" r="4.9"/><circle cx="1260.1" cy="1390.3" r="4.9"/><circle cx="1252.1" cy="1415.2" r="4.9"/><circle cx="1268.2" cy="1414.4" r="4.9"/><circle cx="1260.1" cy="1438.6" r="4.9"/><circle cx="1260.1" cy="1480.0" r="4.9"/></g>
<line x1="1260.5" y1="1600" x2="1260.5" y2="1620" stroke="#000" stroke-width="2.3"/>
<path d="M1376.75 1284.2V1403M1354.75 1284.2H1398.75M1354.75 1403H1398.75" stroke="#000" stroke-width="2.1" fill="none"/>
<g fill="#D15848" stroke="#000" stroke-width="1.1"><circle cx="1376.7" cy="1259.2" r="4.9"/><circle cx="1368.3" cy="1269.2" r="4.9"/><circle cx="1376.7" cy="1271.7" r="4.9"/><circle cx="1360.0" cy="1276.2" r="4.9"/><circle cx="1384.7" cy="1277.5" r="4.9"/><circle cx="1392.8" cy="1276.2" r="4.9"/><circle cx="1368.3" cy="1281.7" r="4.9"/><circle cx="1376.7" cy="1284.7" r="4.9"/><circle cx="1376.7" cy="1294.7" r="4.9"/><circle cx="1384.7" cy="1306.3" r="4.9"/><circle cx="1368.3" cy="1313.7" r="4.9"/><circle cx="1384.7" cy="1316.7" r="4.9"/><circle cx="1376.7" cy="1325.3" r="4.9"/><circle cx="1384.7" cy="1331.7" r="4.9"/><circle cx="1336.2" cy="1332.0" r="4.9"/><circle cx="1400.8" cy="1335.8" r="4.9"/><circle cx="1368.3" cy="1337.0" r="4.9"/><circle cx="1344.2" cy="1339.2" r="4.9"/><circle cx="1360.0" cy="1339.7" r="4.9"/><circle cx="1376.7" cy="1341.7" r="4.9"/><circle cx="1336.2" cy="1344.2" r="4.9"/><circle cx="1368.3" cy="1346.7" r="4.9"/><circle cx="1384.7" cy="1345.8" r="4.9"/><circle cx="1400.8" cy="1345.8" r="4.9"/><circle cx="1344.2" cy="1349.2" r="4.9"/><circle cx="1360.0" cy="1350.0" r="4.9"/><circle cx="1376.7" cy="1350.8" r="4.9"/><circle cx="1392.8" cy="1350.0" r="4.9"/><circle cx="1408.8" cy="1350.0" r="4.9"/><circle cx="1417.2" cy="1348.8" r="4.9"/><circle cx="1368.3" cy="1356.3" r="4.9"/><circle cx="1384.7" cy="1360.0" r="4.9"/><circle cx="1392.8" cy="1360.8" r="4.9"/><circle cx="1360.0" cy="1363.3" r="4.9"/><circle cx="1368.3" cy="1367.5" r="4.9"/><circle cx="1376.7" cy="1373.3" r="4.9"/><circle cx="1360.0" cy="1374.7" r="4.9"/><circle cx="1384.7" cy="1373.7" r="4.9"/><circle cx="1368.3" cy="1380.3" r="4.9"/><circle cx="1384.7" cy="1384.2" r="4.9"/><circle cx="1376.7" cy="1388.3" r="4.9"/><circle cx="1368.3" cy="1395.0" r="4.9"/><circle cx="1384.7" cy="1395.8" r="4.9"/><circle cx="1376.7" cy="1403.3" r="4.9"/><circle cx="1368.3" cy="1408.8" r="4.9"/><circle cx="1384.7" cy="1412.0" r="4.9"/><circle cx="1377.0" cy="1191.4" r="4.9"/><circle cx="1377.0" cy="1205.3" r="4.9"/><circle cx="1377.0" cy="1232.7" r="4.9"/><circle cx="1377.0" cy="1425.1" r="4.9"/><circle cx="1377.0" cy="1434.2" r="4.9"/><circle cx="1385.1" cy="1440.4" r="4.9"/><circle cx="1377.0" cy="1448.9" r="4.9"/><circle cx="1377.0" cy="1503.1" r="4.9"/></g>
<line x1="1376.75" y1="1600" x2="1376.75" y2="1620" stroke="#000" stroke-width="2.3"/>
<line x1="1186.3" y1="1121.25" x2="1186.3" y2="1603" stroke="#000" stroke-width="2.3"/>
<line x1="1165.8" y1="1600" x2="1470" y2="1600" stroke="#000" stroke-width="2.3"/>
<line x1="1165.8" y1="1123" x2="1186.3" y2="1123" stroke="#000" stroke-width="2.3"/>
<text x="1146.3" y="1136.36" text-anchor="end">1.5</text>
<line x1="1165.8" y1="1281.7" x2="1186.3" y2="1281.7" stroke="#000" stroke-width="2.3"/>
<text x="1146.3" y="1295.06" text-anchor="end">1.0</text>
<line x1="1165.8" y1="1440.5" x2="1186.3" y2="1440.5" stroke="#000" stroke-width="2.3"/>
<text x="1146.3" y="1453.86" text-anchor="end">0.5</text>
<line x1="1165.8" y1="1600" x2="1186.3" y2="1600" stroke="#000" stroke-width="2.3"/>
<text x="1146.3" y="1613.36" text-anchor="end">0.0</text>
<text x="1315.5" y="1114" text-anchor="middle" style="font-size:27px;">p=0.0009</text>
<line x1="1260" y1="1141" x2="1376" y2="1141" stroke="#000" stroke-width="2.4"/>
<text transform="translate(1090 1361) rotate(-90)" text-anchor="middle" style="font-size:26.5px">NAc Gamma Power (mV<tspan style="font-size:14px" dy="-9">2</tspan><tspan dy="9">)</tspan></text>
<text x="1138.5" y="1084">×10<tspan style="font-size:14px" dy="-9.5">-3</tspan></text>
<text transform="translate(1281.2 1634.3) rotate(-45)" text-anchor="end" style="font-size:26.6px">Pre Transition</text>
<text transform="translate(1392.3 1638.5) rotate(-45)" text-anchor="end" style="font-size:26.6px">Post Transition</text>
<rect x="1645" y="1302.4" width="91.5" height="296.6" fill="#5FA3A3" stroke="#000" stroke-width="2.1"/>
<rect x="1781.4" y="1407.5" width="90.8" height="191.5" fill="#D15848" stroke="#000" stroke-width="2.1"/>
<path d="M1690.75 1273V1331.3M1668.75 1273H1712.75M1668.75 1331.3H1712.75" stroke="#000" stroke-width="2.1" fill="none"/>
<g fill="#5FA3A3" stroke="#000" stroke-width="1.1"><circle cx="1686.0" cy="1256.7" r="4.9"/><circle cx="1658.9" cy="1264.8" r="4.9"/><circle cx="1667.9" cy="1264.0" r="4.9"/><circle cx="1677.2" cy="1263.2" r="4.9"/><circle cx="1686.0" cy="1266.6" r="4.9"/><circle cx="1695.0" cy="1265.5" r="4.9"/><circle cx="1704.0" cy="1261.7" r="4.9"/><circle cx="1712.8" cy="1263.2" r="4.9"/><circle cx="1722.4" cy="1266.6" r="4.9"/><circle cx="1658.9" cy="1274.8" r="4.9"/><circle cx="1677.2" cy="1273.7" r="4.9"/><circle cx="1704.0" cy="1272.5" r="4.9"/><circle cx="1712.8" cy="1272.8" r="4.9"/><circle cx="1686.0" cy="1277.9" r="4.9"/><circle cx="1695.0" cy="1279.5" r="4.9"/><circle cx="1722.4" cy="1280.2" r="4.9"/><circle cx="1704.0" cy="1282.1" r="4.9"/><circle cx="1712.8" cy="1284.9" r="4.9"/><circle cx="1658.9" cy="1285.7" r="4.9"/><circle cx="1677.2" cy="1286.0" r="4.9"/><circle cx="1722.4" cy="1291.1" r="4.9"/><circle cx="1686.0" cy="1293.4" r="4.9"/><circle cx="1695.0" cy="1293.4" r="4.9"/><circle cx="1704.0" cy="1292.9" r="4.9"/><circle cx="1658.9" cy="1301.1" r="4.9"/><circle cx="1677.2" cy="1300.8" r="4.9"/><circle cx="1712.8" cy="1301.4" r="4.9"/><circle cx="1722.4" cy="1300.4" r="4.9"/><circle cx="1667.9" cy="1306.9" r="4.9"/><circle cx="1686.0" cy="1309.2" r="4.9"/><circle cx="1695.0" cy="1305.0" r="4.9"/><circle cx="1704.0" cy="1305.8" r="4.9"/><circle cx="1731.4" cy="1307.6" r="4.9"/><circle cx="1722.4" cy="1310.0" r="4.9"/><circle cx="1658.9" cy="1311.2" r="4.9"/><circle cx="1712.8" cy="1313.0" r="4.9"/><circle cx="1695.0" cy="1315.1" r="4.9"/><circle cx="1704.0" cy="1315.4" r="4.9"/><circle cx="1667.9" cy="1316.6" r="4.9"/><circle cx="1686.0" cy="1320.5" r="4.9"/><circle cx="1712.8" cy="1326.7" r="4.9"/><circle cx="1677.2" cy="1329.8" r="4.9"/><circle cx="1695.0" cy="1330.1" r="4.9"/><circle cx="1686.0" cy="1332.9" r="4.9"/><circle cx="1704.0" cy="1333.3" r="4.9"/><circle cx="1667.9" cy="1335.2" r="4.9"/><circle cx="1712.8" cy="1339.5" r="4.9"/><circle cx="1677.2" cy="1341.1" r="4.9"/><circle cx="1695.0" cy="1341.7" r="4.9"/><circle cx="1704.0" cy="1342.6" r="4.9"/><circle cx="1686.0" cy="1344.8" r="4.9"/><circle cx="1690.4" cy="1355.8" r="4.9"/><circle cx="1681.5" cy="1360.4" r="4.9"/><circle cx="1699.6" cy="1358.9" r="4.9"/></g>
<line x1="1690.75" y1="1599" x2="1690.75" y2="1619" stroke="#000" stroke-width="2.3"/>
<path d="M1826.8 1373.6V1441.2M1804.8 1373.6H1848.8M1804.8 1441.2H1848.8" stroke="#000" stroke-width="2.1" fill="none"/>
<g fill="#D15848" stroke="#000" stroke-width="1.1"><circle cx="1836.9" cy="1351.1" r="4.9"/><circle cx="1796.4" cy="1353.4" r="4.9"/><circle cx="1857.0" cy="1353.0" r="4.9"/><circle cx="1806.4" cy="1356.8" r="4.9"/><circle cx="1816.5" cy="1356.1" r="4.9"/><circle cx="1847.0" cy="1358.7" r="4.9"/><circle cx="1836.9" cy="1361.8" r="4.9"/><circle cx="1826.9" cy="1365.4" r="4.9"/><circle cx="1786.3" cy="1370.5" r="4.9"/><circle cx="1836.9" cy="1373.9" r="4.9"/><circle cx="1796.4" cy="1380.8" r="4.9"/><circle cx="1847.0" cy="1380.8" r="4.9"/><circle cx="1806.4" cy="1383.6" r="4.9"/><circle cx="1836.9" cy="1383.2" r="4.9"/><circle cx="1867.1" cy="1382.4" r="4.9"/><circle cx="1857.0" cy="1384.7" r="4.9"/><circle cx="1816.5" cy="1386.3" r="4.9"/><circle cx="1826.9" cy="1388.6" r="4.9"/><circle cx="1796.4" cy="1390.1" r="4.9"/><circle cx="1847.0" cy="1391.4" r="4.9"/><circle cx="1836.9" cy="1392.4" r="4.9"/><circle cx="1867.1" cy="1392.0" r="4.9"/><circle cx="1806.4" cy="1394.8" r="4.9"/><circle cx="1786.3" cy="1396.3" r="4.9"/><circle cx="1857.0" cy="1395.5" r="4.9"/><circle cx="1816.5" cy="1397.5" r="4.9"/><circle cx="1847.0" cy="1404.8" r="4.9"/><circle cx="1806.4" cy="1407.6" r="4.9"/><circle cx="1816.5" cy="1408.7" r="4.9"/><circle cx="1836.9" cy="1408.2" r="4.9"/><circle cx="1826.9" cy="1410.7" r="4.9"/><circle cx="1847.0" cy="1415.3" r="4.9"/><circle cx="1806.4" cy="1420.8" r="4.9"/><circle cx="1816.5" cy="1421.1" r="4.9"/><circle cx="1826.9" cy="1422.6" r="4.9"/><circle cx="1786.3" cy="1428.8" r="4.9"/><circle cx="1836.9" cy="1428.8" r="4.9"/><circle cx="1847.0" cy="1434.7" r="4.9"/><circle cx="1796.4" cy="1439.6" r="4.9"/><circle cx="1806.4" cy="1438.1" r="4.9"/><circle cx="1816.5" cy="1437.8" r="4.9"/><circle cx="1867.1" cy="1437.8" r="4.9"/><circle cx="1836.9" cy="1441.2" r="4.9"/><circle cx="1857.0" cy="1442.0" r="4.9"/><circle cx="1786.3" cy="1444.0" r="4.9"/><circle cx="1826.9" cy="1444.8" r="4.9"/><circle cx="1847.0" cy="1450.2" r="4.9"/><circle cx="1806.4" cy="1450.8" r="4.9"/><circle cx="1857.0" cy="1453.6" r="4.9"/><circle cx="1816.5" cy="1456.2" r="4.9"/><circle cx="1836.9" cy="1455.9" r="4.9"/><circle cx="1826.9" cy="1458.2" r="4.9"/><circle cx="1806.4" cy="1460.5" r="4.9"/><circle cx="1847.0" cy="1465.2" r="4.9"/></g>
<line x1="1826.8" y1="1599" x2="1826.8" y2="1619" stroke="#000" stroke-width="2.3"/>
<line x1="1600.4" y1="1119.25" x2="1600.4" y2="1602" stroke="#000" stroke-width="2.3"/>
<line x1="1579.9" y1="1599" x2="1920" y2="1599" stroke="#000" stroke-width="2.3"/>
<line x1="1579.9" y1="1121" x2="1600.4" y2="1121" stroke="#000" stroke-width="2.3"/>
<text x="1560.8" y="1131.56" text-anchor="end">2.5</text>
<line x1="1579.9" y1="1217.3" x2="1600.4" y2="1217.3" stroke="#000" stroke-width="2.3"/>
<text x="1560.8" y="1227.86" text-anchor="end">2.0</text>
<line x1="1579.9" y1="1312.5" x2="1600.4" y2="1312.5" stroke="#000" stroke-width="2.3"/>
<text x="1560.8" y="1323.06" text-anchor="end">1.5</text>
<line x1="1579.9" y1="1407.7" x2="1600.4" y2="1407.7" stroke="#000" stroke-width="2.3"/>
<text x="1560.8" y="1418.26" text-anchor="end">1.0</text>
<line x1="1579.9" y1="1503" x2="1600.4" y2="1503" stroke="#000" stroke-width="2.3"/>
<text x="1560.8" y="1513.56" text-anchor="end">0.5</text>
<line x1="1579.9" y1="1599" x2="1600.4" y2="1599" stroke="#000" stroke-width="2.3"/>
<text x="1560.8" y="1609.56" text-anchor="end">0.0</text>
<text x="1758.6" y="1136.7" text-anchor="middle" style="font-size:27px;">p&lt;0.0001</text>
<line x1="1700.7" y1="1162" x2="1817" y2="1162" stroke="#000" stroke-width="2.4"/>
<text transform="translate(1504 1338) rotate(-90)" text-anchor="middle" style="font-size:26.5px">NAc gamma aperiodic components</text>
<text transform="translate(1714 1633) rotate(-45)" text-anchor="end" style="font-size:26.6px">Pre Transition</text>
<text transform="translate(1838 1638) rotate(-45)" text-anchor="end" style="font-size:26.6px">Post Transition</text>
<rect x="1216.1" y="2044.6" width="91" height="283.6" fill="#5FA3A3" stroke="#000" stroke-width="2.1"/>
<rect x="1335.7" y="2049" width="91.2" height="279.2" fill="#D15848" stroke="#000" stroke-width="2.1"/>
<path d="M1261.6 2002.1V2086.4M1239.6 2002.1H1283.6M1239.6 2086.4H1283.6" stroke="#000" stroke-width="2.1" fill="none"/>
<g fill="#5FA3A3" stroke="#000" stroke-width="1.1"><circle cx="1261.4" cy="1943.6" r="4.9"/><circle cx="1248.1" cy="1963.6" r="4.9"/><circle cx="1256.9" cy="1967.9" r="4.9"/><circle cx="1275.3" cy="1963.9" r="4.9"/><circle cx="1261.4" cy="1982.1" r="4.9"/><circle cx="1256.9" cy="1991.9" r="4.9"/><circle cx="1248.1" cy="1996.7" r="4.9"/><circle cx="1256.9" cy="2001.4" r="4.9"/><circle cx="1266.0" cy="2005.7" r="4.9"/><circle cx="1252.4" cy="2014.6" r="4.9"/><circle cx="1261.4" cy="2017.6" r="4.9"/><circle cx="1270.4" cy="2017.6" r="4.9"/><circle cx="1248.1" cy="2027.6" r="4.9"/><circle cx="1221.1" cy="2033.6" r="4.9"/><circle cx="1230.0" cy="2036.9" r="4.9"/><circle cx="1248.1" cy="2037.1" r="4.9"/><circle cx="1256.9" cy="2035.4" r="4.9"/><circle cx="1266.0" cy="2032.9" r="4.9"/><circle cx="1275.3" cy="2033.9" r="4.9"/><circle cx="1293.1" cy="2034.7" r="4.9"/><circle cx="1302.4" cy="2040.4" r="4.9"/><circle cx="1284.0" cy="2041.1" r="4.9"/><circle cx="1266.0" cy="2042.4" r="4.9"/><circle cx="1238.9" cy="2048.1" r="4.9"/><circle cx="1248.1" cy="2049.3" r="4.9"/><circle cx="1256.9" cy="2048.6" r="4.9"/><circle cx="1275.3" cy="2046.4" r="4.9"/><circle cx="1266.0" cy="2053.6" r="4.9"/><circle cx="1284.0" cy="2052.1" r="4.9"/><circle cx="1248.1" cy="2059.7" r="4.9"/><circle cx="1256.9" cy="2058.3" r="4.9"/><circle cx="1266.0" cy="2066.4" r="4.9"/><circle cx="1275.3" cy="2064.0" r="4.9"/><circle cx="1284.0" cy="2065.0" r="4.9"/><circle cx="1248.1" cy="2073.3" r="4.9"/><circle cx="1256.9" cy="2071.9" r="4.9"/><circle cx="1238.9" cy="2077.9" r="4.9"/><circle cx="1275.3" cy="2078.6" r="4.9"/><circle cx="1284.0" cy="2075.7" r="4.9"/><circle cx="1256.9" cy="2084.3" r="4.9"/><circle cx="1248.1" cy="2092.9" r="4.9"/><circle cx="1266.0" cy="2091.4" r="4.9"/><circle cx="1275.3" cy="2089.6" r="4.9"/><circle cx="1261.4" cy="2103.3" r="4.9"/><circle cx="1261.4" cy="2113.1" r="4.9"/><circle cx="1261.4" cy="2123.6" r="4.9"/><circle cx="1261.4" cy="2135.7" r="4.9"/></g>
<line x1="1261.6" y1="2328.2" x2="1261.6" y2="2348.2" stroke="#000" stroke-width="2.3"/>
<path d="M1381.3 2006.4V2092.1M1359.3 2006.4H1403.3M1359.3 2092.1H1403.3" stroke="#000" stroke-width="2.1" fill="none"/>
<g fill="#D15848" stroke="#000" stroke-width="1.1"><circle cx="1395.0" cy="1949.0" r="4.9"/><circle cx="1381.4" cy="1953.6" r="4.9"/><circle cx="1381.4" cy="1970.0" r="4.9"/><circle cx="1354.3" cy="1997.9" r="4.9"/><circle cx="1367.6" cy="1996.7" r="4.9"/><circle cx="1395.0" cy="1997.1" r="4.9"/><circle cx="1381.4" cy="2001.7" r="4.9"/><circle cx="1408.6" cy="2005.7" r="4.9"/><circle cx="1367.6" cy="2010.7" r="4.9"/><circle cx="1381.4" cy="2011.1" r="4.9"/><circle cx="1395.0" cy="2011.1" r="4.9"/><circle cx="1367.6" cy="2025.0" r="4.9"/><circle cx="1381.4" cy="2024.3" r="4.9"/><circle cx="1408.6" cy="2027.6" r="4.9"/><circle cx="1395.0" cy="2031.9" r="4.9"/><circle cx="1421.9" cy="2034.3" r="4.9"/><circle cx="1354.3" cy="2037.1" r="4.9"/><circle cx="1367.6" cy="2041.4" r="4.9"/><circle cx="1381.4" cy="2040.7" r="4.9"/><circle cx="1395.0" cy="2041.9" r="4.9"/><circle cx="1408.6" cy="2040.7" r="4.9"/><circle cx="1341.1" cy="2048.6" r="4.9"/><circle cx="1354.3" cy="2049.3" r="4.9"/><circle cx="1421.9" cy="2047.6" r="4.9"/><circle cx="1367.6" cy="2051.4" r="4.9"/><circle cx="1381.4" cy="2050.0" r="4.9"/><circle cx="1354.3" cy="2058.6" r="4.9"/><circle cx="1395.0" cy="2056.4" r="4.9"/><circle cx="1408.6" cy="2059.6" r="4.9"/><circle cx="1367.6" cy="2064.3" r="4.9"/><circle cx="1381.4" cy="2063.6" r="4.9"/><circle cx="1354.3" cy="2071.4" r="4.9"/><circle cx="1395.0" cy="2074.3" r="4.9"/><circle cx="1408.6" cy="2073.3" r="4.9"/><circle cx="1381.4" cy="2076.7" r="4.9"/><circle cx="1367.6" cy="2079.0" r="4.9"/><circle cx="1408.6" cy="2083.3" r="4.9"/><circle cx="1395.0" cy="2087.1" r="4.9"/><circle cx="1367.6" cy="2090.7" r="4.9"/><circle cx="1381.4" cy="2090.4" r="4.9"/><circle cx="1354.3" cy="2100.0" r="4.9"/><circle cx="1367.6" cy="2102.1" r="4.9"/><circle cx="1381.4" cy="2104.3" r="4.9"/><circle cx="1408.6" cy="2101.9" r="4.9"/><circle cx="1381.4" cy="2119.7" r="4.9"/><circle cx="1395.0" cy="2123.6" r="4.9"/><circle cx="1367.6" cy="2132.6" r="4.9"/></g>
<line x1="1381.3" y1="2328.2" x2="1381.3" y2="2348.2" stroke="#000" stroke-width="2.3"/>
<line x1="1188" y1="1848.95" x2="1188" y2="2331.2" stroke="#000" stroke-width="2.3"/>
<line x1="1167.5" y1="2328.2" x2="1474" y2="2328.2" stroke="#000" stroke-width="2.3"/>
<line x1="1167.5" y1="1850.7" x2="1188" y2="1850.7" stroke="#000" stroke-width="2.3"/>
<text x="1146.2" y="1850.56" text-anchor="end">1.5</text>
<line x1="1167.5" y1="2009.7" x2="1188" y2="2009.7" stroke="#000" stroke-width="2.3"/>
<text x="1146.2" y="2009.56" text-anchor="end">1.0</text>
<line x1="1167.5" y1="2168.8" x2="1188" y2="2168.8" stroke="#000" stroke-width="2.3"/>
<text x="1146.2" y="2168.66" text-anchor="end">0.5</text>
<line x1="1167.5" y1="2328.2" x2="1188" y2="2328.2" stroke="#000" stroke-width="2.3"/>
<text x="1146.2" y="2328.06" text-anchor="end">0.0</text>
<text x="1312" y="1882.7" text-anchor="middle" style="font-size:27px;">p=0.5633</text>
<line x1="1257.5" y1="1909" x2="1373" y2="1909" stroke="#000" stroke-width="2.4"/>
<text transform="translate(1087.5 2073) rotate(-90)" text-anchor="middle" style="font-size:26.5px">NAc Gamma Power (mV<tspan style="font-size:14px" dy="-9">2</tspan><tspan dy="9">)</tspan></text>
<text x="1136" y="1797">×10<tspan style="font-size:14px" dy="-9.5">-4</tspan></text>
<text transform="translate(1262 2368.8) rotate(-45)" text-anchor="end" style="font-size:26.6px">Pre Transition</text>
<text transform="translate(1394.1 2374.1) rotate(-45)" text-anchor="end" style="font-size:26.6px">Post Transition</text>
<rect x="1660.1" y="2045.8" width="91.3" height="281.6" fill="#5FA3A3" stroke="#000" stroke-width="2.1"/>
<rect x="1779.8" y="2057.4" width="91.2" height="270" fill="#D15848" stroke="#000" stroke-width="2.1"/>
<path d="M1705.75 1993V2099M1683.75 1993H1727.75M1683.75 2099H1727.75" stroke="#000" stroke-width="2.1" fill="none"/>
<g fill="#5FA3A3" stroke="#000" stroke-width="1.1"><circle cx="1713.5" cy="1946.3" r="4.9"/><circle cx="1697.3" cy="1952.5" r="4.9"/><circle cx="1681.0" cy="1961.8" r="4.9"/><circle cx="1697.3" cy="1963.3" r="4.9"/><circle cx="1713.5" cy="1966.4" r="4.9"/><circle cx="1697.3" cy="1978.5" r="4.9"/><circle cx="1713.5" cy="1982.7" r="4.9"/><circle cx="1681.0" cy="1987.3" r="4.9"/><circle cx="1729.8" cy="1985.3" r="4.9"/><circle cx="1713.5" cy="1996.9" r="4.9"/><circle cx="1697.3" cy="2000.5" r="4.9"/><circle cx="1713.5" cy="2006.7" r="4.9"/><circle cx="1729.8" cy="2010.8" r="4.9"/><circle cx="1681.0" cy="2014.4" r="4.9"/><circle cx="1697.3" cy="2015.2" r="4.9"/><circle cx="1697.3" cy="2026.8" r="4.9"/><circle cx="1665.1" cy="2033.3" r="4.9"/><circle cx="1681.0" cy="2036.1" r="4.9"/><circle cx="1713.5" cy="2031.7" r="4.9"/><circle cx="1729.8" cy="2033.0" r="4.9"/><circle cx="1746.0" cy="2030.7" r="4.9"/><circle cx="1697.3" cy="2038.4" r="4.9"/><circle cx="1746.0" cy="2041.0" r="4.9"/><circle cx="1681.0" cy="2046.1" r="4.9"/><circle cx="1697.3" cy="2049.2" r="4.9"/><circle cx="1713.5" cy="2046.6" r="4.9"/><circle cx="1729.8" cy="2045.4" r="4.9"/><circle cx="1729.8" cy="2058.8" r="4.9"/><circle cx="1713.5" cy="2063.2" r="4.9"/><circle cx="1681.0" cy="2066.3" r="4.9"/><circle cx="1729.8" cy="2068.6" r="4.9"/><circle cx="1713.5" cy="2073.7" r="4.9"/><circle cx="1681.0" cy="2079.9" r="4.9"/><circle cx="1697.3" cy="2084.8" r="4.9"/><circle cx="1729.8" cy="2083.7" r="4.9"/><circle cx="1713.5" cy="2086.8" r="4.9"/><circle cx="1681.0" cy="2091.0" r="4.9"/><circle cx="1713.5" cy="2096.4" r="4.9"/><circle cx="1697.3" cy="2100.3" r="4.9"/><circle cx="1697.3" cy="2110.4" r="4.9"/><circle cx="1713.5" cy="2112.4" r="4.9"/><circle cx="1681.0" cy="2117.8" r="4.9"/><circle cx="1729.8" cy="2118.6" r="4.9"/><circle cx="1713.5" cy="2124.0" r="4.9"/><circle cx="1697.3" cy="2127.1" r="4.9"/><circle cx="1729.8" cy="2128.2" r="4.9"/><circle cx="1705.3" cy="2139.8" r="4.9"/></g>
<line x1="1705.75" y1="2327.4" x2="1705.75" y2="2347.4" stroke="#000" stroke-width="2.3"/>
<path d="M1825.4 1994.7V2120.7M1803.4 1994.7H1847.4M1803.4 2120.7H1847.4" stroke="#000" stroke-width="2.1" fill="none"/>
<g fill="#D15848" stroke="#000" stroke-width="1.1"><circle cx="1824.9" cy="1947.5" r="4.9"/><circle cx="1833.5" cy="1957.6" r="4.9"/><circle cx="1849.7" cy="1961.3" r="4.9"/><circle cx="1800.6" cy="1962.6" r="4.9"/><circle cx="1816.9" cy="1964.4" r="4.9"/><circle cx="1833.5" cy="1970.6" r="4.9"/><circle cx="1849.7" cy="1970.6" r="4.9"/><circle cx="1816.9" cy="1979.6" r="4.9"/><circle cx="1849.7" cy="1979.9" r="4.9"/><circle cx="1833.5" cy="1987.3" r="4.9"/><circle cx="1849.7" cy="2004.3" r="4.9"/><circle cx="1800.6" cy="2010.2" r="4.9"/><circle cx="1833.5" cy="2015.6" r="4.9"/><circle cx="1816.9" cy="2017.2" r="4.9"/><circle cx="1849.7" cy="2013.9" r="4.9"/><circle cx="1800.6" cy="2025.7" r="4.9"/><circle cx="1833.5" cy="2025.2" r="4.9"/><circle cx="1849.7" cy="2026.3" r="4.9"/><circle cx="1816.9" cy="2028.8" r="4.9"/><circle cx="1849.7" cy="2045.4" r="4.9"/><circle cx="1816.9" cy="2048.9" r="4.9"/><circle cx="1833.5" cy="2054.3" r="4.9"/><circle cx="1849.7" cy="2064.2" r="4.9"/><circle cx="1784.7" cy="2068.1" r="4.9"/><circle cx="1800.6" cy="2067.5" r="4.9"/><circle cx="1816.9" cy="2066.3" r="4.9"/><circle cx="1866.0" cy="2067.5" r="4.9"/><circle cx="1833.5" cy="2074.3" r="4.9"/><circle cx="1800.6" cy="2085.6" r="4.9"/><circle cx="1816.9" cy="2085.3" r="4.9"/><circle cx="1833.5" cy="2091.0" r="4.9"/><circle cx="1816.9" cy="2096.9" r="4.9"/><circle cx="1800.6" cy="2112.7" r="4.9"/><circle cx="1833.5" cy="2112.7" r="4.9"/><circle cx="1849.7" cy="2111.4" r="4.9"/><circle cx="1866.0" cy="2111.9" r="4.9"/><circle cx="1784.7" cy="2117.3" r="4.9"/><circle cx="1849.7" cy="2125.4" r="4.9"/><circle cx="1784.7" cy="2133.6" r="4.9"/><circle cx="1800.6" cy="2131.7" r="4.9"/><circle cx="1816.9" cy="2134.3" r="4.9"/><circle cx="1866.0" cy="2132.8" r="4.9"/><circle cx="1833.5" cy="2138.2" r="4.9"/><circle cx="1849.7" cy="2138.2" r="4.9"/><circle cx="1800.6" cy="2142.1" r="4.9"/><circle cx="1833.5" cy="2150.6" r="4.9"/><circle cx="1816.9" cy="2154.2" r="4.9"/></g>
<line x1="1825.4" y1="2327.4" x2="1825.4" y2="2347.4" stroke="#000" stroke-width="2.3"/>
<line x1="1632" y1="1848.25" x2="1632" y2="2330.4" stroke="#000" stroke-width="2.3"/>
<line x1="1611.5" y1="2327.4" x2="1918.5" y2="2327.4" stroke="#000" stroke-width="2.3"/>
<line x1="1611.5" y1="1850" x2="1632" y2="1850" stroke="#000" stroke-width="2.3"/>
<text x="1575.8" y="1847.36" text-anchor="end">2.5</text>
<line x1="1611.5" y1="1945.7" x2="1632" y2="1945.7" stroke="#000" stroke-width="2.3"/>
<text x="1575.8" y="1943.06" text-anchor="end">2.0</text>
<line x1="1611.5" y1="2041" x2="1632" y2="2041" stroke="#000" stroke-width="2.3"/>
<text x="1575.8" y="2038.36" text-anchor="end">1.5</text>
<line x1="1611.5" y1="2136.4" x2="1632" y2="2136.4" stroke="#000" stroke-width="2.3"/>
<text x="1575.8" y="2133.76" text-anchor="end">1.0</text>
<line x1="1611.5" y1="2232" x2="1632" y2="2232" stroke="#000" stroke-width="2.3"/>
<text x="1575.8" y="2229.36" text-anchor="end">0.5</text>
<line x1="1611.5" y1="2327.4" x2="1632" y2="2327.4" stroke="#000" stroke-width="2.3"/>
<text x="1575.8" y="2324.76" text-anchor="end">0.0</text>
<text x="1764.3" y="1882.7" text-anchor="middle" style="font-size:27px;">p=0.3272</text>
<line x1="1708.6" y1="1909.5" x2="1825.6" y2="1909.5" stroke="#000" stroke-width="2.4"/>
<text transform="translate(1514 2070.5) rotate(-90)" text-anchor="middle" style="font-size:26.5px">NAc gamma aperiodic components</text>
<text transform="translate(1714 2368.5) rotate(-45)" text-anchor="end" style="font-size:26.6px">Pre Transition</text>
<text transform="translate(1846.6 2375.2) rotate(-45)" text-anchor="end" style="font-size:26.6px">Post Transition</text>
</svg>
</body></html>
